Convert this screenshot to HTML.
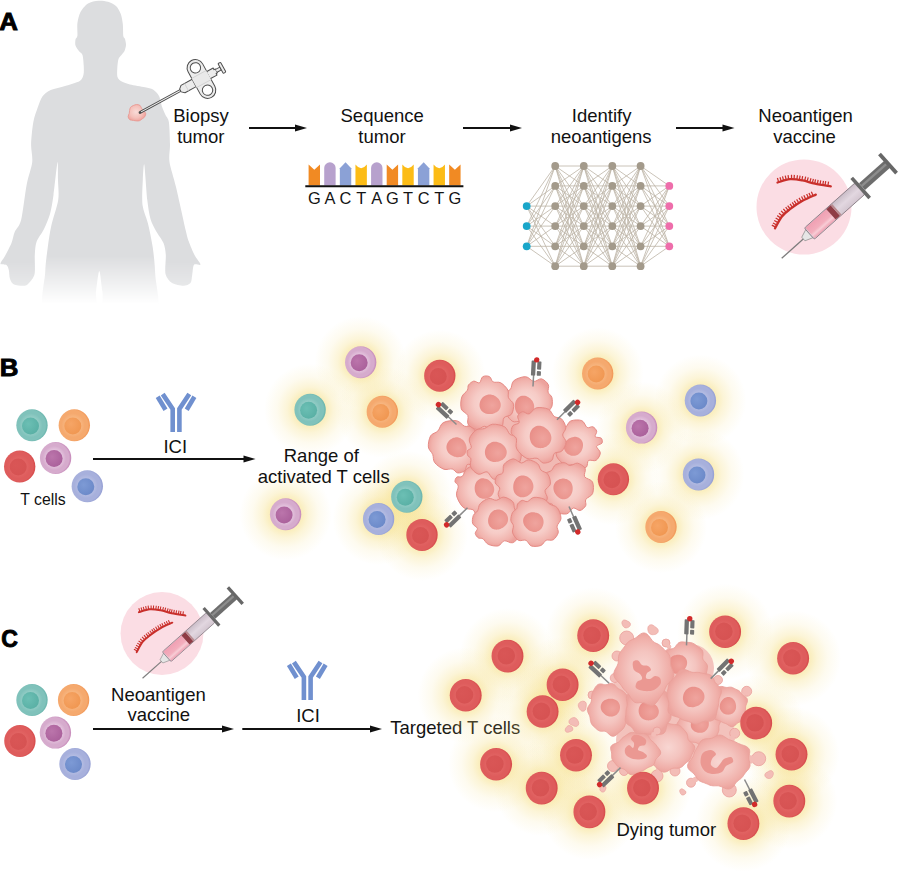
<!DOCTYPE html>
<html><head><meta charset="utf-8"><style>
html,body{margin:0;padding:0;background:#fff;width:900px;height:873px;overflow:hidden}
svg{display:block}
</style></head><body>
<svg width="900" height="873" viewBox="0 0 900 873" font-family="Liberation Sans, sans-serif">
<defs><radialGradient id="glow"><stop offset="0" stop-color="#f5dc7a" stop-opacity="0.65"/><stop offset="0.35" stop-color="#f5dc7a" stop-opacity="0.5"/><stop offset="0.5" stop-color="#f5dc7a" stop-opacity="0.3"/><stop offset="0.72" stop-color="#f5dc7a" stop-opacity="0.12"/><stop offset="1" stop-color="#f5dc7a" stop-opacity="0"/></radialGradient>
<radialGradient id="c_teal" cx="0.46" cy="0.5" r="0.52"><stop offset="0.45" stop-color="#96cec7"/><stop offset="0.72" stop-color="#80c2bb"/><stop offset="0.9" stop-color="#80c2bb"/><stop offset="1" stop-color="#6db7af"/></radialGradient>
<radialGradient id="n_teal" cx="0.38" cy="0.38" r="0.7"><stop offset="0" stop-color="#6cbfb4"/><stop offset="1" stop-color="#58afa4"/></radialGradient>
<radialGradient id="c_orange" cx="0.46" cy="0.5" r="0.52"><stop offset="0.45" stop-color="#f7b782"/><stop offset="0.72" stop-color="#f5a96e"/><stop offset="0.9" stop-color="#f5a96e"/><stop offset="1" stop-color="#f29a5a"/></radialGradient>
<radialGradient id="n_orange" cx="0.38" cy="0.38" r="0.7"><stop offset="0" stop-color="#f6a566"/><stop offset="1" stop-color="#f09650"/></radialGradient>
<radialGradient id="c_red" cx="0.46" cy="0.5" r="0.52"><stop offset="0.45" stop-color="#e26564"/><stop offset="0.72" stop-color="#de5c5c"/><stop offset="0.9" stop-color="#de5c5c"/><stop offset="1" stop-color="#d84d4d"/></radialGradient>
<radialGradient id="n_red" cx="0.38" cy="0.38" r="0.7"><stop offset="0" stop-color="#d95656"/><stop offset="1" stop-color="#d65252"/></radialGradient>
<radialGradient id="c_purple" cx="0.46" cy="0.5" r="0.52"><stop offset="0.45" stop-color="#e5c6df"/><stop offset="0.72" stop-color="#d6abcd"/><stop offset="0.9" stop-color="#d6abcd"/><stop offset="1" stop-color="#c98fbd"/></radialGradient>
<radialGradient id="n_purple" cx="0.38" cy="0.38" r="0.7"><stop offset="0" stop-color="#bb75ab"/><stop offset="1" stop-color="#a95f9a"/></radialGradient>
<radialGradient id="c_blue" cx="0.46" cy="0.5" r="0.52"><stop offset="0.45" stop-color="#b6bee3"/><stop offset="0.72" stop-color="#a7b0dc"/><stop offset="0.9" stop-color="#a7b0dc"/><stop offset="1" stop-color="#98a2d5"/></radialGradient>
<radialGradient id="n_blue" cx="0.38" cy="0.38" r="0.7"><stop offset="0" stop-color="#7d9ad5"/><stop offset="1" stop-color="#6a88c8"/></radialGradient>
<linearGradient id="fadeg" gradientUnits="userSpaceOnUse" x1="0" y1="256" x2="0" y2="304"><stop offset="0" stop-color="#fff"/><stop offset="1" stop-color="#fff" stop-opacity="0"/></linearGradient>
<linearGradient id="fadeh" gradientUnits="userSpaceOnUse" x1="0" y1="262" x2="0" y2="335"><stop offset="0" stop-color="#fff"/><stop offset="1" stop-color="#fff" stop-opacity="0"/></linearGradient>
<mask id="bodymask" maskUnits="userSpaceOnUse" x="0" y="0" width="220" height="330"><rect x="0" y="0" width="220" height="256" fill="#fff"/><rect x="0" y="256" width="40" height="6" fill="#fff"/><rect x="160" y="256" width="60" height="6" fill="#fff"/><rect x="0" y="262" width="40" height="60" fill="url(#fadeh)"/><rect x="160" y="262" width="60" height="60" fill="url(#fadeh)"/><rect x="40" y="256" width="120" height="66" fill="url(#fadeg)"/></mask>
<radialGradient id="tumA" cx="0.45" cy="0.45" r="0.6"><stop offset="0" stop-color="#f9dcd8"/><stop offset="0.6" stop-color="#f4c0ba"/><stop offset="1" stop-color="#ec9e98"/></radialGradient>
<linearGradient id="liq" x1="0" y1="0" x2="0" y2="1"><stop offset="0" stop-color="#f0a0b3"/><stop offset="0.55" stop-color="#f3aebd"/><stop offset="0.75" stop-color="#f8cdd6"/><stop offset="1" stop-color="#ee9fb1"/></linearGradient>
<linearGradient id="barrel" x1="0" y1="0" x2="0" y2="1"><stop offset="0" stop-color="#c9bcc7"/><stop offset="0.5" stop-color="#e2d7e0"/><stop offset="1" stop-color="#d3c6d0"/></linearGradient>
<radialGradient id="tc" cx="0.5" cy="0.5" r="0.5"><stop offset="0" stop-color="#f9dcd8"/><stop offset="0.5" stop-color="#f6cbc6"/><stop offset="0.85" stop-color="#f1b3ad"/><stop offset="1" stop-color="#eda29c"/></radialGradient>
<radialGradient id="tn" cx="0.6" cy="0.55" r="0.6"><stop offset="0" stop-color="#efa49e"/><stop offset="0.7" stop-color="#eb968f"/><stop offset="1" stop-color="#e98f89"/></radialGradient>
<radialGradient id="dc" cx="0.5" cy="0.5" r="0.5"><stop offset="0" stop-color="#f8d6d2"/><stop offset="0.5" stop-color="#f4c4bf"/><stop offset="0.85" stop-color="#f0afa9"/><stop offset="1" stop-color="#eca49e"/></radialGradient></defs>
<rect width="900" height="873" fill="#fff"/>
<path d="M98.4,0.8C101.23,0.56 105.51,1.06 108,1.8C110.49,2.54 114.19,4.27 116,6C117.81,7.73 119.84,11.45 120.8,14C121.76,16.55 122.45,20.88 122.8,24C123.15,27.12 122.99,33.88 123.3,36C123.61,38.12 124.62,37.73 125,39C125.38,40.27 126.07,43.3 126,45C125.93,46.7 125.14,49.58 124.5,51C123.86,52.42 122.35,53.87 121.5,55C120.65,56.13 119.09,57.16 118.5,59C117.91,60.84 117.44,65.45 117.3,68C117.16,70.55 116.86,75.07 117.5,77C118.14,78.93 120.03,80.54 121.8,81.6C123.57,82.66 126.71,83.69 130,84.5C133.29,85.31 141.74,86.59 145,87.3C148.26,88.01 151.02,88.27 153,89.5C154.98,90.73 157.7,93.48 159,96C160.3,98.52 161.28,104.61 162.2,107.3C163.12,109.99 164.55,112.89 165.5,115C166.45,117.11 168.26,118.03 168.9,122.2C169.54,126.37 169.91,138.76 170,144.4C170.09,150.04 168.65,155.97 169.5,162C170.35,168.03 173.69,177.27 176,187C178.31,196.73 183.99,222.98 185.8,230.7C187.61,238.42 187.57,238.06 188.8,241.5C190.03,244.94 192.84,251.74 194.5,255C196.16,258.26 200.57,263.11 200.5,264.5C200.43,265.89 195.18,263.31 194,264.8C192.82,266.29 192.7,272.42 192.2,275C191.7,277.58 191.75,281.48 190.5,283C189.25,284.52 186.02,285.7 183.4,285.7C180.78,285.7 174.54,284.66 172,283C169.46,281.34 166.38,277.97 165.5,274C164.62,270.03 166.08,259.39 165.8,255C165.52,250.61 164.89,246.4 163.5,243C162.11,239.6 157.84,234.4 156,231C154.16,227.6 151.73,223.39 150.5,219C149.27,214.61 148.18,207.69 147.3,200C146.42,192.31 144.94,167.53 144.3,164.7C143.66,161.87 143.06,174.29 142.8,180C142.55,185.71 141.78,198.87 142.5,205C143.22,211.13 146.44,217.24 147.9,223.3C149.36,229.36 151.75,240.48 152.8,247.8C153.85,255.12 154.92,265.62 155.3,275C155.68,284.38 162.34,308.48 155.5,314C148.66,319.52 114.51,317.12 107,314C99.49,310.88 103.59,298.09 102.5,292C101.41,285.91 100.22,271 99.3,271C98.38,271 96.89,285.91 96,292C95.11,298.09 100.22,310.88 93,314C85.78,317.12 51.77,319.92 45,314C38.23,308.08 44.82,281.58 45.2,272.2C45.58,262.82 46.84,254.37 47.7,247.8C48.56,241.23 49.81,232.57 51.3,225.8C52.79,219.03 57.25,206.49 58.2,200C59.15,193.51 58.1,185.35 58,180C57.9,174.65 58.14,160.07 57.5,162.2C56.86,164.32 54.56,187.66 53.5,195C52.44,202.34 51.35,209.18 50,214C48.65,218.82 45.91,225.03 44,229C42.09,232.97 37.8,238.32 36.5,242C35.2,245.68 35.07,250.47 34.8,255C34.53,259.53 35.42,270.03 34.6,274C33.78,277.97 30.45,281.34 29,283C27.55,284.66 26.52,285.49 24.4,285.7C22.27,285.91 16.04,285.45 14,284.5C11.96,283.55 10.74,281.05 10,279C9.26,276.95 9.3,271.98 8.8,270C8.3,268.02 7.68,265.89 6.5,265C5.32,264.11 0.71,264.97 0.5,263.7C0.29,262.43 3.44,258.93 5,256C6.56,253.07 10.13,246.4 11.5,243C12.87,239.6 13.34,235.26 14.7,232C16.06,228.74 19.4,226.74 21.1,220C22.8,213.26 25.13,192.59 26.7,184.4C28.27,176.21 31.58,167.87 32.2,162.2C32.82,156.53 30.94,150.07 31.1,144.4C31.26,138.73 32.35,127.46 33.3,122.2C34.25,116.94 36.51,110.95 37.8,107.3C39.09,103.64 40.64,98.82 42.4,96.4C44.16,93.98 47.11,91.63 50.2,90.2C53.29,88.77 60.01,87.62 64.2,86.3C68.39,84.98 77.07,82.56 79.8,80.9C82.53,79.24 82.95,76.81 83.5,74.6C84.05,72.39 83.84,68.08 83.7,65.3C83.56,62.52 83.12,56.95 82.5,55C81.88,53.05 80.29,52.85 79.3,51.5C78.31,50.15 76.04,47.2 75.5,45.5C74.96,43.8 75.23,40.87 75.5,39.5C75.77,38.13 77.13,38.09 77.4,35.8C77.67,33.5 76.96,26.67 77.4,23.3C77.84,19.93 79,14.8 80.5,12C82,9.2 85.46,5.09 88,3.5C90.54,1.91 95.57,1.04 98.4,0.8Z" fill="#dcdddf" mask="url(#bodymask)"/>
<path d="M145.65,113.3C145.89,114.34 145.35,115.79 144.76,116.72C144.17,117.66 142.97,118.24 142.11,118.91C141.24,119.57 140.5,120.37 139.57,120.7C138.63,121.04 137.5,120.98 136.5,120.93C135.5,120.89 134.64,120.61 133.55,120.43C132.45,120.25 130.85,120.46 129.95,119.85C129.04,119.24 128.24,117.86 128.12,116.77C128.01,115.68 129,114.35 129.25,113.3C129.49,112.25 129.4,111.45 129.61,110.45C129.82,109.45 129.9,108.13 130.51,107.31C131.12,106.5 132.29,106.01 133.29,105.55C134.29,105.09 135.41,104.58 136.5,104.53C137.59,104.49 138.98,104.66 139.82,105.28C140.66,105.9 140.97,107.39 141.54,108.26C142.12,109.13 142.59,109.65 143.27,110.49C143.96,111.33 145.4,112.26 145.65,113.3Z" fill="url(#tumA)" stroke="#e8948e" stroke-width="0.8"/>
<g transform="translate(140,112.5) rotate(-28.6)" stroke-linejoin="round">
<line x1="0" y1="0" x2="47" y2="0" stroke="#4d4d4d" stroke-width="2.7" stroke-linecap="round"/>
<line x1="1.2" y1="0" x2="47" y2="0" stroke="#f4f4f4" stroke-width="0.9"/>
<path d="M61.7,-12.7 A8.3,8.3 0 0 1 78.3,-12.7 L78.3,12.7 A8.3,8.3 0 0 1 61.7,12.7 Z" fill="#ececec" stroke="#4d4d4d" stroke-width="1"/>
<circle cx="70" cy="-12.7" r="5.2" fill="#fff" stroke="#4d4d4d" stroke-width="1"/>
<circle cx="70" cy="12.7" r="5.2" fill="#fff" stroke="#4d4d4d" stroke-width="1"/>
<path d="M46,-1.6 L49,-4.2 L61.7,-4.2 L61.7,4.2 L49,4.2 L46,1.6 Z" fill="#ececec" stroke="#4d4d4d" stroke-width="1"/>
<line x1="53" y1="-4" x2="53" y2="4" stroke="#cfcfcf" stroke-width="0.8"/>
<rect x="61.7" y="-5.2" width="16.6" height="10.4" fill="#e9e9e9"/>
<line x1="61.7" y1="-5.2" x2="78.3" y2="-5.2" stroke="#d0d0d0" stroke-width="0.8"/>
<line x1="61.7" y1="5.2" x2="78.3" y2="5.2" stroke="#d0d0d0" stroke-width="0.8"/>
<path d="M78.3,-4 L85.5,-4 L85.5,-2.2 L87,-2.2 L87,2.2 L85.5,2.2 L85.5,4 L78.3,4" fill="#ececec" stroke="#4d4d4d" stroke-width="1"/>
<path d="M87,-1.6 L91.8,-1.6 L91.8,1.6 L87,1.6" fill="#ececec" stroke="#4d4d4d" stroke-width="0.9"/>
<rect x="91.8" y="-5.6" width="3" height="11.2" rx="0.8" fill="#ececec" stroke="#4d4d4d" stroke-width="1"/>
</g>
<g transform="translate(8.6,29.6) scale(1.1,1)">
<text x="0" y="0" font-size="23.5" text-anchor="middle" font-weight="bold" fill="#000" stroke="#000" stroke-width="0.9">A</text>
</g>
<text x="201" y="122.2" font-size="18.5" text-anchor="middle" font-weight="normal" fill="#111" stroke="#111" stroke-width="0">Biopsy</text>
<text x="200.8" y="142.6" font-size="18.5" text-anchor="middle" font-weight="normal" fill="#111" stroke="#111" stroke-width="0">tumor</text>
<line x1="249" y1="128" x2="298" y2="128" stroke="#111" stroke-width="2"/>
<path d="M307,128 L295,124.6 L295,131.4 Z" fill="#111"/>
<text x="382.2" y="122.2" font-size="18.5" text-anchor="middle" font-weight="normal" fill="#111" stroke="#111" stroke-width="0">Sequence</text>
<text x="382" y="142.6" font-size="18.5" text-anchor="middle" font-weight="normal" fill="#111" stroke="#111" stroke-width="0">tumor</text>
<line x1="463" y1="128" x2="513" y2="128" stroke="#111" stroke-width="2"/>
<path d="M522,128 L510,124.6 L510,131.4 Z" fill="#111"/>
<text x="601.6" y="122.2" font-size="18.5" text-anchor="middle" font-weight="normal" fill="#111" stroke="#111" stroke-width="0">Identify</text>
<text x="601.2" y="142.6" font-size="18.5" text-anchor="middle" font-weight="normal" fill="#111" stroke="#111" stroke-width="0">neoantigens</text>
<line x1="676" y1="128" x2="725.5" y2="128" stroke="#111" stroke-width="2"/>
<path d="M734.5,128 L722.5,124.6 L722.5,131.4 Z" fill="#111"/>
<text x="805.6" y="122.2" font-size="18.5" text-anchor="middle" font-weight="normal" fill="#111" stroke="#111" stroke-width="0">Neoantigen</text>
<text x="804.5" y="142.6" font-size="18.5" text-anchor="middle" font-weight="normal" fill="#111" stroke="#111" stroke-width="0">vaccine</text>
<path d="M308.6,185.5 L308.6,164.6 L314.3,169.8 L320,164.6 L320,185.5 Z" fill="#f18a23"/>
<text x="314.3" y="203.6" font-size="16.4" text-anchor="middle" font-weight="normal" fill="#141414" stroke="#141414" stroke-width="0">G</text>
<path d="M324.22,185.5 L324.22,168 A5.7,5.7 0 0 1 335.62,168 L335.62,185.5 Z" fill="#b7a1cd"/>
<text x="329.92" y="203.6" font-size="16.4" text-anchor="middle" font-weight="normal" fill="#141414" stroke="#141414" stroke-width="0">A</text>
<path d="M339.84,185.5 L339.84,168.2 L345.54,162.3 L351.24,168.2 L351.24,185.5 Z" fill="#8ba1d6"/>
<text x="345.54" y="203.6" font-size="16.4" text-anchor="middle" font-weight="normal" fill="#141414" stroke="#141414" stroke-width="0">C</text>
<path d="M355.46,185.5 L355.46,164.6 Q361.16,172 366.86,164.6 L366.86,185.5 Z" fill="#fcbc16"/>
<text x="361.16" y="203.6" font-size="16.4" text-anchor="middle" font-weight="normal" fill="#141414" stroke="#141414" stroke-width="0">T</text>
<path d="M371.08,185.5 L371.08,168 A5.7,5.7 0 0 1 382.48,168 L382.48,185.5 Z" fill="#b7a1cd"/>
<text x="376.78" y="203.6" font-size="16.4" text-anchor="middle" font-weight="normal" fill="#141414" stroke="#141414" stroke-width="0">A</text>
<path d="M386.7,185.5 L386.7,164.6 L392.4,169.8 L398.1,164.6 L398.1,185.5 Z" fill="#f18a23"/>
<text x="392.4" y="203.6" font-size="16.4" text-anchor="middle" font-weight="normal" fill="#141414" stroke="#141414" stroke-width="0">G</text>
<path d="M402.32,185.5 L402.32,164.6 Q408.02,172 413.72,164.6 L413.72,185.5 Z" fill="#fcbc16"/>
<text x="408.02" y="203.6" font-size="16.4" text-anchor="middle" font-weight="normal" fill="#141414" stroke="#141414" stroke-width="0">T</text>
<path d="M417.94,185.5 L417.94,168.2 L423.64,162.3 L429.34,168.2 L429.34,185.5 Z" fill="#8ba1d6"/>
<text x="423.64" y="203.6" font-size="16.4" text-anchor="middle" font-weight="normal" fill="#141414" stroke="#141414" stroke-width="0">C</text>
<path d="M433.56,185.5 L433.56,164.6 Q439.26,172 444.96,164.6 L444.96,185.5 Z" fill="#fcbc16"/>
<text x="439.26" y="203.6" font-size="16.4" text-anchor="middle" font-weight="normal" fill="#141414" stroke="#141414" stroke-width="0">T</text>
<path d="M449.18,185.5 L449.18,164.6 L454.88,169.8 L460.58,164.6 L460.58,185.5 Z" fill="#f18a23"/>
<text x="454.88" y="203.6" font-size="16.4" text-anchor="middle" font-weight="normal" fill="#141414" stroke="#141414" stroke-width="0">G</text>
<line x1="305.3" y1="186.2" x2="463.4" y2="186.2" stroke="#111" stroke-width="1.9"/>
<g stroke="#bdb4a6" stroke-width="0.8">
<line x1="526.7" y1="206.1" x2="555.2" y2="166"/>
<line x1="526.7" y1="206.1" x2="555.2" y2="185.9"/>
<line x1="526.7" y1="206.1" x2="555.2" y2="206.1"/>
<line x1="526.7" y1="206.1" x2="555.2" y2="226.1"/>
<line x1="526.7" y1="206.1" x2="555.2" y2="246.3"/>
<line x1="526.7" y1="206.1" x2="555.2" y2="266.2"/>
<line x1="526.7" y1="226.1" x2="555.2" y2="166"/>
<line x1="526.7" y1="226.1" x2="555.2" y2="185.9"/>
<line x1="526.7" y1="226.1" x2="555.2" y2="206.1"/>
<line x1="526.7" y1="226.1" x2="555.2" y2="226.1"/>
<line x1="526.7" y1="226.1" x2="555.2" y2="246.3"/>
<line x1="526.7" y1="226.1" x2="555.2" y2="266.2"/>
<line x1="526.7" y1="246.3" x2="555.2" y2="166"/>
<line x1="526.7" y1="246.3" x2="555.2" y2="185.9"/>
<line x1="526.7" y1="246.3" x2="555.2" y2="206.1"/>
<line x1="526.7" y1="246.3" x2="555.2" y2="226.1"/>
<line x1="526.7" y1="246.3" x2="555.2" y2="246.3"/>
<line x1="526.7" y1="246.3" x2="555.2" y2="266.2"/>
<line x1="555.2" y1="166" x2="583.8" y2="166"/>
<line x1="555.2" y1="166" x2="583.8" y2="185.9"/>
<line x1="555.2" y1="166" x2="583.8" y2="206.1"/>
<line x1="555.2" y1="166" x2="583.8" y2="226.1"/>
<line x1="555.2" y1="166" x2="583.8" y2="246.3"/>
<line x1="555.2" y1="166" x2="583.8" y2="266.2"/>
<line x1="555.2" y1="185.9" x2="583.8" y2="166"/>
<line x1="555.2" y1="185.9" x2="583.8" y2="185.9"/>
<line x1="555.2" y1="185.9" x2="583.8" y2="206.1"/>
<line x1="555.2" y1="185.9" x2="583.8" y2="226.1"/>
<line x1="555.2" y1="185.9" x2="583.8" y2="246.3"/>
<line x1="555.2" y1="185.9" x2="583.8" y2="266.2"/>
<line x1="555.2" y1="206.1" x2="583.8" y2="166"/>
<line x1="555.2" y1="206.1" x2="583.8" y2="185.9"/>
<line x1="555.2" y1="206.1" x2="583.8" y2="206.1"/>
<line x1="555.2" y1="206.1" x2="583.8" y2="226.1"/>
<line x1="555.2" y1="206.1" x2="583.8" y2="246.3"/>
<line x1="555.2" y1="206.1" x2="583.8" y2="266.2"/>
<line x1="555.2" y1="226.1" x2="583.8" y2="166"/>
<line x1="555.2" y1="226.1" x2="583.8" y2="185.9"/>
<line x1="555.2" y1="226.1" x2="583.8" y2="206.1"/>
<line x1="555.2" y1="226.1" x2="583.8" y2="226.1"/>
<line x1="555.2" y1="226.1" x2="583.8" y2="246.3"/>
<line x1="555.2" y1="226.1" x2="583.8" y2="266.2"/>
<line x1="555.2" y1="246.3" x2="583.8" y2="166"/>
<line x1="555.2" y1="246.3" x2="583.8" y2="185.9"/>
<line x1="555.2" y1="246.3" x2="583.8" y2="206.1"/>
<line x1="555.2" y1="246.3" x2="583.8" y2="226.1"/>
<line x1="555.2" y1="246.3" x2="583.8" y2="246.3"/>
<line x1="555.2" y1="246.3" x2="583.8" y2="266.2"/>
<line x1="555.2" y1="266.2" x2="583.8" y2="166"/>
<line x1="555.2" y1="266.2" x2="583.8" y2="185.9"/>
<line x1="555.2" y1="266.2" x2="583.8" y2="206.1"/>
<line x1="555.2" y1="266.2" x2="583.8" y2="226.1"/>
<line x1="555.2" y1="266.2" x2="583.8" y2="246.3"/>
<line x1="555.2" y1="266.2" x2="583.8" y2="266.2"/>
<line x1="583.8" y1="166" x2="612.3" y2="166"/>
<line x1="583.8" y1="166" x2="612.3" y2="185.9"/>
<line x1="583.8" y1="166" x2="612.3" y2="206.1"/>
<line x1="583.8" y1="166" x2="612.3" y2="226.1"/>
<line x1="583.8" y1="166" x2="612.3" y2="246.3"/>
<line x1="583.8" y1="166" x2="612.3" y2="266.2"/>
<line x1="583.8" y1="185.9" x2="612.3" y2="166"/>
<line x1="583.8" y1="185.9" x2="612.3" y2="185.9"/>
<line x1="583.8" y1="185.9" x2="612.3" y2="206.1"/>
<line x1="583.8" y1="185.9" x2="612.3" y2="226.1"/>
<line x1="583.8" y1="185.9" x2="612.3" y2="246.3"/>
<line x1="583.8" y1="185.9" x2="612.3" y2="266.2"/>
<line x1="583.8" y1="206.1" x2="612.3" y2="166"/>
<line x1="583.8" y1="206.1" x2="612.3" y2="185.9"/>
<line x1="583.8" y1="206.1" x2="612.3" y2="206.1"/>
<line x1="583.8" y1="206.1" x2="612.3" y2="226.1"/>
<line x1="583.8" y1="206.1" x2="612.3" y2="246.3"/>
<line x1="583.8" y1="206.1" x2="612.3" y2="266.2"/>
<line x1="583.8" y1="226.1" x2="612.3" y2="166"/>
<line x1="583.8" y1="226.1" x2="612.3" y2="185.9"/>
<line x1="583.8" y1="226.1" x2="612.3" y2="206.1"/>
<line x1="583.8" y1="226.1" x2="612.3" y2="226.1"/>
<line x1="583.8" y1="226.1" x2="612.3" y2="246.3"/>
<line x1="583.8" y1="226.1" x2="612.3" y2="266.2"/>
<line x1="583.8" y1="246.3" x2="612.3" y2="166"/>
<line x1="583.8" y1="246.3" x2="612.3" y2="185.9"/>
<line x1="583.8" y1="246.3" x2="612.3" y2="206.1"/>
<line x1="583.8" y1="246.3" x2="612.3" y2="226.1"/>
<line x1="583.8" y1="246.3" x2="612.3" y2="246.3"/>
<line x1="583.8" y1="246.3" x2="612.3" y2="266.2"/>
<line x1="583.8" y1="266.2" x2="612.3" y2="166"/>
<line x1="583.8" y1="266.2" x2="612.3" y2="185.9"/>
<line x1="583.8" y1="266.2" x2="612.3" y2="206.1"/>
<line x1="583.8" y1="266.2" x2="612.3" y2="226.1"/>
<line x1="583.8" y1="266.2" x2="612.3" y2="246.3"/>
<line x1="583.8" y1="266.2" x2="612.3" y2="266.2"/>
<line x1="612.3" y1="166" x2="640.6" y2="166"/>
<line x1="612.3" y1="166" x2="640.6" y2="185.9"/>
<line x1="612.3" y1="166" x2="640.6" y2="206.1"/>
<line x1="612.3" y1="166" x2="640.6" y2="226.1"/>
<line x1="612.3" y1="166" x2="640.6" y2="246.3"/>
<line x1="612.3" y1="166" x2="640.6" y2="266.2"/>
<line x1="612.3" y1="185.9" x2="640.6" y2="166"/>
<line x1="612.3" y1="185.9" x2="640.6" y2="185.9"/>
<line x1="612.3" y1="185.9" x2="640.6" y2="206.1"/>
<line x1="612.3" y1="185.9" x2="640.6" y2="226.1"/>
<line x1="612.3" y1="185.9" x2="640.6" y2="246.3"/>
<line x1="612.3" y1="185.9" x2="640.6" y2="266.2"/>
<line x1="612.3" y1="206.1" x2="640.6" y2="166"/>
<line x1="612.3" y1="206.1" x2="640.6" y2="185.9"/>
<line x1="612.3" y1="206.1" x2="640.6" y2="206.1"/>
<line x1="612.3" y1="206.1" x2="640.6" y2="226.1"/>
<line x1="612.3" y1="206.1" x2="640.6" y2="246.3"/>
<line x1="612.3" y1="206.1" x2="640.6" y2="266.2"/>
<line x1="612.3" y1="226.1" x2="640.6" y2="166"/>
<line x1="612.3" y1="226.1" x2="640.6" y2="185.9"/>
<line x1="612.3" y1="226.1" x2="640.6" y2="206.1"/>
<line x1="612.3" y1="226.1" x2="640.6" y2="226.1"/>
<line x1="612.3" y1="226.1" x2="640.6" y2="246.3"/>
<line x1="612.3" y1="226.1" x2="640.6" y2="266.2"/>
<line x1="612.3" y1="246.3" x2="640.6" y2="166"/>
<line x1="612.3" y1="246.3" x2="640.6" y2="185.9"/>
<line x1="612.3" y1="246.3" x2="640.6" y2="206.1"/>
<line x1="612.3" y1="246.3" x2="640.6" y2="226.1"/>
<line x1="612.3" y1="246.3" x2="640.6" y2="246.3"/>
<line x1="612.3" y1="246.3" x2="640.6" y2="266.2"/>
<line x1="612.3" y1="266.2" x2="640.6" y2="166"/>
<line x1="612.3" y1="266.2" x2="640.6" y2="185.9"/>
<line x1="612.3" y1="266.2" x2="640.6" y2="206.1"/>
<line x1="612.3" y1="266.2" x2="640.6" y2="226.1"/>
<line x1="612.3" y1="266.2" x2="640.6" y2="246.3"/>
<line x1="612.3" y1="266.2" x2="640.6" y2="266.2"/>
<line x1="640.6" y1="166" x2="669.3" y2="185.9"/>
<line x1="640.6" y1="166" x2="669.3" y2="206.1"/>
<line x1="640.6" y1="166" x2="669.3" y2="226.1"/>
<line x1="640.6" y1="166" x2="669.3" y2="246.3"/>
<line x1="640.6" y1="185.9" x2="669.3" y2="185.9"/>
<line x1="640.6" y1="185.9" x2="669.3" y2="206.1"/>
<line x1="640.6" y1="185.9" x2="669.3" y2="226.1"/>
<line x1="640.6" y1="185.9" x2="669.3" y2="246.3"/>
<line x1="640.6" y1="206.1" x2="669.3" y2="185.9"/>
<line x1="640.6" y1="206.1" x2="669.3" y2="206.1"/>
<line x1="640.6" y1="206.1" x2="669.3" y2="226.1"/>
<line x1="640.6" y1="206.1" x2="669.3" y2="246.3"/>
<line x1="640.6" y1="226.1" x2="669.3" y2="185.9"/>
<line x1="640.6" y1="226.1" x2="669.3" y2="206.1"/>
<line x1="640.6" y1="226.1" x2="669.3" y2="226.1"/>
<line x1="640.6" y1="226.1" x2="669.3" y2="246.3"/>
<line x1="640.6" y1="246.3" x2="669.3" y2="185.9"/>
<line x1="640.6" y1="246.3" x2="669.3" y2="206.1"/>
<line x1="640.6" y1="246.3" x2="669.3" y2="226.1"/>
<line x1="640.6" y1="246.3" x2="669.3" y2="246.3"/>
<line x1="640.6" y1="266.2" x2="669.3" y2="185.9"/>
<line x1="640.6" y1="266.2" x2="669.3" y2="206.1"/>
<line x1="640.6" y1="266.2" x2="669.3" y2="226.1"/>
<line x1="640.6" y1="266.2" x2="669.3" y2="246.3"/>
</g>
<circle cx="526.7" cy="206.1" r="3.9" fill="#1aa6c9"/>
<circle cx="526.7" cy="226.1" r="3.9" fill="#1aa6c9"/>
<circle cx="526.7" cy="246.3" r="3.9" fill="#1aa6c9"/>
<circle cx="555.2" cy="166" r="3.9" fill="#a39a8b"/>
<circle cx="555.2" cy="185.9" r="3.9" fill="#a39a8b"/>
<circle cx="555.2" cy="206.1" r="3.9" fill="#a39a8b"/>
<circle cx="555.2" cy="226.1" r="3.9" fill="#a39a8b"/>
<circle cx="555.2" cy="246.3" r="3.9" fill="#a39a8b"/>
<circle cx="555.2" cy="266.2" r="3.9" fill="#a39a8b"/>
<circle cx="583.8" cy="166" r="3.9" fill="#a39a8b"/>
<circle cx="583.8" cy="185.9" r="3.9" fill="#a39a8b"/>
<circle cx="583.8" cy="206.1" r="3.9" fill="#a39a8b"/>
<circle cx="583.8" cy="226.1" r="3.9" fill="#a39a8b"/>
<circle cx="583.8" cy="246.3" r="3.9" fill="#a39a8b"/>
<circle cx="583.8" cy="266.2" r="3.9" fill="#a39a8b"/>
<circle cx="612.3" cy="166" r="3.9" fill="#a39a8b"/>
<circle cx="612.3" cy="185.9" r="3.9" fill="#a39a8b"/>
<circle cx="612.3" cy="206.1" r="3.9" fill="#a39a8b"/>
<circle cx="612.3" cy="226.1" r="3.9" fill="#a39a8b"/>
<circle cx="612.3" cy="246.3" r="3.9" fill="#a39a8b"/>
<circle cx="612.3" cy="266.2" r="3.9" fill="#a39a8b"/>
<circle cx="640.6" cy="166" r="3.9" fill="#a39a8b"/>
<circle cx="640.6" cy="185.9" r="3.9" fill="#a39a8b"/>
<circle cx="640.6" cy="206.1" r="3.9" fill="#a39a8b"/>
<circle cx="640.6" cy="226.1" r="3.9" fill="#a39a8b"/>
<circle cx="640.6" cy="246.3" r="3.9" fill="#a39a8b"/>
<circle cx="640.6" cy="266.2" r="3.9" fill="#a39a8b"/>
<circle cx="669.3" cy="185.9" r="3.9" fill="#ee6eab"/>
<circle cx="669.3" cy="206.1" r="3.9" fill="#ee6eab"/>
<circle cx="669.3" cy="226.1" r="3.9" fill="#ee6eab"/>
<circle cx="669.3" cy="246.3" r="3.9" fill="#ee6eab"/>
<g transform="translate(804,207) scale(1.0000)">
<circle cx="0" cy="0" r="47.5" fill="#fbdde4"/>
<path d="M-26.5,-24.5C-24.42,-25.05 -18.17,-27.45 -14,-27.8C-9.83,-28.15 -5.67,-27.35 -1.5,-26.6C2.67,-25.85 6.28,-24.3 11,-23.3C15.72,-22.3 24.17,-21.05 26.8,-20.6" fill="none" stroke="#c9302c" stroke-width="2.3" stroke-linecap="round"/><path d="M-25.3,-24.86 l-1.31,-4.1 M-22.73,-25.69 l-1.31,-4.1 M-20.32,-26.44 l-1.2,-4.13 M-17.78,-27.13 l-1,-4.18 M-15.31,-27.64 l-0.64,-4.25 M-12.44,-27.88 l-0.06,-4.3 M-9.94,-27.82 l0.3,-4.29 M-7.12,-27.53 l0.58,-4.26 M-4.62,-27.15 l0.72,-4.24 M-2.12,-26.71 l0.76,-4.23 M0.65,-26.14 l1.04,-4.17 M3.04,-25.49 l1.21,-4.13 M5.76,-24.68 l1.23,-4.12 M8.29,-23.96 l1.1,-4.16 M10.65,-23.38 l0.91,-4.2 M13.34,-22.84 l0.78,-4.23 M16,-22.36 l0.73,-4.24 M18.77,-21.89 l0.7,-4.24 M21.02,-21.53 l0.68,-4.25 M23.88,-21.07 l0.67,-4.25" stroke="#c9302c" stroke-width="1.25" fill="none"/>
<path d="M-29,21.3C-27.88,19.37 -24.8,12.88 -22.3,9.7C-19.8,6.52 -17.47,4.85 -14,2.2C-10.53,-0.45 -5.8,-3.77 -1.5,-6.2C2.8,-8.63 9.58,-11.37 11.8,-12.4" fill="none" stroke="#c9302c" stroke-width="2.3" stroke-linecap="round"/><path d="M-28.37,20.15 l-3.8,-2 M-27.21,17.93 l-3.81,-2 M-25.98,15.63 l-3.77,-2.06 M-24.64,13.24 l-3.7,-2.19 M-23.26,11.03 l-3.56,-2.42 M-21.74,9.01 l-3.29,-2.77 M-19.87,6.99 l-2.98,-3.1 M-17.91,5.24 l-2.73,-3.32 M-15.72,3.51 l-2.61,-3.42 M-13.74,2 l-2.6,-3.43 M-11.49,0.33 l-2.52,-3.48 M-9.34,-1.2 l-2.45,-3.53 M-7.41,-2.52 l-2.39,-3.58 M-5.11,-4.02 l-2.3,-3.63 M-2.8,-5.45 l-2.19,-3.7 M-0.49,-6.75 l-2.01,-3.8 M1.7,-7.87 l-1.88,-3.87 M4.4,-9.14 l-1.78,-3.91 M6.68,-10.15 l-1.73,-3.94 M9.08,-11.2 l-1.71,-3.95" stroke="#c9302c" stroke-width="1.25" fill="none"/>
<g transform="translate(-22.3,51.3) rotate(-41.7)">
<line x1="0" y1="0" x2="30" y2="0" stroke="#7d7d7d" stroke-width="1.3"/>
<path d="M29,-2.4 L37.5,-5.6 L37.5,5.6 L29,2.4 Z" fill="#e6e6e6" stroke="#8d8d8d" stroke-width="0.7"/>
<rect x="37" y="-7.5" width="68" height="15" rx="1.5" fill="url(#barrel)" stroke="#8a7f87" stroke-width="0.9"/>
<rect x="38" y="-7" width="28" height="14" fill="url(#liq)"/>
<rect x="66" y="-7" width="5.8" height="14" fill="#8f3c45"/>
<rect x="71.8" y="-7" width="2" height="14" fill="#b98a8f"/>
<rect x="104" y="-13.5" width="3.6" height="27" fill="#696969"/>
<rect x="107.6" y="-4.5" width="33.5" height="9" fill="#6d6d6d"/>
<rect x="107.6" y="-2" width="33.5" height="2.4" fill="#8d8d8d"/>
<rect x="140.5" y="-12.8" width="3.8" height="25.6" fill="#676767"/>
</g>
</g>
<g transform="translate(9.2,376.2) scale(1.1,1)">
<text x="0" y="0" font-size="23.5" text-anchor="middle" font-weight="bold" fill="#000" stroke="#000" stroke-width="0.9">B</text>
</g>
<circle cx="360.7" cy="362.2" r="46" fill="url(#glow)"/>
<circle cx="310.1" cy="409.7" r="46" fill="url(#glow)"/>
<circle cx="382.3" cy="411.8" r="46" fill="url(#glow)"/>
<circle cx="439.8" cy="375.8" r="46" fill="url(#glow)"/>
<circle cx="285.6" cy="514.3" r="46" fill="url(#glow)"/>
<circle cx="406.8" cy="496.7" r="46" fill="url(#glow)"/>
<circle cx="378.6" cy="519" r="46" fill="url(#glow)"/>
<circle cx="422" cy="534.9" r="46" fill="url(#glow)"/>
<circle cx="597.7" cy="373.5" r="46" fill="url(#glow)"/>
<circle cx="700.4" cy="400.5" r="46" fill="url(#glow)"/>
<circle cx="641.6" cy="427.6" r="46" fill="url(#glow)"/>
<circle cx="613.4" cy="479.2" r="46" fill="url(#glow)"/>
<circle cx="698.5" cy="474.4" r="46" fill="url(#glow)"/>
<circle cx="661" cy="527" r="46" fill="url(#glow)"/>
<path d="M475,425 L520,405 L555,430 L565,470 L550,500 L520,508 L485,500 L465,460 Z" fill="#f1b9b3" stroke="#f1b9b3" stroke-width="14" stroke-linejoin="round"/>
<path d="M506.19,408.64C505.17,406.56 501.46,405.25 500.83,402.63C500.2,400.01 500.83,395.11 502.4,392.93C503.97,390.74 508.36,391.57 510.25,389.54C512.15,387.51 511.23,382.89 513.78,380.74C516.32,378.6 522.2,376.57 525.53,376.68C528.85,376.8 531.07,381.07 533.73,381.43C536.39,381.8 539.04,378.32 541.47,378.86C543.9,379.39 547.21,382.45 548.31,384.67C549.42,386.89 547.51,390.07 548.11,392.2C548.7,394.33 551.26,395.16 551.9,397.46C552.55,399.77 552.51,403.67 551.99,406.03C551.48,408.39 549.42,409.3 548.83,411.61C548.25,413.91 549.88,417.41 548.48,419.85C547.08,422.29 543.15,425.54 540.44,426.25C537.72,426.96 534.22,423.76 532.19,424.11C530.17,424.45 529.98,427.73 528.29,428.34C526.6,428.95 523.55,428.81 522.07,427.74C520.6,426.67 520.99,422.97 519.43,421.92C517.87,420.87 514.79,422.57 512.71,421.44C510.63,420.3 508.03,417.23 506.94,415.09C505.85,412.96 507.21,410.71 506.19,408.64Z" fill="url(#tc)" stroke="#e68b85" stroke-width="1"/>
<path d="M534.18,406.2C534.21,406.71 534.19,407.24 534.13,407.76C534.07,408.27 533.96,408.79 533.82,409.29C533.67,409.79 533.47,410.29 533.24,410.76C533.01,411.22 532.73,411.68 532.43,412.11C532.13,412.53 531.78,412.94 531.41,413.31C531.05,413.69 530.65,414.04 530.23,414.36C529.81,414.67 529.36,414.96 528.89,415.22C528.43,415.47 527.94,415.69 527.44,415.88C526.95,416.06 526.43,416.21 525.9,416.31C525.38,416.42 524.84,416.48 524.3,416.5C523.76,416.51 523.22,416.49 522.68,416.41C522.15,416.33 521.62,416.2 521.11,416.03C520.6,415.85 520.1,415.63 519.63,415.36C519.17,415.09 518.72,414.77 518.32,414.43C517.92,414.08 517.55,413.69 517.22,413.28C516.89,412.88 516.59,412.43 516.34,411.98C516.09,411.53 515.87,411.06 515.69,410.59C515.51,410.11 515.37,409.62 515.25,409.14C515.14,408.65 515.05,408.16 514.99,407.67C514.93,407.18 514.9,406.69 514.89,406.2C514.88,405.71 514.89,405.21 514.93,404.72C514.97,404.22 515.03,403.72 515.13,403.22C515.23,402.72 515.35,402.22 515.52,401.73C515.69,401.24 515.89,400.74 516.14,400.27C516.39,399.8 516.68,399.33 517.01,398.91C517.34,398.48 517.72,398.07 518.13,397.71C518.55,397.35 519.01,397.03 519.49,396.76C519.97,396.49 520.49,396.27 521.02,396.1C521.55,395.94 522.1,395.83 522.65,395.78C523.2,395.73 523.76,395.74 524.3,395.79C524.84,395.84 525.38,395.96 525.9,396.1C526.42,396.25 526.92,396.45 527.4,396.67C527.87,396.89 528.33,397.16 528.77,397.44C529.2,397.72 529.61,398.03 530,398.36C530.39,398.69 530.75,399.04 531.09,399.41C531.44,399.77 531.76,400.16 532.06,400.56C532.35,400.97 532.63,401.39 532.87,401.83C533.12,402.27 533.34,402.73 533.52,403.2C533.7,403.68 533.86,404.17 533.97,404.67C534.08,405.17 534.15,405.69 534.18,406.2Z" fill="url(#tn)"/>
<path d="M556.44,447.81C555.85,445.06 553.02,443.12 553.19,440.19C553.36,437.26 555.43,432.33 557.46,430.22C559.49,428.11 563.15,429.07 565.37,427.53C567.58,425.98 568.03,422.1 570.76,420.95C573.49,419.79 579.02,419.51 581.75,420.6C584.48,421.69 585.32,426.46 587.15,427.48C588.99,428.5 591.18,426.12 592.77,426.74C594.36,427.36 596.28,429.55 596.69,431.21C597.1,432.86 594.48,435.51 595.24,436.67C595.99,437.83 600.1,437.09 601.22,438.16C602.35,439.23 602.78,441.72 602,443.08C601.23,444.45 596.86,444.68 596.57,446.33C596.29,447.98 600.38,450.66 600.3,452.99C600.23,455.32 598.08,459.05 596.11,460.3C594.15,461.55 590.11,459.36 588.5,460.48C586.89,461.6 587.98,465.64 586.45,467.03C584.92,468.43 581.33,469.25 579.32,468.83C577.3,468.4 576.68,465.12 574.35,464.5C572.02,463.87 568.27,466.38 565.34,465.08C562.4,463.79 558.24,459.61 556.75,456.74C555.27,453.86 557.04,450.57 556.44,447.81Z" fill="url(#tc)" stroke="#e68b85" stroke-width="1"/>
<path d="M582.95,446.3C582.89,446.79 582.8,447.27 582.69,447.74C582.57,448.21 582.43,448.67 582.26,449.11C582.09,449.56 581.9,450 581.69,450.42C581.47,450.84 581.23,451.26 580.97,451.65C580.7,452.05 580.41,452.43 580.09,452.79C579.77,453.15 579.43,453.5 579.05,453.81C578.68,454.12 578.28,454.41 577.86,454.66C577.44,454.91 576.99,455.13 576.53,455.31C576.06,455.48 575.58,455.62 575.09,455.72C574.6,455.81 574.1,455.86 573.6,455.87C573.1,455.88 572.59,455.84 572.1,455.77C571.61,455.69 571.11,455.58 570.64,455.42C570.16,455.27 569.69,455.08 569.24,454.86C568.79,454.63 568.36,454.37 567.94,454.08C567.53,453.8 567.14,453.48 566.77,453.13C566.41,452.78 566.06,452.4 565.75,452C565.44,451.6 565.16,451.17 564.91,450.73C564.67,450.28 564.46,449.81 564.3,449.32C564.14,448.84 564.01,448.33 563.94,447.83C563.86,447.33 563.84,446.81 563.86,446.3C563.88,445.79 563.95,445.28 564.07,444.79C564.18,444.3 564.34,443.81 564.54,443.36C564.74,442.9 564.99,442.46 565.26,442.05C565.52,441.64 565.83,441.25 566.15,440.89C566.48,440.53 566.83,440.2 567.19,439.89C567.55,439.58 567.93,439.3 568.32,439.04C568.72,438.78 569.12,438.54 569.53,438.32C569.95,438.1 570.38,437.9 570.81,437.73C571.25,437.55 571.7,437.39 572.17,437.26C572.63,437.14 573.11,437.03 573.6,436.96C574.09,436.89 574.59,436.85 575.1,436.86C575.6,436.86 576.12,436.91 576.62,437C577.13,437.1 577.64,437.24 578.12,437.43C578.6,437.62 579.08,437.87 579.52,438.15C579.95,438.44 580.37,438.79 580.74,439.16C581.11,439.53 581.44,439.96 581.72,440.4C582.01,440.84 582.24,441.32 582.43,441.8C582.62,442.28 582.76,442.79 582.86,443.29C582.96,443.79 583,444.31 583.02,444.81C583.03,445.31 583,445.81 582.95,446.3Z" fill="url(#tn)"/>
<path d="M452.22,468.98C449.91,468.37 446.73,470.29 443.81,469.23C440.89,468.16 436.53,465.06 434.67,462.58C432.82,460.11 433.75,456.97 432.7,454.36C431.64,451.76 428.71,450.07 428.37,446.97C428.03,443.88 429.07,438.46 430.65,435.81C432.24,433.15 435.77,433.24 437.87,431.04C439.98,428.84 440.21,424.33 443.3,422.61C446.4,420.88 452.9,420.07 456.45,420.67C460,421.28 462.25,425.32 464.6,426.24C466.95,427.17 468.78,425.38 470.54,426.24C472.31,427.1 474.78,429.45 475.2,431.4C475.62,433.35 472.55,436.27 473.07,437.95C473.6,439.63 477.42,439.71 478.36,441.48C479.31,443.25 479.44,446.72 478.72,448.59C478.01,450.47 474.28,450.97 474.07,452.71C473.85,454.46 477.52,457.08 477.43,459.05C477.34,461.03 475.23,463.65 473.53,464.58C471.83,465.5 468.68,463.57 467.22,464.59C465.77,465.62 466.41,469.34 464.81,470.73C463.21,472.11 459.71,473.19 457.62,472.9C455.52,472.61 454.52,469.59 452.22,468.98Z" fill="url(#tc)" stroke="#e68b85" stroke-width="1"/>
<path d="M466.6,447.4C466.66,447.92 466.7,448.45 466.68,448.98C466.67,449.51 466.62,450.06 466.51,450.59C466.41,451.12 466.26,451.66 466.05,452.16C465.84,452.67 465.59,453.17 465.28,453.63C464.97,454.09 464.61,454.53 464.22,454.92C463.82,455.3 463.38,455.66 462.91,455.95C462.45,456.24 461.94,456.49 461.43,456.69C460.92,456.88 460.39,457.02 459.86,457.12C459.33,457.21 458.79,457.25 458.26,457.26C457.74,457.27 457.21,457.23 456.7,457.16C456.19,457.1 455.69,456.99 455.2,456.86C454.71,456.74 454.24,456.58 453.77,456.41C453.31,456.23 452.86,456.03 452.42,455.81C451.97,455.59 451.54,455.34 451.13,455.07C450.71,454.8 450.3,454.51 449.91,454.19C449.53,453.86 449.15,453.51 448.81,453.13C448.47,452.75 448.15,452.34 447.87,451.9C447.59,451.46 447.33,451 447.13,450.51C446.92,450.03 446.76,449.51 446.64,448.99C446.53,448.47 446.46,447.93 446.45,447.4C446.43,446.87 446.47,446.32 446.55,445.79C446.63,445.26 446.76,444.73 446.94,444.23C447.11,443.72 447.33,443.22 447.58,442.76C447.84,442.29 448.13,441.83 448.46,441.41C448.78,440.99 449.14,440.59 449.52,440.22C449.9,439.85 450.31,439.51 450.75,439.2C451.18,438.9 451.63,438.62 452.1,438.38C452.58,438.14 453.07,437.94 453.57,437.77C454.07,437.61 454.6,437.49 455.12,437.41C455.64,437.34 456.17,437.3 456.7,437.31C457.23,437.33 457.76,437.39 458.27,437.49C458.78,437.6 459.29,437.75 459.77,437.94C460.26,438.13 460.73,438.37 461.17,438.63C461.61,438.9 462.03,439.21 462.41,439.53C462.8,439.86 463.17,440.22 463.5,440.6C463.84,440.97 464.14,441.37 464.43,441.79C464.71,442.2 464.97,442.63 465.2,443.07C465.43,443.51 465.64,443.97 465.83,444.43C466.01,444.9 466.17,445.39 466.3,445.88C466.43,446.37 466.53,446.88 466.6,447.4Z" fill="url(#tn)"/>
<path d="M503.96,417.76C502.36,419.77 503.87,424.06 501.92,426.16C499.97,428.27 495.12,430.34 492.25,430.37C489.38,430.39 487.28,426.46 484.71,426.31C482.13,426.17 479.59,429.86 476.82,429.5C474.06,429.14 469.61,426.52 468.11,424.17C466.62,421.82 468.97,417.93 467.85,415.4C466.72,412.88 462.36,412.07 461.34,409.02C460.33,405.96 460.74,400.22 461.75,397.09C462.75,393.96 466.25,392.24 467.37,390.23C468.49,388.22 467.43,386.54 468.49,385.03C469.56,383.51 471.92,381.51 473.75,381.14C475.58,380.78 477.97,383.58 479.47,382.84C480.97,382.1 481.07,377.75 482.74,376.71C484.4,375.67 487.74,375.74 489.48,376.61C491.21,377.48 491.26,380.88 493.14,381.92C495.02,382.95 498.31,381.46 500.76,382.82C503.22,384.18 506.59,387.59 507.87,390.08C509.15,392.58 507.52,395.42 508.46,397.77C509.4,400.12 513.01,401.46 513.52,404.19C514.03,406.92 513.11,411.86 511.51,414.13C509.92,416.39 505.56,415.76 503.96,417.76Z" fill="url(#tc)" stroke="#e68b85" stroke-width="1"/>
<path d="M500.75,404.5C500.78,405.06 500.76,405.64 500.68,406.19C500.6,406.75 500.45,407.31 500.26,407.83C500.07,408.36 499.81,408.88 499.51,409.35C499.22,409.82 498.87,410.27 498.49,410.67C498.11,411.07 497.69,411.43 497.26,411.76C496.83,412.08 496.36,412.36 495.89,412.61C495.42,412.86 494.94,413.06 494.45,413.24C493.97,413.42 493.48,413.56 492.98,413.68C492.49,413.8 492,413.89 491.5,413.96C491,414.03 490.5,414.07 490,414.09C489.5,414.11 488.99,414.11 488.48,414.07C487.98,414.04 487.46,413.97 486.96,413.87C486.45,413.77 485.93,413.63 485.44,413.45C484.94,413.27 484.44,413.06 483.98,412.79C483.51,412.53 483.05,412.22 482.63,411.87C482.22,411.52 481.82,411.12 481.47,410.69C481.13,410.27 480.82,409.8 480.56,409.31C480.3,408.82 480.09,408.3 479.92,407.77C479.76,407.25 479.65,406.7 479.58,406.15C479.52,405.6 479.51,405.05 479.53,404.5C479.56,403.95 479.64,403.41 479.75,402.88C479.86,402.35 480.02,401.82 480.21,401.32C480.39,400.81 480.62,400.32 480.88,399.85C481.13,399.38 481.43,398.93 481.75,398.5C482.07,398.08 482.42,397.67 482.8,397.3C483.18,396.93 483.59,396.58 484.02,396.27C484.45,395.97 484.92,395.69 485.39,395.46C485.87,395.22 486.37,395.03 486.87,394.88C487.38,394.73 487.9,394.62 488.43,394.56C488.95,394.5 489.48,394.48 490,394.51C490.52,394.53 491.04,394.6 491.55,394.7C492.06,394.81 492.56,394.95 493.05,395.12C493.53,395.3 494.01,395.5 494.46,395.74C494.92,395.97 495.37,396.24 495.79,396.53C496.22,396.82 496.63,397.13 497.03,397.47C497.42,397.82 497.8,398.19 498.15,398.58C498.5,398.98 498.83,399.4 499.13,399.85C499.43,400.3 499.7,400.78 499.93,401.27C500.15,401.77 500.35,402.3 500.48,402.84C500.62,403.38 500.72,403.94 500.75,404.5Z" fill="url(#tn)"/>
<path d="M503.42,484.52C504.26,486.38 507.59,485.99 508.41,487.3C509.23,488.6 509.4,491.13 508.35,492.36C507.3,493.6 503.09,492.88 502.09,494.72C501.1,496.56 503.68,500.66 502.38,503.42C501.08,506.18 497.06,509.9 494.3,511.28C491.53,512.65 487.88,511.06 485.81,511.65C483.75,512.24 483.56,514.38 481.91,514.83C480.26,515.27 477.43,515.18 475.93,514.33C474.44,513.48 475.05,510.89 472.94,509.73C470.82,508.57 465.98,509.7 463.26,507.38C460.54,505.06 457.45,499.36 456.62,495.82C455.79,492.27 458.56,488.44 458.29,486.1C458.02,483.77 455.23,483.29 455,481.79C454.76,480.29 455.65,478.01 456.87,477.1C458.1,476.19 460.62,477.77 462.33,476.33C464.04,474.89 464.39,470.48 467.14,468.49C469.89,466.51 475.44,464.61 478.84,464.42C482.24,464.23 484.71,466.73 487.54,467.35C490.38,467.96 493.21,466.64 495.84,468.11C498.48,469.58 502.09,473.42 503.36,476.16C504.62,478.89 502.58,482.66 503.42,484.52Z" fill="url(#tc)" stroke="#e68b85" stroke-width="1"/>
<path d="M494.18,488.7C494.23,489.22 494.23,489.76 494.18,490.28C494.13,490.81 494.03,491.34 493.89,491.85C493.74,492.36 493.55,492.87 493.31,493.34C493.08,493.82 492.79,494.28 492.48,494.71C492.16,495.14 491.8,495.55 491.42,495.92C491.04,496.29 490.62,496.63 490.19,496.94C489.75,497.25 489.29,497.52 488.81,497.76C488.34,497.99 487.84,498.19 487.34,498.36C486.83,498.52 486.31,498.65 485.79,498.73C485.27,498.82 484.73,498.86 484.2,498.86C483.67,498.87 483.13,498.83 482.61,498.74C482.09,498.66 481.56,498.52 481.06,498.35C480.57,498.18 480.07,497.96 479.62,497.7C479.16,497.44 478.72,497.13 478.31,496.8C477.91,496.47 477.54,496.09 477.2,495.7C476.86,495.31 476.56,494.88 476.3,494.44C476.03,494 475.8,493.54 475.61,493.08C475.41,492.61 475.25,492.13 475.12,491.65C474.99,491.17 474.89,490.68 474.81,490.19C474.74,489.7 474.69,489.2 474.67,488.7C474.65,488.2 474.65,487.7 474.69,487.19C474.73,486.69 474.79,486.18 474.89,485.67C474.99,485.17 475.12,484.66 475.29,484.16C475.46,483.66 475.67,483.16 475.93,482.69C476.19,482.22 476.49,481.75 476.83,481.33C477.17,480.91 477.56,480.5 477.99,480.15C478.41,479.8 478.88,479.48 479.37,479.22C479.86,478.97 480.39,478.76 480.92,478.61C481.45,478.46 482.01,478.36 482.56,478.33C483.1,478.29 483.66,478.31 484.2,478.38C484.74,478.44 485.27,478.57 485.78,478.72C486.29,478.88 486.78,479.08 487.25,479.31C487.72,479.54 488.17,479.8 488.59,480.08C489.02,480.36 489.42,480.67 489.8,480.99C490.19,481.31 490.55,481.65 490.89,482.01C491.24,482.36 491.56,482.74 491.87,483.13C492.17,483.52 492.46,483.93 492.72,484.36C492.97,484.79 493.21,485.24 493.41,485.71C493.61,486.17 493.79,486.66 493.92,487.16C494.04,487.66 494.14,488.18 494.18,488.7Z" fill="url(#tn)"/>
<path d="M552.29,504.26C550.41,502.65 546.84,504.03 545.01,502.32C543.18,500.6 541.45,496.47 541.3,493.95C541.15,491.44 543.96,489.41 544.09,487.23C544.23,485.05 541.82,483.21 542.11,480.89C542.4,478.58 544.25,475.1 545.83,473.36C547.4,471.62 549.94,471.87 551.54,470.45C553.15,469.03 553.39,466.15 555.47,464.85C557.55,463.55 561.58,462.53 564.04,462.65C566.49,462.76 567.94,465.47 570.2,465.56C572.46,465.65 575.1,462.73 577.58,463.2C580.07,463.68 583.94,466.16 585.11,468.41C586.28,470.66 583.36,474.45 584.59,476.7C585.82,478.96 591.15,479.13 592.49,481.93C593.83,484.72 593.74,490.54 592.63,493.46C591.51,496.37 586.97,497.37 585.81,499.42C584.65,501.46 586.66,503.89 585.69,505.73C584.73,507.58 582.09,510.11 580.02,510.49C577.95,510.87 575.45,507.47 573.25,508.03C571.06,508.59 569.68,513.2 566.85,513.86C564.02,514.51 558.68,513.56 556.25,511.96C553.83,510.36 554.16,505.87 552.29,504.26Z" fill="url(#tc)" stroke="#e68b85" stroke-width="1"/>
<path d="M572.7,488.7C572.69,489.2 572.65,489.69 572.58,490.19C572.51,490.68 572.42,491.17 572.3,491.66C572.18,492.14 572.04,492.63 571.86,493.11C571.68,493.59 571.47,494.07 571.22,494.53C570.97,494.99 570.69,495.44 570.37,495.87C570.04,496.29 569.68,496.71 569.28,497.07C568.89,497.44 568.44,497.79 567.98,498.07C567.51,498.36 567,498.61 566.48,498.8C565.96,498.99 565.41,499.13 564.86,499.2C564.32,499.28 563.75,499.29 563.2,499.25C562.65,499.22 562.1,499.11 561.57,498.97C561.05,498.83 560.53,498.62 560.05,498.39C559.57,498.16 559.11,497.88 558.68,497.58C558.25,497.28 557.84,496.94 557.47,496.59C557.09,496.24 556.74,495.87 556.42,495.48C556.09,495.1 555.8,494.69 555.52,494.28C555.24,493.87 554.99,493.44 554.76,493C554.52,492.56 554.31,492.11 554.13,491.65C553.95,491.18 553.8,490.7 553.68,490.21C553.56,489.72 553.47,489.21 553.42,488.7C553.37,488.19 553.36,487.67 553.4,487.15C553.43,486.63 553.51,486.1 553.64,485.59C553.77,485.09 553.94,484.58 554.16,484.1C554.38,483.61 554.65,483.14 554.95,482.71C555.25,482.27 555.6,481.86 555.98,481.48C556.35,481.1 556.77,480.75 557.2,480.45C557.64,480.14 558.1,479.86 558.58,479.63C559.05,479.39 559.55,479.19 560.06,479.03C560.56,478.87 561.09,478.75 561.61,478.67C562.13,478.58 562.67,478.54 563.2,478.53C563.73,478.53 564.27,478.57 564.79,478.65C565.32,478.72 565.84,478.85 566.35,479.01C566.85,479.17 567.35,479.38 567.82,479.63C568.29,479.88 568.74,480.17 569.16,480.5C569.58,480.82 569.97,481.19 570.32,481.58C570.66,481.98 570.98,482.41 571.25,482.85C571.52,483.29 571.76,483.77 571.95,484.24C572.14,484.72 572.29,485.21 572.41,485.71C572.52,486.2 572.6,486.7 572.65,487.2C572.7,487.7 572.71,488.2 572.7,488.7Z" fill="url(#tn)"/>
<path d="M471.35,447.45C471.68,445.46 468.52,441.71 469.32,438.8C470.13,435.9 473.66,431.73 476.2,430.02C478.73,428.31 481.79,429.5 484.53,428.53C487.26,427.57 489.25,424.54 492.59,424.24C495.93,423.95 501.7,425.1 504.58,426.78C507.45,428.46 508.05,432.8 509.85,434.32C511.65,435.85 513.98,434.65 515.39,435.92C516.81,437.19 518.1,440.07 518.35,441.95C518.61,443.84 516.44,445 516.93,447.22C517.43,449.44 521.29,452.13 521.33,455.26C521.36,458.38 519.38,463.83 517.14,465.99C514.9,468.15 510,466.4 507.88,468.21C505.75,470.02 506.76,475.05 504.37,476.86C501.99,478.68 496.45,479.93 493.57,479.09C490.7,478.26 489.66,472.67 487.12,471.85C484.59,471.04 481.1,474.99 478.37,474.2C475.63,473.41 471.98,469.67 470.73,467.1C469.48,464.53 471.33,460.66 470.86,458.78C470.39,456.9 468.48,457.15 467.9,455.81C467.31,454.47 466.77,452.14 467.35,450.75C467.93,449.35 471.03,449.44 471.35,447.45Z" fill="url(#tc)" stroke="#e68b85" stroke-width="1"/>
<path d="M506.74,452C506.76,452.58 506.72,453.17 506.62,453.75C506.52,454.32 506.36,454.89 506.14,455.43C505.93,455.96 505.65,456.48 505.34,456.96C505.02,457.44 504.65,457.89 504.26,458.3C503.88,458.7 503.44,459.07 503,459.4C502.56,459.73 502.09,460.02 501.61,460.28C501.14,460.53 500.65,460.75 500.16,460.95C499.67,461.14 499.17,461.3 498.67,461.44C498.17,461.58 497.66,461.69 497.15,461.77C496.64,461.86 496.12,461.92 495.6,461.95C495.08,461.98 494.55,461.99 494.02,461.95C493.5,461.92 492.96,461.85 492.43,461.74C491.91,461.63 491.38,461.49 490.87,461.29C490.36,461.09 489.85,460.85 489.37,460.57C488.9,460.28 488.44,459.95 488.02,459.58C487.6,459.21 487.21,458.79 486.87,458.34C486.52,457.9 486.22,457.41 485.96,456.91C485.7,456.41 485.49,455.88 485.33,455.34C485.16,454.8 485.05,454.24 484.98,453.68C484.9,453.13 484.88,452.56 484.9,452C484.91,451.44 484.98,450.88 485.08,450.33C485.18,449.79 485.32,449.24 485.5,448.72C485.68,448.19 485.9,447.68 486.15,447.18C486.4,446.69 486.7,446.22 487.03,445.77C487.35,445.33 487.72,444.9 488.11,444.51C488.51,444.13 488.94,443.77 489.39,443.46C489.84,443.14 490.33,442.87 490.83,442.64C491.33,442.41 491.85,442.22 492.38,442.08C492.9,441.94 493.45,441.85 493.99,441.8C494.52,441.76 495.07,441.76 495.6,441.79C496.13,441.83 496.66,441.91 497.18,442.01C497.7,442.12 498.21,442.27 498.7,442.45C499.2,442.62 499.69,442.82 500.16,443.06C500.63,443.29 501.09,443.54 501.54,443.83C501.98,444.11 502.42,444.43 502.83,444.77C503.25,445.11 503.65,445.48 504.03,445.88C504.4,446.28 504.76,446.71 505.07,447.17C505.39,447.64 505.68,448.13 505.92,448.65C506.15,449.17 506.35,449.72 506.49,450.28C506.63,450.83 506.71,451.42 506.74,452Z" fill="url(#tn)"/>
<path d="M532.58,506.07C530.04,506.92 528.79,510.94 525.75,511.64C522.71,512.34 517.21,511.55 514.33,510.27C511.45,508.98 510.48,505.35 508.46,503.93C506.44,502.52 503.92,503.36 502.2,501.78C500.49,500.2 498.58,496.75 498.17,494.45C497.76,492.16 500.21,489.93 499.73,488.01C499.25,486.09 495.75,484.98 495.28,482.94C494.81,480.89 495.67,477.41 496.93,475.74C498.18,474.06 501.6,474.78 502.8,472.89C503.99,470.99 502.35,466.71 504.08,464.37C505.81,462.04 510.28,459.1 513.16,458.87C516.05,458.63 518.85,462.81 521.4,462.98C523.96,463.14 525.82,459.73 528.52,459.85C531.22,459.96 535.49,461.92 537.6,463.65C539.7,465.38 539.41,468.47 541.14,470.24C542.87,472.02 546.44,472 547.98,474.31C549.51,476.62 550.83,481.41 550.34,484.12C549.85,486.84 545.54,488.16 545.03,490.61C544.53,493.05 547.97,496.12 547.29,498.77C546.62,501.42 543.43,505.3 540.98,506.52C538.53,507.73 535.12,505.22 532.58,506.07Z" fill="url(#tc)" stroke="#e68b85" stroke-width="1"/>
<path d="M533.42,486.4C533.43,486.94 533.39,487.48 533.31,488.02C533.22,488.55 533.09,489.08 532.92,489.59C532.75,490.1 532.54,490.61 532.29,491.08C532.04,491.56 531.75,492.02 531.44,492.46C531.12,492.89 530.77,493.3 530.39,493.69C530.01,494.07 529.61,494.44 529.18,494.77C528.75,495.1 528.3,495.41 527.83,495.68C527.36,495.95 526.86,496.2 526.35,496.41C525.84,496.62 525.31,496.8 524.77,496.93C524.23,497.06 523.66,497.16 523.1,497.2C522.54,497.25 521.96,497.25 521.39,497.2C520.82,497.14 520.25,497.04 519.7,496.88C519.15,496.71 518.6,496.5 518.09,496.23C517.58,495.96 517.09,495.64 516.65,495.28C516.21,494.92 515.8,494.5 515.44,494.06C515.08,493.63 514.76,493.14 514.49,492.65C514.22,492.16 514,491.64 513.83,491.13C513.65,490.61 513.52,490.07 513.42,489.55C513.32,489.02 513.27,488.49 513.24,487.96C513.21,487.44 513.21,486.92 513.24,486.4C513.26,485.88 513.32,485.37 513.39,484.86C513.47,484.35 513.57,483.85 513.69,483.34C513.82,482.84 513.97,482.34 514.15,481.84C514.34,481.35 514.55,480.85 514.81,480.38C515.06,479.9 515.35,479.43 515.68,478.98C516.02,478.54 516.39,478.11 516.8,477.73C517.21,477.35 517.67,476.99 518.15,476.69C518.63,476.39 519.16,476.12 519.7,475.92C520.23,475.72 520.8,475.57 521.37,475.48C521.94,475.39 522.53,475.36 523.1,475.39C523.67,475.41 524.25,475.5 524.81,475.63C525.36,475.76 525.91,475.94 526.43,476.16C526.94,476.38 527.45,476.65 527.92,476.95C528.39,477.24 528.84,477.57 529.26,477.93C529.67,478.28 530.07,478.67 530.43,479.07C530.79,479.47 531.13,479.9 531.43,480.34C531.74,480.79 532.02,481.25 532.26,481.73C532.5,482.21 532.71,482.71 532.88,483.22C533.05,483.73 533.18,484.26 533.27,484.79C533.37,485.32 533.42,485.86 533.42,486.4Z" fill="url(#tn)"/>
<path d="M529.1,413.91C531.39,413.28 533.04,408.67 536.26,407.89C539.48,407.1 545.43,407.76 548.42,409.2C551.42,410.63 552.03,414.87 554.23,416.49C556.42,418.1 559.65,417.04 561.59,418.91C563.52,420.78 565.65,425.02 565.83,427.69C566.02,430.37 562.65,432.55 562.68,434.97C562.72,437.39 566.19,439.54 566.05,442.22C565.92,444.89 563.82,449.16 561.87,451.01C559.93,452.87 556.09,451.74 554.4,453.33C552.71,454.91 553.59,458.9 551.74,460.52C549.88,462.14 545.68,463.43 543.24,463.06C540.8,462.68 539.84,459.03 537.09,458.26C534.35,457.49 530.15,460.01 526.75,458.45C523.35,456.88 518.42,452.19 516.7,448.87C514.97,445.55 517.27,441.11 516.38,438.53C515.49,435.95 511.92,435.53 511.33,433.4C510.74,431.27 511.55,427.52 512.85,425.74C514.15,423.96 518.32,424.32 519.13,422.71C519.94,421.11 517.13,417.96 517.7,416.12C518.27,414.28 520.63,412.05 522.53,411.68C524.43,411.31 526.82,414.54 529.1,413.91Z" fill="url(#tc)" stroke="#e68b85" stroke-width="1"/>
<path d="M551.34,437.1C551.4,437.67 551.41,438.27 551.36,438.85C551.31,439.43 551.21,440.03 551.05,440.59C550.89,441.16 550.68,441.72 550.41,442.25C550.15,442.78 549.83,443.3 549.48,443.77C549.13,444.24 548.72,444.69 548.29,445.09C547.86,445.5 547.39,445.87 546.91,446.2C546.42,446.52 545.9,446.81 545.38,447.06C544.85,447.31 544.3,447.52 543.74,447.69C543.18,447.85 542.61,447.98 542.04,448.06C541.46,448.15 540.88,448.19 540.3,448.18C539.72,448.18 539.14,448.13 538.57,448.04C538,447.94 537.43,447.8 536.88,447.61C536.34,447.43 535.8,447.19 535.3,446.91C534.8,446.64 534.31,446.31 533.86,445.96C533.42,445.6 533,445.2 532.62,444.78C532.25,444.35 531.91,443.89 531.61,443.42C531.31,442.94 531.04,442.44 530.82,441.93C530.59,441.42 530.41,440.89 530.26,440.36C530.1,439.83 529.99,439.29 529.9,438.75C529.81,438.2 529.76,437.65 529.74,437.1C529.71,436.55 529.72,435.99 529.76,435.43C529.8,434.87 529.87,434.31 529.99,433.75C530.1,433.19 530.25,432.63 530.45,432.08C530.65,431.53 530.89,430.99 531.17,430.47C531.46,429.95 531.8,429.44 532.18,428.98C532.56,428.52 533,428.08 533.47,427.69C533.93,427.31 534.45,426.97 534.99,426.69C535.53,426.41 536.12,426.18 536.7,426.02C537.28,425.86 537.9,425.76 538.5,425.72C539.1,425.69 539.71,425.71 540.3,425.79C540.89,425.87 541.47,426.01 542.03,426.18C542.59,426.35 543.13,426.58 543.64,426.83C544.15,427.08 544.64,427.37 545.1,427.67C545.57,427.98 546.01,428.32 546.43,428.67C546.85,429.02 547.25,429.39 547.62,429.78C548,430.16 548.36,430.57 548.7,431C549.04,431.42 549.36,431.87 549.65,432.34C549.94,432.81 550.21,433.3 550.44,433.81C550.67,434.32 550.87,434.85 551.02,435.4C551.17,435.95 551.29,436.53 551.34,437.1Z" fill="url(#tn)"/>
<path d="M514.83,509.48C515.98,511.48 518.68,511.62 519.71,513.7C520.73,515.78 521.39,519.67 521,521.95C520.61,524.23 517.64,525.11 517.36,527.37C517.08,529.63 520.12,532.97 519.34,535.53C518.57,538.08 515.22,541.83 512.69,542.71C510.17,543.59 506.63,540.26 504.2,540.8C501.78,541.33 500.8,545.33 498.14,545.91C495.48,546.5 490.74,545.49 488.23,544.31C485.72,543.13 484.7,539.87 483.07,538.82C481.44,537.76 479.74,538.86 478.43,537.96C477.13,537.06 475.42,535.04 475.24,533.43C475.06,531.82 477.78,529.96 477.35,528.31C476.91,526.66 473.32,525.67 472.65,523.52C471.98,521.37 472.51,517.52 473.34,515.41C474.16,513.29 476.46,512.78 477.6,510.83C478.74,508.88 478.32,505.77 480.18,503.71C482.04,501.64 486.07,499.01 488.76,498.44C491.44,497.87 493.8,500.52 496.3,500.29C498.8,500.07 501.01,496.85 503.76,497.09C506.51,497.33 510.97,499.65 512.82,501.72C514.66,503.78 513.68,507.49 514.83,509.48Z" fill="url(#tc)" stroke="#e68b85" stroke-width="1"/>
<path d="M508.08,519.6C508.06,520.13 507.98,520.67 507.86,521.18C507.73,521.69 507.56,522.19 507.35,522.67C507.15,523.15 506.89,523.61 506.61,524.04C506.34,524.47 506.02,524.88 505.69,525.26C505.36,525.64 505,525.99 504.62,526.32C504.25,526.65 503.86,526.96 503.45,527.24C503.05,527.53 502.63,527.79 502.2,528.03C501.76,528.28 501.32,528.5 500.86,528.7C500.39,528.89 499.91,529.07 499.42,529.21C498.93,529.35 498.42,529.47 497.9,529.55C497.38,529.62 496.84,529.66 496.31,529.65C495.77,529.64 495.22,529.59 494.69,529.48C494.16,529.37 493.62,529.21 493.11,529C492.6,528.79 492.11,528.51 491.65,528.2C491.2,527.88 490.77,527.51 490.39,527.11C490.01,526.71 489.67,526.25 489.39,525.78C489.1,525.32 488.86,524.81 488.67,524.3C488.48,523.79 488.35,523.26 488.25,522.74C488.15,522.21 488.11,521.68 488.09,521.15C488.08,520.63 488.11,520.11 488.16,519.6C488.21,519.09 488.3,518.59 488.42,518.1C488.53,517.61 488.67,517.13 488.83,516.65C489,516.18 489.19,515.72 489.41,515.27C489.62,514.82 489.87,514.38 490.14,513.96C490.41,513.54 490.71,513.13 491.04,512.74C491.38,512.36 491.74,511.99 492.13,511.66C492.52,511.33 492.95,511.02 493.39,510.75C493.84,510.48 494.31,510.25 494.8,510.06C495.29,509.88 495.8,509.73 496.32,509.63C496.84,509.53 497.37,509.48 497.9,509.47C498.43,509.47 498.96,509.51 499.49,509.59C500.01,509.67 500.53,509.8 501.03,509.96C501.54,510.12 502.03,510.33 502.5,510.57C502.98,510.8 503.43,511.08 503.87,511.39C504.3,511.69 504.71,512.04 505.1,512.4C505.48,512.77 505.84,513.17 506.16,513.6C506.48,514.02 506.78,514.48 507.03,514.95C507.28,515.42 507.49,515.92 507.66,516.43C507.82,516.94 507.95,517.47 508.02,518C508.09,518.53 508.11,519.07 508.08,519.6Z" fill="url(#tn)"/>
<path d="M546.11,540.27C544.05,541.23 543.36,544.55 540.89,545.49C538.41,546.43 533.76,546.79 531.28,545.92C528.8,545.06 528.19,541.24 526.03,540.3C523.88,539.36 520.58,541.52 518.35,540.28C516.12,539.05 513.46,535.34 512.64,532.91C511.82,530.47 513.73,527.79 513.43,525.68C513.13,523.58 510.98,522.45 510.82,520.28C510.65,518.12 511.47,514.63 512.45,512.68C513.43,510.74 515.85,510.05 516.71,508.6C517.58,507.14 516.72,505.31 517.64,503.94C518.56,502.57 520.6,500.75 522.23,500.37C523.85,499.98 525.43,502.13 527.37,501.64C529.3,501.14 531.09,497.82 533.85,497.39C536.61,496.97 541.28,497.96 543.91,499.07C546.53,500.18 547.39,502.58 549.63,504.03C551.86,505.49 555.42,505.41 557.31,507.8C559.21,510.19 561.03,515.32 560.99,518.36C560.95,521.41 557.54,523.64 557.08,526.04C556.61,528.45 558.86,530.51 558.22,532.8C557.58,535.09 555.26,538.53 553.24,539.78C551.22,541.02 548.17,539.32 546.11,540.27Z" fill="url(#tc)" stroke="#e68b85" stroke-width="1"/>
<path d="M543.59,521.9C543.59,522.43 543.55,522.96 543.48,523.48C543.4,524 543.29,524.52 543.13,525.03C542.98,525.54 542.79,526.04 542.57,526.52C542.34,527 542.07,527.47 541.78,527.91C541.48,528.35 541.14,528.78 540.77,529.17C540.4,529.56 539.99,529.92 539.56,530.24C539.13,530.56 538.66,530.85 538.18,531.08C537.7,531.32 537.18,531.51 536.67,531.65C536.15,531.79 535.62,531.88 535.09,531.92C534.56,531.96 534.02,531.95 533.5,531.9C532.98,531.85 532.46,531.74 531.96,531.61C531.47,531.47 530.98,531.29 530.52,531.08C530.05,530.88 529.61,530.64 529.18,530.38C528.75,530.12 528.35,529.83 527.96,529.53C527.56,529.23 527.19,528.91 526.83,528.57C526.48,528.23 526.13,527.87 525.81,527.49C525.49,527.11 525.18,526.71 524.89,526.29C524.61,525.86 524.34,525.42 524.11,524.95C523.88,524.48 523.68,523.99 523.52,523.48C523.36,522.97 523.24,522.44 523.17,521.9C523.11,521.36 523.08,520.8 523.12,520.26C523.16,519.71 523.26,519.15 523.41,518.62C523.56,518.09 523.78,517.56 524.04,517.08C524.29,516.59 524.61,516.12 524.97,515.7C525.32,515.28 525.72,514.89 526.14,514.54C526.57,514.2 527.03,513.9 527.5,513.64C527.97,513.38 528.46,513.17 528.96,512.99C529.45,512.81 529.96,512.67 530.47,512.57C530.97,512.46 531.48,512.39 531.99,512.35C532.49,512.31 533,512.3 533.5,512.32C534,512.33 534.5,512.38 535,512.45C535.49,512.53 535.98,512.63 536.47,512.76C536.95,512.9 537.43,513.07 537.9,513.27C538.36,513.47 538.82,513.71 539.25,513.98C539.69,514.25 540.11,514.56 540.49,514.91C540.88,515.25 541.25,515.63 541.57,516.04C541.89,516.44 542.19,516.89 542.44,517.35C542.69,517.8 542.9,518.29 543.07,518.79C543.24,519.29 543.37,519.8 543.46,520.32C543.54,520.84 543.58,521.37 543.59,521.9Z" fill="url(#tn)"/>
<ellipse cx="360.7" cy="362.2" rx="15.68" ry="16" fill="url(#c_purple)"/>
<circle cx="359.2" cy="362.8" r="8.5" fill="url(#n_purple)"/>
<ellipse cx="310.1" cy="409.7" rx="15.68" ry="16" fill="url(#c_teal)"/>
<circle cx="308.6" cy="410.3" r="8.5" fill="url(#n_teal)"/>
<ellipse cx="382.3" cy="411.8" rx="15.68" ry="16" fill="url(#c_orange)"/>
<circle cx="380.8" cy="412.4" r="8.5" fill="url(#n_orange)"/>
<ellipse cx="439.8" cy="375.8" rx="15.68" ry="16" fill="url(#c_red)"/>
<circle cx="438.3" cy="376.4" r="8.5" fill="url(#n_red)"/>
<ellipse cx="285.6" cy="514.3" rx="15.68" ry="16" fill="url(#c_purple)"/>
<circle cx="284.1" cy="514.9" r="8.5" fill="url(#n_purple)"/>
<ellipse cx="406.8" cy="496.7" rx="15.68" ry="16" fill="url(#c_teal)"/>
<circle cx="405.3" cy="497.3" r="8.5" fill="url(#n_teal)"/>
<ellipse cx="378.6" cy="519" rx="15.68" ry="16" fill="url(#c_blue)"/>
<circle cx="377.1" cy="519.6" r="8.5" fill="url(#n_blue)"/>
<ellipse cx="422" cy="534.9" rx="15.68" ry="16" fill="url(#c_red)"/>
<circle cx="420.5" cy="535.5" r="8.5" fill="url(#n_red)"/>
<ellipse cx="597.7" cy="373.5" rx="15.68" ry="16" fill="url(#c_orange)"/>
<circle cx="596.2" cy="374.1" r="8.5" fill="url(#n_orange)"/>
<ellipse cx="700.4" cy="400.5" rx="15.68" ry="16" fill="url(#c_blue)"/>
<circle cx="698.9" cy="401.1" r="8.5" fill="url(#n_blue)"/>
<ellipse cx="641.6" cy="427.6" rx="15.68" ry="16" fill="url(#c_purple)"/>
<circle cx="640.1" cy="428.2" r="8.5" fill="url(#n_purple)"/>
<ellipse cx="613.4" cy="479.2" rx="15.68" ry="16" fill="url(#c_red)"/>
<circle cx="611.9" cy="479.8" r="8.5" fill="url(#n_red)"/>
<ellipse cx="698.5" cy="474.4" rx="15.68" ry="16" fill="url(#c_blue)"/>
<circle cx="697" cy="475" r="8.5" fill="url(#n_blue)"/>
<ellipse cx="661" cy="527" rx="15.68" ry="16" fill="url(#c_orange)"/>
<circle cx="659.5" cy="527.6" r="8.5" fill="url(#n_orange)"/>
<g transform="translate(533,386.5) rotate(3)">
<rect x="-0.75" y="-12" width="1.5" height="12" fill="#8a8a8a"/>
<rect x="-2.7" y="-26" width="4.3" height="15" rx="0.7" fill="#737373"/>
<rect x="3.1" y="-25.5" width="4.1" height="8.3" rx="0.7" fill="#737373"/>
<rect x="3.1" y="-15.7" width="4.1" height="4.7" rx="0.7" fill="#737373"/>
<circle cx="2.3" cy="-26.8" r="2.7" fill="#d12a2a"/>
</g>
<g transform="translate(557,419.7) rotate(45)">
<rect x="-0.75" y="-12" width="1.5" height="12" fill="#8a8a8a"/>
<rect x="-2.7" y="-26" width="4.3" height="15" rx="0.7" fill="#737373"/>
<rect x="3.1" y="-25.5" width="4.1" height="8.3" rx="0.7" fill="#737373"/>
<rect x="3.1" y="-15.7" width="4.1" height="4.7" rx="0.7" fill="#737373"/>
<circle cx="2.3" cy="-26.8" r="2.7" fill="#d12a2a"/>
</g>
<g transform="translate(456.5,424.5) rotate(-47)">
<rect x="-0.75" y="-12" width="1.5" height="12" fill="#8a8a8a"/>
<rect x="-2.7" y="-26" width="4.3" height="15" rx="0.7" fill="#737373"/>
<rect x="3.1" y="-25.5" width="4.1" height="8.3" rx="0.7" fill="#737373"/>
<rect x="3.1" y="-15.7" width="4.1" height="4.7" rx="0.7" fill="#737373"/>
<circle cx="2.3" cy="-26.8" r="2.7" fill="#d12a2a"/>
</g>
<g transform="translate(467.5,507.8) rotate(226)">
<rect x="-0.75" y="-12" width="1.5" height="12" fill="#8a8a8a"/>
<rect x="-2.7" y="-26" width="4.3" height="15" rx="0.7" fill="#737373"/>
<rect x="3.1" y="-25.5" width="4.1" height="8.3" rx="0.7" fill="#737373"/>
<rect x="3.1" y="-15.7" width="4.1" height="4.7" rx="0.7" fill="#737373"/>
<circle cx="2.3" cy="-26.8" r="2.7" fill="#d12a2a"/>
</g>
<g transform="translate(569,506.5) rotate(156)">
<rect x="-0.75" y="-12" width="1.5" height="12" fill="#8a8a8a"/>
<rect x="-2.7" y="-26" width="4.3" height="15" rx="0.7" fill="#737373"/>
<rect x="3.1" y="-25.5" width="4.1" height="8.3" rx="0.7" fill="#737373"/>
<rect x="3.1" y="-15.7" width="4.1" height="4.7" rx="0.7" fill="#737373"/>
<circle cx="2.3" cy="-26.8" r="2.7" fill="#d12a2a"/>
</g>
<ellipse cx="32" cy="425.3" rx="15.68" ry="16" fill="url(#c_teal)"/>
<circle cx="30.5" cy="425.9" r="8.5" fill="url(#n_teal)"/>
<ellipse cx="74.3" cy="425.3" rx="15.68" ry="16" fill="url(#c_orange)"/>
<circle cx="72.8" cy="425.9" r="8.5" fill="url(#n_orange)"/>
<ellipse cx="19.7" cy="466.5" rx="15.68" ry="16" fill="url(#c_red)"/>
<circle cx="18.2" cy="467.1" r="8.5" fill="url(#n_red)"/>
<ellipse cx="55.6" cy="458" rx="15.68" ry="16" fill="url(#c_purple)"/>
<circle cx="54.1" cy="458.6" r="8.5" fill="url(#n_purple)"/>
<ellipse cx="87.3" cy="486.2" rx="15.68" ry="16" fill="url(#c_blue)"/>
<circle cx="85.8" cy="486.8" r="8.5" fill="url(#n_blue)"/>
<text x="43" y="505.2" font-size="15.8" text-anchor="middle" font-weight="normal" fill="#111" stroke="#111" stroke-width="0">T cells</text>
<g transform="translate(176.1,432)" stroke="#7090cf" stroke-width="4.6" fill="none">
<path d="M-3.4,0 L-3.4,-23 L-13.4,-37.9"/>
<path d="M3.3,0 L3.3,-23 L13.2,-37.9"/>
<path d="M-18.4,-35.2 L-10.6,-22.3"/>
<path d="M10.6,-22.3 L18.3,-35.2"/>
</g>
<text x="175.3" y="453.3" font-size="18.5" text-anchor="middle" font-weight="normal" fill="#111" stroke="#111" stroke-width="0">ICI</text>
<line x1="93" y1="459" x2="246.5" y2="459" stroke="#111" stroke-width="2"/>
<path d="M255.5,459 L243.5,455.6 L243.5,462.4 Z" fill="#111"/>
<text x="321.3" y="461.8" font-size="18.5" text-anchor="middle" font-weight="normal" fill="#111" stroke="#111" stroke-width="0">Range of</text>
<text x="323.7" y="482.8" font-size="18.5" text-anchor="middle" font-weight="normal" fill="#111" stroke="#111" stroke-width="0">activated T cells</text>
<g transform="translate(9.6,647.3) scale(0.98,1)">
<text x="0" y="0" font-size="23.5" text-anchor="middle" font-weight="bold" fill="#000" stroke="#000" stroke-width="0.9">C</text>
</g>
<g transform="translate(162,633.5) scale(0.8723)">
<circle cx="0" cy="0" r="47.5" fill="#fbdde4"/>
<path d="M-26.5,-24.5C-24.42,-25.05 -18.17,-27.45 -14,-27.8C-9.83,-28.15 -5.67,-27.35 -1.5,-26.6C2.67,-25.85 6.28,-24.3 11,-23.3C15.72,-22.3 24.17,-21.05 26.8,-20.6" fill="none" stroke="#c9302c" stroke-width="2.3" stroke-linecap="round"/><path d="M-25.3,-24.86 l-1.31,-4.1 M-22.73,-25.69 l-1.31,-4.1 M-20.32,-26.44 l-1.2,-4.13 M-17.78,-27.13 l-1,-4.18 M-15.31,-27.64 l-0.64,-4.25 M-12.44,-27.88 l-0.06,-4.3 M-9.94,-27.82 l0.3,-4.29 M-7.12,-27.53 l0.58,-4.26 M-4.62,-27.15 l0.72,-4.24 M-2.12,-26.71 l0.76,-4.23 M0.65,-26.14 l1.04,-4.17 M3.04,-25.49 l1.21,-4.13 M5.76,-24.68 l1.23,-4.12 M8.29,-23.96 l1.1,-4.16 M10.65,-23.38 l0.91,-4.2 M13.34,-22.84 l0.78,-4.23 M16,-22.36 l0.73,-4.24 M18.77,-21.89 l0.7,-4.24 M21.02,-21.53 l0.68,-4.25 M23.88,-21.07 l0.67,-4.25" stroke="#c9302c" stroke-width="1.25" fill="none"/>
<path d="M-29,21.3C-27.88,19.37 -24.8,12.88 -22.3,9.7C-19.8,6.52 -17.47,4.85 -14,2.2C-10.53,-0.45 -5.8,-3.77 -1.5,-6.2C2.8,-8.63 9.58,-11.37 11.8,-12.4" fill="none" stroke="#c9302c" stroke-width="2.3" stroke-linecap="round"/><path d="M-28.37,20.15 l-3.8,-2 M-27.21,17.93 l-3.81,-2 M-25.98,15.63 l-3.77,-2.06 M-24.64,13.24 l-3.7,-2.19 M-23.26,11.03 l-3.56,-2.42 M-21.74,9.01 l-3.29,-2.77 M-19.87,6.99 l-2.98,-3.1 M-17.91,5.24 l-2.73,-3.32 M-15.72,3.51 l-2.61,-3.42 M-13.74,2 l-2.6,-3.43 M-11.49,0.33 l-2.52,-3.48 M-9.34,-1.2 l-2.45,-3.53 M-7.41,-2.52 l-2.39,-3.58 M-5.11,-4.02 l-2.3,-3.63 M-2.8,-5.45 l-2.19,-3.7 M-0.49,-6.75 l-2.01,-3.8 M1.7,-7.87 l-1.88,-3.87 M4.4,-9.14 l-1.78,-3.91 M6.68,-10.15 l-1.73,-3.94 M9.08,-11.2 l-1.71,-3.95" stroke="#c9302c" stroke-width="1.25" fill="none"/>
<g transform="translate(-22.3,51.3) rotate(-41.7)">
<line x1="0" y1="0" x2="30" y2="0" stroke="#7d7d7d" stroke-width="1.3"/>
<path d="M29,-2.4 L37.5,-5.6 L37.5,5.6 L29,2.4 Z" fill="#e6e6e6" stroke="#8d8d8d" stroke-width="0.7"/>
<rect x="37" y="-7.5" width="68" height="15" rx="1.5" fill="url(#barrel)" stroke="#8a7f87" stroke-width="0.9"/>
<rect x="38" y="-7" width="28" height="14" fill="url(#liq)"/>
<rect x="66" y="-7" width="5.8" height="14" fill="#8f3c45"/>
<rect x="71.8" y="-7" width="2" height="14" fill="#b98a8f"/>
<rect x="104" y="-13.5" width="3.6" height="27" fill="#696969"/>
<rect x="107.6" y="-4.5" width="33.5" height="9" fill="#6d6d6d"/>
<rect x="107.6" y="-2" width="33.5" height="2.4" fill="#8d8d8d"/>
<rect x="140.5" y="-12.8" width="3.8" height="25.6" fill="#676767"/>
</g>
</g>
<ellipse cx="32" cy="700" rx="15.68" ry="16" fill="url(#c_teal)"/>
<circle cx="30.5" cy="700.6" r="8.5" fill="url(#n_teal)"/>
<ellipse cx="73.6" cy="700" rx="15.68" ry="16" fill="url(#c_orange)"/>
<circle cx="72.1" cy="700.6" r="8.5" fill="url(#n_orange)"/>
<ellipse cx="19.9" cy="741" rx="15.68" ry="16" fill="url(#c_red)"/>
<circle cx="18.4" cy="741.6" r="8.5" fill="url(#n_red)"/>
<ellipse cx="55.4" cy="732.6" rx="15.68" ry="16" fill="url(#c_purple)"/>
<circle cx="53.9" cy="733.2" r="8.5" fill="url(#n_purple)"/>
<ellipse cx="75" cy="764" rx="15.68" ry="16" fill="url(#c_blue)"/>
<circle cx="73.5" cy="764.6" r="8.5" fill="url(#n_blue)"/>
<text x="158.4" y="700.8" font-size="18.5" text-anchor="middle" font-weight="normal" fill="#111" stroke="#111" stroke-width="0">Neoantigen</text>
<text x="158.8" y="721.1" font-size="18.5" text-anchor="middle" font-weight="normal" fill="#111" stroke="#111" stroke-width="0">vaccine</text>
<line x1="93" y1="729" x2="225" y2="729" stroke="#111" stroke-width="2"/>
<path d="M234,729 L222,725.6 L222,732.4 Z" fill="#111"/>
<g transform="translate(307.3,700)" stroke="#7090cf" stroke-width="4.6" fill="none">
<path d="M-3.4,0 L-3.4,-23 L-13.4,-37.9"/>
<path d="M3.3,0 L3.3,-23 L13.2,-37.9"/>
<path d="M-18.4,-35.2 L-10.6,-22.3"/>
<path d="M10.6,-22.3 L18.3,-35.2"/>
</g>
<text x="308" y="721.7" font-size="18.5" text-anchor="middle" font-weight="normal" fill="#111" stroke="#111" stroke-width="0">ICI</text>
<line x1="242.3" y1="729" x2="373" y2="729" stroke="#111" stroke-width="2"/>
<path d="M382,729 L370,725.6 L370,732.4 Z" fill="#111"/>
<text x="390.3" y="734" font-size="18.5" text-anchor="start" font-weight="normal" fill="#111" stroke="#111" stroke-width="0">Targeted T cells</text>
<circle cx="593.2" cy="635.6" r="48" fill="url(#glow)"/>
<circle cx="507.5" cy="656.1" r="48" fill="url(#glow)"/>
<circle cx="465.7" cy="695.2" r="48" fill="url(#glow)"/>
<circle cx="562.6" cy="684.7" r="48" fill="url(#glow)"/>
<circle cx="542.6" cy="711.5" r="48" fill="url(#glow)"/>
<circle cx="576" cy="755.3" r="48" fill="url(#glow)"/>
<circle cx="496.1" cy="764.3" r="48" fill="url(#glow)"/>
<circle cx="541.7" cy="788.1" r="48" fill="url(#glow)"/>
<circle cx="589.4" cy="811.9" r="48" fill="url(#glow)"/>
<circle cx="643" cy="788.1" r="48" fill="url(#glow)"/>
<circle cx="725.1" cy="631.7" r="48" fill="url(#glow)"/>
<circle cx="793.1" cy="658.3" r="48" fill="url(#glow)"/>
<circle cx="756.2" cy="723.1" r="48" fill="url(#glow)"/>
<circle cx="791.5" cy="754.3" r="48" fill="url(#glow)"/>
<circle cx="789.3" cy="801.1" r="48" fill="url(#glow)"/>
<circle cx="743.4" cy="823.6" r="48" fill="url(#glow)"/>
<path d="M658.21,630C658.35,630.55 658.35,631.23 658.18,631.78C658.02,632.33 657.63,632.88 657.22,633.29C656.82,633.69 656.26,633.98 655.76,634.21C655.25,634.43 654.71,634.54 654.2,634.62C653.69,634.71 653.19,634.75 652.7,634.73C652.21,634.71 651.7,634.66 651.23,634.51C650.77,634.36 650.29,634.14 649.9,633.85C649.51,633.56 649.16,633.17 648.89,632.77C648.61,632.37 648.42,631.91 648.25,631.45C648.08,630.98 647.96,630.51 647.88,630C647.79,629.49 647.72,628.95 647.77,628.4C647.81,627.85 647.91,627.22 648.16,626.7C648.42,626.19 648.83,625.64 649.3,625.32C649.77,624.99 650.42,624.77 650.99,624.73C651.56,624.69 652.19,624.87 652.7,625.07C653.21,625.26 653.64,625.63 654.03,625.9C654.43,626.18 654.72,626.47 655.07,626.73C655.43,626.99 655.79,627.18 656.18,627.47C656.56,627.76 657.04,628.06 657.38,628.48C657.72,628.9 658.08,629.45 658.21,630Z" fill="#f3bdb7" stroke="#eaa09a" stroke-width="0.6"/>
<path d="M630.45,624C630.5,624.44 630.41,624.96 630.24,625.38C630.08,625.8 629.76,626.19 629.46,626.51C629.15,626.83 628.76,627.08 628.39,627.29C628.02,627.5 627.63,627.67 627.23,627.77C626.83,627.88 626.4,627.95 626,627.94C625.6,627.92 625.17,627.83 624.8,627.68C624.44,627.53 624.1,627.27 623.81,627.01C623.52,626.75 623.3,626.43 623.09,626.11C622.88,625.8 622.71,625.48 622.53,625.13C622.36,624.77 622.18,624.41 622.06,624C621.94,623.59 621.82,623.11 621.84,622.65C621.87,622.19 621.97,621.65 622.21,621.25C622.45,620.85 622.86,620.46 623.27,620.25C623.69,620.03 624.24,619.96 624.69,619.98C625.15,619.99 625.61,620.18 626,620.33C626.39,620.48 626.69,620.7 627.02,620.86C627.34,621.03 627.62,621.15 627.95,621.31C628.28,621.48 628.65,621.6 628.99,621.83C629.32,622.06 629.71,622.35 629.96,622.71C630.2,623.08 630.4,623.56 630.45,624Z" fill="#f3bdb7" stroke="#eaa09a" stroke-width="0.6"/>
<path d="M586.21,706C586.16,706.4 586.14,706.75 586.1,707.17C586.05,707.59 586.07,708.04 585.95,708.51C585.83,708.97 585.68,709.54 585.38,709.96C585.07,710.38 584.61,710.81 584.13,711.03C583.65,711.24 583.02,711.31 582.5,711.24C581.98,711.16 581.43,710.87 581.01,710.58C580.59,710.29 580.26,709.86 579.96,709.49C579.67,709.12 579.46,708.74 579.25,708.36C579.03,707.99 578.83,707.64 578.67,707.24C578.51,706.85 578.34,706.43 578.28,706C578.22,705.57 578.21,705.08 578.31,704.64C578.41,704.2 578.61,703.75 578.87,703.36C579.12,702.98 579.47,702.63 579.84,702.34C580.2,702.04 580.62,701.78 581.07,701.59C581.51,701.39 582,701.22 582.5,701.16C583,701.1 583.56,701.1 584.04,701.25C584.53,701.39 585.04,701.67 585.4,702.01C585.75,702.36 586.03,702.87 586.19,703.32C586.35,703.78 586.35,704.3 586.35,704.75C586.35,705.2 586.25,705.6 586.21,706Z" fill="#f3bdb7" stroke="#eaa09a" stroke-width="0.6"/>
<path d="M578.52,722C578.65,722.47 578.78,723.02 578.74,723.54C578.7,724.06 578.55,724.66 578.27,725.1C577.98,725.54 577.5,725.95 577.03,726.17C576.56,726.39 575.94,726.44 575.44,726.42C574.93,726.4 574.43,726.19 574,726.03C573.57,725.88 573.23,725.66 572.86,725.49C572.5,725.33 572.16,725.22 571.78,725.05C571.4,724.89 570.95,724.76 570.57,724.49C570.18,724.23 569.73,723.89 569.46,723.47C569.19,723.06 568.98,722.5 568.94,722C568.9,721.5 569.03,720.92 569.23,720.45C569.43,719.98 569.79,719.55 570.14,719.2C570.49,718.84 570.92,718.57 571.34,718.34C571.75,718.1 572.19,717.92 572.64,717.8C573.08,717.68 573.55,717.6 574,717.61C574.45,717.63 574.93,717.72 575.34,717.89C575.74,718.06 576.13,718.33 576.46,718.62C576.78,718.9 577.04,719.26 577.3,719.61C577.55,719.96 577.76,720.31 577.96,720.71C578.17,721.11 578.39,721.53 578.52,722Z" fill="#f3bdb7" stroke="#eaa09a" stroke-width="0.6"/>
<path d="M572.88,729C572.88,729.39 572.76,729.83 572.58,730.16C572.39,730.5 572.07,730.8 571.77,731.01C571.47,731.23 571.11,731.35 570.79,731.47C570.48,731.58 570.18,731.63 569.89,731.73C569.59,731.82 569.33,731.93 569,732.03C568.67,732.13 568.31,732.27 567.93,732.3C567.54,732.32 567.07,732.32 566.69,732.18C566.31,732.04 565.9,731.76 565.65,731.43C565.4,731.11 565.24,730.64 565.19,730.24C565.15,729.83 565.26,729.37 565.38,729C565.49,728.63 565.72,728.3 565.9,727.99C566.09,727.69 566.29,727.44 566.5,727.18C566.7,726.92 566.9,726.67 567.14,726.44C567.39,726.22 567.66,725.98 567.97,725.83C568.28,725.68 568.65,725.57 569,725.54C569.35,725.51 569.74,725.56 570.09,725.66C570.43,725.76 570.78,725.93 571.09,726.13C571.4,726.33 571.7,726.57 571.95,726.85C572.21,727.14 572.46,727.47 572.62,727.82C572.77,728.18 572.89,728.61 572.88,729Z" fill="#f3bdb7" stroke="#eaa09a" stroke-width="0.6"/>
<path d="M773.21,774.7C773.11,775.11 772.97,775.48 772.81,775.84C772.66,776.2 772.5,776.55 772.28,776.87C772.07,777.19 771.82,777.51 771.52,777.76C771.22,778 770.86,778.22 770.49,778.35C770.12,778.49 769.7,778.54 769.3,778.55C768.9,778.56 768.49,778.5 768.09,778.41C767.7,778.32 767.29,778.19 766.91,778C766.52,777.8 766.11,777.57 765.78,777.25C765.46,776.94 765.14,776.53 764.98,776.1C764.82,775.68 764.75,775.15 764.82,774.7C764.89,774.25 765.14,773.78 765.4,773.43C765.66,773.08 766.06,772.81 766.39,772.59C766.72,772.36 767.07,772.23 767.38,772.06C767.69,771.88 767.95,771.72 768.27,771.53C768.59,771.35 768.91,771.09 769.3,770.94C769.69,770.78 770.18,770.6 770.63,770.6C771.09,770.61 771.63,770.71 772.03,770.94C772.43,771.17 772.8,771.59 773.03,771.99C773.25,772.4 773.34,772.92 773.37,773.38C773.4,773.83 773.3,774.29 773.21,774.7Z" fill="#f3bdb7" stroke="#eaa09a" stroke-width="0.6"/>
<path d="M685.92,792C685.97,792.32 685.93,792.7 685.83,793.02C685.72,793.33 685.52,793.64 685.3,793.89C685.09,794.14 684.81,794.35 684.53,794.52C684.26,794.7 683.96,794.84 683.65,794.92C683.34,795.01 683.01,795.07 682.7,795.05C682.39,795.04 682.06,794.96 681.78,794.83C681.5,794.71 681.25,794.5 681.04,794.28C680.84,794.07 680.69,793.81 680.55,793.56C680.41,793.32 680.31,793.07 680.2,792.81C680.09,792.55 679.97,792.3 679.88,792C679.8,791.7 679.69,791.36 679.69,791.02C679.69,790.68 679.73,790.27 679.88,789.95C680.04,789.64 680.31,789.31 680.61,789.13C680.91,788.94 681.33,788.85 681.68,788.85C682.02,788.84 682.4,788.97 682.7,789.09C683,789.21 683.25,789.41 683.49,789.56C683.74,789.71 683.93,789.85 684.16,789.99C684.39,790.14 684.63,790.25 684.86,790.43C685.09,790.61 685.36,790.82 685.54,791.08C685.71,791.34 685.87,791.68 685.92,792Z" fill="#f3bdb7" stroke="#eaa09a" stroke-width="0.6"/>
<path d="M605.8,789C605.7,789.3 605.57,789.54 605.46,789.8C605.34,790.05 605.25,790.29 605.11,790.54C604.98,790.78 604.85,791.05 604.65,791.27C604.45,791.49 604.21,791.73 603.93,791.87C603.66,792.01 603.32,792.1 603,792.12C602.68,792.14 602.34,792.08 602.03,791.98C601.73,791.88 601.43,791.72 601.16,791.54C600.89,791.35 600.63,791.13 600.43,790.87C600.22,790.61 600.03,790.31 599.93,790C599.83,789.69 599.78,789.32 599.82,789C599.86,788.68 600.01,788.35 600.17,788.08C600.34,787.82 600.59,787.6 600.82,787.42C601.04,787.23 601.29,787.11 601.52,786.97C601.75,786.82 601.95,786.69 602.2,786.54C602.45,786.4 602.7,786.21 603,786.09C603.3,785.98 603.68,785.84 604.02,785.85C604.37,785.85 604.79,785.94 605.09,786.12C605.39,786.3 605.67,786.63 605.83,786.94C605.98,787.26 606.02,787.68 606.02,788.02C606.01,788.36 605.89,788.7 605.8,789Z" fill="#f3bdb7" stroke="#eaa09a" stroke-width="0.6"/>
<circle cx="650" cy="700" r="40" fill="#f3c2bc"/>
<circle cx="700" cy="730" r="34" fill="#f3c2bc"/>
<circle cx="640" cy="740" r="24" fill="#f3c2bc"/>
<circle cx="690" cy="668" r="24" fill="#f3c2bc"/>
<circle cx="668" cy="745" r="22" fill="#f3c2bc"/>
<circle cx="666" cy="643" r="4" fill="#f3bdb7" stroke="#eaa09a" stroke-width="0.8"/>
<circle cx="668.96" cy="646.78" r="2.4" fill="#f3bdb7"/>
<path d="M707.41,666C707.48,666.41 707.5,666.82 707.5,667.23C707.5,667.64 707.45,668.05 707.39,668.46C707.33,668.86 707.25,669.27 707.17,669.67C707.08,670.07 706.99,670.47 706.89,670.87C706.8,671.26 706.71,671.66 706.61,672.06C706.51,672.46 706.42,672.85 706.31,673.25C706.2,673.64 706.08,674.04 705.94,674.42C705.79,674.8 705.63,675.19 705.44,675.55C705.25,675.91 705.03,676.26 704.79,676.59C704.54,676.92 704.26,677.24 703.97,677.53C703.68,677.82 703.35,678.1 703.03,678.36C702.72,678.63 702.38,678.87 702.06,679.12C701.74,679.37 701.41,679.6 701.11,679.86C700.82,680.12 700.53,680.37 700.27,680.65C700.01,680.93 699.78,681.23 699.55,681.55C699.32,681.87 699.12,682.21 698.91,682.56C698.7,682.91 698.5,683.28 698.28,683.64C698.06,684 697.84,684.37 697.59,684.71C697.34,685.04 697.06,685.37 696.76,685.65C696.45,685.92 696.12,686.17 695.76,686.36C695.39,686.55 695,686.69 694.59,686.79C694.19,686.89 693.76,686.93 693.33,686.95C692.9,686.97 692.46,686.94 692.03,686.92C691.6,686.9 691.18,686.84 690.77,686.82C690.36,686.8 689.96,686.78 689.57,686.8C689.19,686.83 688.82,686.87 688.46,686.97C688.09,687.06 687.74,687.2 687.38,687.37C687.03,687.54 686.68,687.76 686.31,687.99C685.95,688.22 685.58,688.48 685.19,688.73C684.81,688.98 684.41,689.24 684,689.47C683.59,689.69 683.17,689.91 682.74,690.08C682.31,690.25 681.87,690.39 681.43,690.48C680.99,690.57 680.54,690.61 680.1,690.62C679.66,690.63 679.22,690.6 678.78,690.54C678.35,690.48 677.92,690.39 677.49,690.28C677.07,690.18 676.65,690.05 676.23,689.92C675.81,689.78 675.4,689.64 674.98,689.48C674.57,689.33 674.16,689.17 673.76,688.99C673.36,688.81 672.97,688.62 672.59,688.4C672.21,688.18 671.83,687.95 671.49,687.67C671.14,687.4 670.81,687.09 670.52,686.76C670.23,686.42 669.96,686.04 669.73,685.65C669.49,685.25 669.29,684.82 669.12,684.38C668.94,683.95 668.8,683.48 668.66,683.03C668.53,682.59 668.42,682.13 668.3,681.7C668.17,681.28 668.06,680.86 667.92,680.48C667.78,680.1 667.63,679.74 667.43,679.41C667.24,679.09 667.03,678.79 666.78,678.51C666.53,678.23 666.24,677.98 665.94,677.73C665.64,677.47 665.3,677.24 664.97,676.98C664.65,676.73 664.3,676.48 663.99,676.19C663.69,675.91 663.38,675.62 663.13,675.29C662.88,674.97 662.65,674.62 662.49,674.26C662.32,673.89 662.21,673.5 662.14,673.1C662.07,672.71 662.06,672.29 662.07,671.88C662.08,671.46 662.14,671.04 662.2,670.63C662.26,670.22 662.36,669.82 662.42,669.42C662.49,669.02 662.56,668.63 662.59,668.25C662.63,667.87 662.65,667.49 662.63,667.12C662.62,666.74 662.57,666.38 662.5,666C662.43,665.62 662.33,665.25 662.23,664.86C662.13,664.47 662,664.08 661.9,663.68C661.8,663.28 661.69,662.87 661.61,662.45C661.54,662.04 661.49,661.62 661.47,661.21C661.45,660.8 661.46,660.38 661.5,659.97C661.54,659.56 661.62,659.16 661.72,658.76C661.81,658.36 661.94,657.97 662.07,657.58C662.2,657.19 662.35,656.81 662.5,656.43C662.65,656.05 662.81,655.67 662.97,655.28C663.13,654.9 663.29,654.52 663.45,654.14C663.62,653.76 663.79,653.37 663.98,653C664.18,652.63 664.38,652.26 664.61,651.91C664.85,651.57 665.1,651.23 665.39,650.93C665.69,650.64 666.02,650.36 666.37,650.13C666.73,649.9 667.13,649.7 667.54,649.54C667.95,649.38 668.4,649.27 668.85,649.17C669.29,649.07 669.76,649.02 670.2,648.96C670.65,648.9 671.1,648.87 671.51,648.81C671.93,648.75 672.33,648.7 672.7,648.59C673.06,648.49 673.4,648.37 673.72,648.19C674.03,648.02 674.32,647.8 674.59,647.54C674.87,647.28 675.12,646.97 675.38,646.64C675.64,646.31 675.88,645.93 676.15,645.56C676.42,645.19 676.69,644.8 676.99,644.44C677.29,644.08 677.61,643.72 677.95,643.42C678.29,643.11 678.65,642.83 679.03,642.62C679.41,642.4 679.81,642.23 680.22,642.11C680.62,641.99 681.05,641.93 681.47,641.89C681.89,641.86 682.31,641.88 682.74,641.9C683.16,641.92 683.58,641.98 684,642.03C684.42,642.08 684.83,642.14 685.25,642.18C685.66,642.23 686.08,642.27 686.49,642.3C686.91,642.33 687.32,642.34 687.74,642.36C688.16,642.38 688.59,642.39 689.01,642.41C689.44,642.44 689.87,642.46 690.29,642.52C690.71,642.58 691.14,642.65 691.55,642.76C691.96,642.87 692.37,643 692.76,643.17C693.16,643.33 693.54,643.54 693.91,643.75C694.27,643.97 694.63,644.21 694.98,644.46C695.32,644.7 695.66,644.97 695.99,645.23C696.33,645.48 696.66,645.74 697,645.99C697.33,646.24 697.67,646.48 698.01,646.71C698.36,646.95 698.71,647.17 699.06,647.41C699.41,647.64 699.77,647.86 700.1,648.11C700.44,648.36 700.79,648.62 701.09,648.91C701.4,649.2 701.69,649.51 701.93,649.85C702.18,650.2 702.39,650.57 702.55,650.98C702.71,651.38 702.83,651.82 702.9,652.27C702.97,652.72 702.99,653.2 702.98,653.67C702.98,654.14 702.93,654.63 702.89,655.1C702.84,655.56 702.77,656.02 702.73,656.46C702.69,656.89 702.64,657.31 702.66,657.69C702.67,658.08 702.7,658.44 702.79,658.79C702.88,659.13 703.02,659.45 703.2,659.76C703.39,660.07 703.63,660.37 703.88,660.67C704.14,660.98 704.45,661.27 704.74,661.59C705.04,661.91 705.36,662.23 705.65,662.57C705.94,662.91 706.23,663.27 706.46,663.64C706.7,664.01 706.91,664.4 707.07,664.79C707.23,665.18 707.34,665.59 707.41,666Z" fill="url(#dc)" stroke="#eaa09a" stroke-width="0.9"/>
<path d="M687.05,664C686.98,664.5 686.86,664.99 686.71,665.46C686.57,665.93 686.38,666.38 686.18,666.82C685.98,667.26 685.75,667.67 685.5,668.08C685.25,668.48 684.99,668.86 684.71,669.24C684.42,669.61 684.12,669.96 683.81,670.31C683.49,670.65 683.16,670.98 682.8,671.29C682.44,671.6 682.06,671.9 681.66,672.17C681.26,672.44 680.84,672.69 680.39,672.9C679.95,673.12 679.48,673.3 679,673.44C678.51,673.58 678.01,673.68 677.5,673.73C676.99,673.78 676.47,673.78 675.96,673.73C675.45,673.68 674.93,673.58 674.44,673.43C673.94,673.28 673.45,673.08 673,672.83C672.54,672.59 672.11,672.3 671.7,671.98C671.3,671.66 670.93,671.29 670.59,670.91C670.25,670.53 669.95,670.11 669.68,669.68C669.41,669.26 669.17,668.8 668.97,668.35C668.77,667.89 668.6,667.41 668.47,666.93C668.34,666.46 668.23,665.97 668.17,665.48C668.11,664.99 668.07,664.49 668.08,664C668.09,663.51 668.13,663.01 668.21,662.53C668.29,662.04 668.4,661.56 668.56,661.09C668.71,660.63 668.91,660.17 669.13,659.74C669.36,659.3 669.63,658.88 669.93,658.5C670.22,658.11 670.55,657.74 670.91,657.41C671.26,657.08 671.65,656.77 672.05,656.5C672.45,656.23 672.87,655.98 673.31,655.77C673.74,655.56 674.2,655.39 674.65,655.24C675.11,655.09 675.58,654.97 676.06,654.88C676.53,654.79 677.01,654.73 677.5,654.7C677.99,654.68 678.48,654.67 678.97,654.71C679.46,654.74 679.96,654.81 680.45,654.91C680.94,655.02 681.44,655.16 681.91,655.34C682.39,655.53 682.86,655.75 683.3,656.01C683.74,656.28 684.17,656.59 684.56,656.94C684.95,657.28 685.31,657.68 685.63,658.1C685.94,658.51 686.21,658.98 686.43,659.45C686.65,659.92 686.82,660.43 686.94,660.93C687.06,661.44 687.12,661.96 687.14,662.47C687.16,662.98 687.12,663.5 687.05,664Z" fill="url(#tn)"/>
<path d="M719.07,725C718.97,725.34 718.91,725.66 718.88,725.99C718.84,726.32 718.84,726.65 718.84,726.99C718.84,727.32 718.87,727.66 718.89,728C718.9,728.34 718.93,728.69 718.92,729.03C718.92,729.38 718.91,729.73 718.87,730.07C718.83,730.41 718.76,730.76 718.68,731.09C718.6,731.43 718.49,731.75 718.37,732.08C718.25,732.41 718.11,732.72 717.97,733.04C717.83,733.36 717.68,733.68 717.54,734C717.4,734.32 717.25,734.64 717.12,734.96C716.98,735.29 716.85,735.62 716.71,735.95C716.57,736.28 716.44,736.63 716.28,736.96C716.13,737.29 715.98,737.63 715.79,737.95C715.61,738.27 715.41,738.59 715.18,738.88C714.95,739.16 714.69,739.44 714.41,739.68C714.13,739.92 713.81,740.13 713.48,740.32C713.15,740.5 712.79,740.66 712.43,740.8C712.07,740.94 711.69,741.04 711.33,741.16C710.96,741.27 710.59,741.36 710.23,741.48C709.88,741.59 709.54,741.7 709.21,741.84C708.88,741.98 708.57,742.14 708.27,742.32C707.96,742.5 707.68,742.71 707.39,742.94C707.09,743.16 706.82,743.42 706.52,743.66C706.23,743.91 705.93,744.17 705.62,744.4C705.31,744.64 704.98,744.87 704.64,745.05C704.3,745.22 703.94,745.38 703.57,745.47C703.2,745.56 702.81,745.6 702.42,745.59C702.04,745.58 701.64,745.5 701.25,745.4C700.86,745.29 700.47,745.12 700.1,744.94C699.72,744.76 699.35,744.53 699,744.32C698.65,744.1 698.31,743.87 697.97,743.66C697.64,743.46 697.32,743.26 697,743.09C696.68,742.93 696.38,742.78 696.06,742.67C695.75,742.56 695.43,742.48 695.11,742.42C694.79,742.36 694.46,742.33 694.13,742.3C693.8,742.27 693.46,742.26 693.12,742.24C692.77,742.22 692.43,742.21 692.08,742.17C691.73,742.14 691.38,742.1 691.03,742.04C690.69,741.98 690.34,741.91 690,741.82C689.66,741.74 689.32,741.64 688.97,741.54C688.63,741.45 688.28,741.34 687.93,741.24C687.58,741.13 687.22,741.03 686.85,740.93C686.48,740.83 686.1,740.74 685.71,740.64C685.32,740.53 684.91,740.44 684.51,740.33C684.11,740.21 683.69,740.1 683.3,739.96C682.9,739.81 682.5,739.65 682.14,739.46C681.78,739.26 681.43,739.04 681.13,738.79C680.82,738.53 680.55,738.24 680.33,737.92C680.11,737.6 679.93,737.24 679.8,736.88C679.66,736.51 679.58,736.11 679.51,735.72C679.45,735.32 679.43,734.91 679.4,734.51C679.38,734.11 679.38,733.71 679.36,733.33C679.34,732.94 679.32,732.57 679.27,732.21C679.22,731.85 679.15,731.51 679.04,731.18C678.94,730.84 678.8,730.52 678.64,730.19C678.49,729.87 678.3,729.55 678.11,729.23C677.93,728.9 677.71,728.58 677.54,728.24C677.36,727.9 677.17,727.55 677.04,727.2C676.91,726.84 676.8,726.48 676.75,726.11C676.7,725.74 676.69,725.37 676.73,725C676.77,724.63 676.87,724.26 676.99,723.9C677.12,723.54 677.3,723.19 677.49,722.85C677.68,722.51 677.91,722.17 678.12,721.85C678.34,721.53 678.58,721.22 678.79,720.91C679,720.6 679.2,720.3 679.39,719.99C679.57,719.69 679.73,719.39 679.88,719.08C680.03,718.78 680.16,718.47 680.28,718.16C680.4,717.84 680.51,717.53 680.63,717.21C680.74,716.89 680.85,716.57 680.98,716.26C681.11,715.94 681.25,715.63 681.4,715.32C681.55,715.02 681.72,714.72 681.9,714.43C682.08,714.13 682.28,713.85 682.47,713.57C682.67,713.28 682.88,713.01 683.08,712.72C683.28,712.44 683.48,712.15 683.67,711.86C683.86,711.56 684.05,711.25 684.23,710.93C684.41,710.61 684.58,710.28 684.76,709.93C684.93,709.59 685.1,709.23 685.29,708.88C685.48,708.53 685.68,708.16 685.9,707.83C686.13,707.5 686.37,707.16 686.65,706.88C686.92,706.6 687.23,706.34 687.57,706.14C687.9,705.94 688.27,705.78 688.66,705.68C689.05,705.58 689.47,705.53 689.9,705.53C690.32,705.53 690.77,705.59 691.21,705.67C691.65,705.75 692.09,705.88 692.52,706C692.94,706.12 693.37,706.28 693.77,706.4C694.17,706.52 694.55,706.64 694.92,706.72C695.29,706.81 695.64,706.87 695.99,706.89C696.33,706.91 696.66,706.89 697,706.85C697.33,706.81 697.66,706.73 697.99,706.65C698.32,706.56 698.66,706.45 699,706.35C699.34,706.26 699.69,706.15 700.04,706.08C700.39,706.01 700.75,705.95 701.1,705.93C701.46,705.9 701.82,705.91 702.17,705.95C702.52,705.98 702.87,706.05 703.21,706.14C703.55,706.23 703.88,706.36 704.21,706.48C704.54,706.6 704.86,706.75 705.18,706.88C705.5,707.02 705.82,707.16 706.14,707.28C706.46,707.41 706.78,707.53 707.11,707.64C707.45,707.75 707.78,707.85 708.12,707.95C708.46,708.05 708.81,708.14 709.16,708.25C709.5,708.35 709.85,708.46 710.19,708.58C710.54,708.71 710.88,708.85 711.2,709.01C711.52,709.17 711.84,709.35 712.14,709.55C712.44,709.75 712.72,709.97 712.99,710.2C713.27,710.43 713.52,710.68 713.78,710.92C714.04,711.17 714.29,711.42 714.55,711.66C714.82,711.91 715.08,712.15 715.37,712.38C715.65,712.61 715.95,712.83 716.28,713.05C716.6,713.26 716.94,713.47 717.3,713.68C717.65,713.9 718.03,714.11 718.4,714.34C718.76,714.56 719.14,714.8 719.49,715.06C719.83,715.32 720.17,715.6 720.44,715.91C720.72,716.21 720.97,716.55 721.15,716.9C721.33,717.26 721.46,717.64 721.52,718.03C721.58,718.42 721.57,718.84 721.51,719.26C721.45,719.67 721.33,720.1 721.18,720.51C721.03,720.92 720.83,721.34 720.63,721.74C720.44,722.13 720.21,722.52 720.02,722.9C719.82,723.27 719.62,723.63 719.46,723.98C719.31,724.33 719.17,724.66 719.07,725Z" fill="url(#dc)" stroke="#eaa09a" stroke-width="0.9"/>
<path d="M708.84,724C708.82,724.46 708.78,724.92 708.7,725.38C708.62,725.83 708.51,726.28 708.37,726.72C708.23,727.16 708.06,727.59 707.86,728C707.66,728.42 707.42,728.82 707.15,729.2C706.89,729.57 706.59,729.93 706.26,730.26C705.94,730.59 705.58,730.9 705.21,731.17C704.83,731.44 704.43,731.68 704.02,731.89C703.61,732.09 703.17,732.27 702.73,732.41C702.29,732.55 701.84,732.65 701.38,732.73C700.93,732.8 700.46,732.85 700,732.86C699.54,732.87 699.07,732.85 698.61,732.8C698.14,732.75 697.68,732.66 697.22,732.55C696.77,732.43 696.31,732.29 695.87,732.11C695.43,731.92 694.99,731.71 694.58,731.46C694.17,731.21 693.77,730.92 693.4,730.6C693.03,730.28 692.68,729.92 692.38,729.54C692.07,729.15 691.8,728.73 691.58,728.29C691.35,727.86 691.17,727.39 691.03,726.91C690.9,726.44 690.82,725.95 690.78,725.46C690.75,724.97 690.77,724.48 690.82,724C690.88,723.52 690.99,723.05 691.12,722.59C691.26,722.14 691.44,721.7 691.64,721.28C691.84,720.87 692.08,720.47 692.33,720.09C692.58,719.71 692.85,719.36 693.14,719.02C693.42,718.67 693.73,718.35 694.04,718.04C694.36,717.73 694.69,717.44 695.03,717.16C695.38,716.88 695.74,716.62 696.11,716.38C696.49,716.13 696.89,715.9 697.3,715.7C697.72,715.51 698.15,715.32 698.6,715.19C699.05,715.05 699.52,714.94 700,714.87C700.48,714.81 700.97,714.79 701.45,714.82C701.94,714.84 702.44,714.92 702.91,715.04C703.39,715.16 703.86,715.34 704.3,715.56C704.74,715.78 705.17,716.05 705.56,716.35C705.95,716.65 706.31,717 706.64,717.36C706.96,717.73 707.25,718.14 707.5,718.55C707.75,718.97 707.96,719.41 708.14,719.85C708.32,720.3 708.46,720.76 708.57,721.22C708.68,721.67 708.75,722.14 708.8,722.61C708.84,723.07 708.86,723.54 708.84,724Z" fill="url(#tn)"/>
<circle cx="657" cy="776" r="6" fill="#f3bdb7" stroke="#eaa09a" stroke-width="0.8"/>
<circle cx="659.55" cy="769.27" r="3.6" fill="#f3bdb7"/>
<circle cx="675" cy="771" r="5" fill="#f3bdb7" stroke="#eaa09a" stroke-width="0.8"/>
<circle cx="673.32" cy="765.24" r="3" fill="#f3bdb7"/>
<circle cx="652" cy="785" r="4" fill="#f3bdb7" stroke="#eaa09a" stroke-width="0.8"/>
<circle cx="653.86" cy="780.58" r="2.4" fill="#f3bdb7"/>
<path d="M694.71,747C694.8,747.43 694.81,747.86 694.76,748.29C694.72,748.72 694.6,749.14 694.46,749.56C694.32,749.97 694.12,750.38 693.92,750.78C693.72,751.17 693.48,751.56 693.27,751.94C693.06,752.33 692.84,752.7 692.65,753.08C692.45,753.45 692.27,753.83 692.1,754.21C691.94,754.58 691.8,754.97 691.65,755.35C691.51,755.74 691.38,756.13 691.23,756.52C691.09,756.9 690.94,757.3 690.77,757.67C690.6,758.05 690.41,758.43 690.19,758.79C689.98,759.15 689.73,759.5 689.47,759.83C689.2,760.16 688.9,760.47 688.6,760.77C688.29,761.07 687.96,761.35 687.63,761.63C687.31,761.91 686.97,762.17 686.64,762.44C686.31,762.71 685.99,762.98 685.67,763.26C685.35,763.53 685.05,763.82 684.75,764.11C684.44,764.4 684.15,764.71 683.85,765.01C683.55,765.31 683.25,765.62 682.93,765.91C682.62,766.2 682.29,766.49 681.94,766.75C681.59,767 681.22,767.24 680.83,767.44C680.43,767.63 680.01,767.79 679.58,767.91C679.15,768.03 678.69,768.11 678.24,768.16C677.78,768.2 677.31,768.2 676.85,768.2C676.39,768.2 675.92,768.16 675.47,768.15C675.02,768.14 674.58,768.12 674.16,768.14C673.73,768.16 673.32,768.2 672.92,768.28C672.51,768.37 672.13,768.5 671.73,768.67C671.33,768.83 670.95,769.06 670.55,769.29C670.14,769.53 669.74,769.82 669.32,770.09C668.89,770.36 668.45,770.67 668,770.92C667.55,771.18 667.07,771.44 666.6,771.63C666.12,771.82 665.62,771.98 665.14,772.06C664.65,772.15 664.15,772.18 663.67,772.14C663.19,772.11 662.71,772 662.26,771.85C661.8,771.7 661.36,771.48 660.94,771.24C660.52,771.01 660.12,770.72 659.73,770.43C659.34,770.14 658.97,769.82 658.61,769.51C658.24,769.21 657.9,768.9 657.55,768.6C657.2,768.3 656.86,768.01 656.52,767.72C656.19,767.43 655.85,767.16 655.52,766.88C655.2,766.6 654.87,766.33 654.56,766.04C654.25,765.75 653.95,765.46 653.66,765.15C653.38,764.85 653.11,764.53 652.86,764.2C652.61,763.87 652.39,763.52 652.17,763.17C651.96,762.82 651.77,762.46 651.57,762.11C651.38,761.76 651.2,761.41 651.01,761.08C650.81,760.74 650.62,760.42 650.4,760.11C650.17,759.81 649.94,759.52 649.67,759.25C649.41,758.97 649.12,758.72 648.8,758.47C648.49,758.22 648.14,757.98 647.8,757.73C647.46,757.48 647.08,757.23 646.74,756.97C646.4,756.7 646.05,756.42 645.75,756.12C645.45,755.81 645.16,755.49 644.94,755.14C644.72,754.8 644.54,754.43 644.42,754.05C644.29,753.67 644.23,753.27 644.2,752.87C644.17,752.47 644.21,752.05 644.24,751.65C644.28,751.24 644.37,750.83 644.43,750.43C644.49,750.04 644.57,749.65 644.6,749.26C644.63,748.88 644.66,748.5 644.63,748.13C644.6,747.75 644.53,747.38 644.42,747C644.31,746.62 644.15,746.24 643.98,745.84C643.81,745.45 643.59,745.04 643.39,744.62C643.18,744.2 642.95,743.77 642.77,743.32C642.59,742.88 642.41,742.43 642.3,741.97C642.18,741.52 642.1,741.06 642.09,740.61C642.07,740.16 642.11,739.72 642.21,739.29C642.3,738.86 642.46,738.45 642.66,738.05C642.85,737.65 643.11,737.28 643.37,736.91C643.64,736.55 643.95,736.21 644.25,735.87C644.56,735.53 644.89,735.21 645.21,734.9C645.53,734.58 645.86,734.27 646.18,733.96C646.5,733.66 646.82,733.36 647.15,733.06C647.47,732.77 647.79,732.47 648.13,732.19C648.46,731.92 648.8,731.64 649.16,731.39C649.52,731.15 649.89,730.91 650.28,730.7C650.67,730.49 651.08,730.3 651.49,730.13C651.9,729.96 652.34,729.82 652.76,729.68C653.18,729.55 653.61,729.43 654.02,729.3C654.44,729.17 654.84,729.06 655.23,728.91C655.61,728.76 655.98,728.6 656.33,728.4C656.68,728.2 657,727.98 657.32,727.72C657.64,727.45 657.93,727.15 658.24,726.83C658.54,726.51 658.83,726.14 659.15,725.78C659.46,725.42 659.77,725.03 660.12,724.68C660.46,724.33 660.82,723.97 661.21,723.67C661.59,723.37 662,723.1 662.43,722.89C662.86,722.69 663.31,722.54 663.77,722.45C664.23,722.36 664.71,722.35 665.19,722.37C665.66,722.4 666.14,722.49 666.61,722.6C667.08,722.72 667.55,722.88 668,723.04C668.45,723.19 668.9,723.38 669.34,723.53C669.78,723.68 670.2,723.84 670.63,723.96C671.06,724.08 671.48,724.18 671.92,724.25C672.35,724.32 672.78,724.36 673.22,724.39C673.66,724.43 674.11,724.43 674.57,724.45C675.02,724.47 675.48,724.48 675.94,724.52C676.39,724.57 676.85,724.62 677.3,724.71C677.74,724.81 678.18,724.93 678.6,725.09C679.02,725.26 679.42,725.46 679.8,725.69C680.18,725.92 680.54,726.19 680.88,726.47C681.23,726.75 681.54,727.07 681.85,727.38C682.16,727.69 682.45,728.02 682.74,728.33C683.03,728.65 683.31,728.97 683.59,729.29C683.87,729.6 684.15,729.91 684.43,730.22C684.7,730.53 684.98,730.83 685.24,731.14C685.51,731.45 685.77,731.76 686.01,732.08C686.24,732.41 686.47,732.75 686.66,733.1C686.85,733.45 687.02,733.82 687.15,734.2C687.29,734.57 687.39,734.97 687.47,735.37C687.55,735.76 687.6,736.17 687.64,736.57C687.69,736.96 687.71,737.36 687.76,737.74C687.81,738.11 687.85,738.48 687.94,738.83C688.03,739.18 688.14,739.51 688.31,739.83C688.48,740.14 688.69,740.44 688.96,740.74C689.22,741.03 689.54,741.31 689.89,741.6C690.24,741.9 690.64,742.18 691.04,742.49C691.44,742.8 691.87,743.12 692.26,743.46C692.66,743.81 693.06,744.17 693.39,744.55C693.72,744.92 694.02,745.33 694.24,745.73C694.46,746.14 694.62,746.57 694.71,747Z" fill="url(#dc)" stroke="#eaa09a" stroke-width="0.9"/>
<circle cx="746.7" cy="691.3" r="5" fill="#f3bdb7" stroke="#eaa09a" stroke-width="0.8"/>
<circle cx="742.08" cy="695.13" r="3" fill="#f3bdb7"/>
<circle cx="744" cy="716" r="4" fill="#f3bdb7" stroke="#eaa09a" stroke-width="0.8"/>
<circle cx="740.01" cy="713.34" r="2.4" fill="#f3bdb7"/>
<path d="M745.77,706C745.7,706.31 745.65,706.61 745.61,706.92C745.58,707.23 745.57,707.53 745.56,707.84C745.55,708.15 745.56,708.46 745.56,708.77C745.55,709.08 745.55,709.4 745.53,709.71C745.51,710.02 745.48,710.34 745.44,710.65C745.39,710.96 745.33,711.27 745.26,711.58C745.2,711.89 745.11,712.19 745.03,712.5C744.95,712.8 744.86,713.1 744.78,713.41C744.69,713.72 744.61,714.04 744.54,714.36C744.47,714.68 744.4,715.01 744.34,715.35C744.27,715.69 744.22,716.04 744.15,716.39C744.09,716.74 744.03,717.1 743.94,717.46C743.86,717.81 743.77,718.18 743.64,718.52C743.52,718.86 743.38,719.19 743.2,719.5C743.02,719.8 742.82,720.09 742.59,720.34C742.35,720.59 742.09,720.82 741.81,721.01C741.53,721.21 741.22,721.37 740.91,721.52C740.6,721.67 740.27,721.79 739.96,721.92C739.64,722.04 739.32,722.15 739.02,722.28C738.71,722.41 738.41,722.54 738.13,722.69C737.85,722.85 737.58,723.03 737.32,723.23C737.05,723.43 736.8,723.66 736.55,723.9C736.29,724.14 736.05,724.41 735.79,724.66C735.53,724.92 735.26,725.2 734.98,725.44C734.7,725.68 734.41,725.92 734.1,726.1C733.79,726.28 733.47,726.44 733.14,726.54C732.8,726.64 732.45,726.69 732.1,726.69C731.76,726.69 731.4,726.63 731.04,726.54C730.69,726.44 730.34,726.29 730,726.13C729.66,725.96 729.32,725.76 729,725.56C728.68,725.36 728.36,725.14 728.06,724.93C727.76,724.73 727.46,724.53 727.17,724.35C726.88,724.18 726.6,724.01 726.32,723.87C726.04,723.72 725.76,723.6 725.48,723.49C725.2,723.37 724.92,723.27 724.64,723.17C724.36,723.07 724.08,722.97 723.81,722.87C723.53,722.76 723.26,722.66 722.99,722.54C722.72,722.42 722.45,722.28 722.19,722.15C721.93,722.01 721.67,721.86 721.41,721.72C721.15,721.58 720.9,721.42 720.64,721.28C720.38,721.15 720.12,721.01 719.84,720.89C719.57,720.76 719.28,720.65 718.99,720.55C718.69,720.45 718.38,720.36 718.05,720.27C717.73,720.18 717.39,720.1 717.06,720C716.72,719.91 716.37,719.81 716.03,719.69C715.7,719.56 715.36,719.42 715.06,719.25C714.76,719.07 714.47,718.87 714.22,718.63C713.97,718.4 713.75,718.12 713.58,717.83C713.4,717.53 713.27,717.19 713.17,716.85C713.07,716.51 713.02,716.13 712.98,715.76C712.94,715.4 712.94,715.01 712.93,714.64C712.93,714.27 712.94,713.9 712.94,713.55C712.93,713.2 712.93,712.86 712.89,712.53C712.85,712.2 712.8,711.89 712.71,711.59C712.63,711.28 712.51,710.99 712.39,710.7C712.26,710.41 712.1,710.12 711.94,709.83C711.79,709.53 711.61,709.24 711.47,708.93C711.32,708.63 711.16,708.31 711.05,707.99C710.94,707.67 710.84,707.34 710.79,707.01C710.74,706.68 710.72,706.33 710.74,706C710.76,705.67 710.82,705.33 710.9,705C710.98,704.67 711.1,704.34 711.22,704.03C711.34,703.71 711.49,703.4 711.63,703.1C711.76,702.79 711.91,702.49 712.04,702.2C712.18,701.9 712.3,701.61 712.42,701.31C712.53,701.01 712.63,700.72 712.73,700.42C712.83,700.12 712.91,699.82 713,699.52C713.09,699.21 713.17,698.91 713.27,698.61C713.37,698.31 713.47,698 713.58,697.71C713.7,697.41 713.83,697.12 713.97,696.84C714.12,696.56 714.28,696.29 714.44,696.02C714.6,695.75 714.77,695.48 714.94,695.22C715.11,694.95 715.28,694.69 715.44,694.41C715.6,694.13 715.75,693.85 715.89,693.54C716.03,693.24 716.16,692.92 716.29,692.58C716.41,692.24 716.52,691.88 716.64,691.51C716.76,691.14 716.86,690.74 717,690.35C717.13,689.97 717.26,689.56 717.43,689.19C717.6,688.82 717.78,688.44 718,688.12C718.22,687.8 718.47,687.49 718.75,687.25C719.03,687.01 719.34,686.81 719.67,686.68C720,686.54 720.37,686.45 720.74,686.42C721.11,686.38 721.5,686.4 721.89,686.44C722.27,686.49 722.67,686.58 723.05,686.67C723.43,686.77 723.81,686.89 724.17,686.99C724.54,687.09 724.89,687.19 725.23,687.27C725.57,687.34 725.89,687.4 726.21,687.43C726.53,687.46 726.84,687.46 727.15,687.45C727.46,687.44 727.77,687.4 728.07,687.36C728.38,687.32 728.69,687.26 729,687.22C729.31,687.18 729.62,687.14 729.94,687.13C730.25,687.12 730.57,687.13 730.88,687.16C731.19,687.19 731.5,687.26 731.8,687.34C732.1,687.42 732.4,687.54 732.69,687.66C732.99,687.78 733.27,687.93 733.55,688.07C733.83,688.21 734.11,688.37 734.38,688.51C734.66,688.65 734.93,688.8 735.21,688.93C735.48,689.06 735.76,689.19 736.04,689.31C736.32,689.43 736.61,689.54 736.89,689.66C737.17,689.78 737.46,689.89 737.74,690.02C738.02,690.16 738.3,690.3 738.56,690.46C738.82,690.62 739.08,690.8 739.32,691.01C739.56,691.21 739.78,691.43 739.99,691.67C740.2,691.91 740.39,692.17 740.58,692.43C740.76,692.69 740.93,692.96 741.11,693.22C741.28,693.48 741.45,693.75 741.63,693.99C741.82,694.24 742.01,694.48 742.22,694.7C742.44,694.92 742.67,695.12 742.93,695.32C743.19,695.52 743.47,695.69 743.76,695.88C744.06,696.07 744.38,696.24 744.69,696.44C745.01,696.63 745.34,696.83 745.64,697.05C745.93,697.28 746.23,697.52 746.48,697.78C746.73,698.05 746.96,698.34 747.12,698.66C747.29,698.97 747.41,699.31 747.48,699.66C747.54,700.01 747.55,700.39 747.53,700.76C747.5,701.13 747.41,701.52 747.31,701.89C747.21,702.27 747.06,702.64 746.92,703C746.78,703.37 746.61,703.72 746.47,704.06C746.33,704.4 746.18,704.73 746.06,705.06C745.95,705.38 745.85,705.69 745.77,706Z" fill="url(#dc)" stroke="#eaa09a" stroke-width="0.9"/>
<path d="M736.06,706C736.08,706.42 736.08,706.85 736.05,707.28C736.02,707.7 735.97,708.13 735.88,708.56C735.79,708.98 735.67,709.41 735.51,709.83C735.35,710.24 735.15,710.65 734.92,711.03C734.69,711.41 734.42,711.78 734.12,712.12C733.82,712.46 733.48,712.78 733.13,713.06C732.77,713.33 732.37,713.58 731.97,713.79C731.56,714 731.13,714.17 730.7,714.3C730.26,714.44 729.81,714.53 729.36,714.59C728.91,714.65 728.45,714.67 728,714.66C727.55,714.65 727.09,714.6 726.65,714.52C726.21,714.44 725.77,714.33 725.34,714.19C724.91,714.04 724.49,713.87 724.1,713.66C723.7,713.46 723.31,713.22 722.95,712.95C722.59,712.69 722.24,712.39 721.93,712.07C721.61,711.75 721.32,711.4 721.07,711.04C720.82,710.67 720.59,710.27 720.41,709.87C720.22,709.47 720.07,709.04 719.96,708.61C719.85,708.19 719.78,707.74 719.74,707.31C719.7,706.87 719.7,706.43 719.73,706C719.76,705.57 719.83,705.14 719.92,704.72C720.01,704.3 720.13,703.89 720.27,703.49C720.42,703.09 720.58,702.7 720.77,702.32C720.96,701.94 721.17,701.56 721.4,701.2C721.63,700.84 721.88,700.49 722.16,700.16C722.43,699.82 722.73,699.5 723.05,699.19C723.38,698.89 723.73,698.6 724.1,698.35C724.47,698.09 724.87,697.85 725.29,697.66C725.71,697.47 726.15,697.3 726.61,697.19C727.06,697.08 727.53,697.01 728,696.99C728.47,696.97 728.95,697 729.41,697.07C729.88,697.15 730.34,697.28 730.78,697.46C731.21,697.63 731.63,697.85 732.02,698.1C732.41,698.36 732.78,698.66 733.11,698.97C733.44,699.29 733.74,699.64 734,700C734.27,700.36 734.51,700.74 734.71,701.12C734.92,701.51 735.1,701.9 735.26,702.3C735.41,702.7 735.54,703.11 735.65,703.51C735.76,703.92 735.85,704.33 735.92,704.75C735.99,705.16 736.04,705.58 736.06,706Z" fill="url(#tn)"/>
<circle cx="592" cy="695" r="4" fill="#f3bdb7" stroke="#eaa09a" stroke-width="0.8"/>
<circle cx="595.71" cy="698.05" r="2.4" fill="#f3bdb7"/>
<path d="M627.85,709C627.79,709.39 627.78,709.78 627.8,710.17C627.82,710.57 627.9,710.96 627.98,711.37C628.06,711.79 628.18,712.21 628.29,712.64C628.39,713.07 628.52,713.51 628.6,713.96C628.69,714.41 628.77,714.87 628.8,715.32C628.83,715.77 628.83,716.22 628.79,716.66C628.75,717.09 628.67,717.52 628.55,717.93C628.44,718.35 628.28,718.74 628.11,719.13C627.94,719.51 627.73,719.88 627.54,720.24C627.34,720.61 627.12,720.96 626.92,721.32C626.72,721.67 626.51,722.03 626.33,722.39C626.14,722.76 625.96,723.13 625.78,723.52C625.61,723.9 625.45,724.3 625.28,724.69C625.11,725.09 624.95,725.5 624.77,725.91C624.59,726.31 624.41,726.71 624.2,727.1C624,727.49 623.78,727.87 623.54,728.22C623.29,728.57 623.03,728.91 622.75,729.22C622.48,729.53 622.18,729.82 621.88,730.1C621.57,730.37 621.25,730.62 620.94,730.88C620.62,731.13 620.29,731.37 619.97,731.63C619.66,731.89 619.34,732.14 619.02,732.41C618.7,732.68 618.39,732.97 618.07,733.26C617.76,733.55 617.44,733.87 617.11,734.16C616.78,734.46 616.45,734.77 616.1,735.03C615.76,735.3 615.4,735.56 615.02,735.75C614.65,735.95 614.25,736.11 613.86,736.19C613.46,736.28 613.04,736.3 612.63,736.25C612.21,736.2 611.79,736.07 611.37,735.89C610.96,735.71 610.55,735.44 610.15,735.16C609.76,734.88 609.37,734.53 609,734.19C608.63,733.86 608.28,733.49 607.94,733.17C607.59,732.84 607.27,732.52 606.95,732.25C606.62,731.99 606.31,731.76 606,731.58C605.68,731.41 605.36,731.29 605.03,731.21C604.71,731.13 604.37,731.11 604.03,731.1C603.68,731.09 603.32,731.13 602.95,731.15C602.59,731.17 602.21,731.21 601.84,731.22C601.46,731.22 601.08,731.22 600.71,731.18C600.33,731.13 599.96,731.06 599.61,730.95C599.25,730.84 598.9,730.68 598.57,730.51C598.24,730.33 597.92,730.11 597.61,729.88C597.3,729.66 597,729.4 596.71,729.14C596.41,728.89 596.12,728.62 595.83,728.36C595.54,728.1 595.25,727.83 594.96,727.57C594.66,727.3 594.36,727.04 594.07,726.77C593.78,726.5 593.47,726.24 593.19,725.95C592.9,725.66 592.62,725.36 592.36,725.04C592.1,724.72 591.85,724.38 591.64,724.02C591.42,723.65 591.23,723.26 591.07,722.86C590.91,722.46 590.78,722.03 590.68,721.59C590.57,721.16 590.49,720.71 590.42,720.27C590.35,719.83 590.3,719.38 590.24,718.94C590.18,718.51 590.12,718.08 590.04,717.66C589.96,717.25 589.87,716.84 589.75,716.45C589.63,716.05 589.49,715.66 589.33,715.28C589.17,714.89 588.97,714.51 588.79,714.11C588.6,713.72 588.39,713.33 588.21,712.92C588.03,712.51 587.85,712.09 587.72,711.66C587.58,711.23 587.47,710.79 587.42,710.35C587.37,709.9 587.37,709.45 587.42,709C587.48,708.55 587.59,708.1 587.74,707.67C587.9,707.24 588.11,706.82 588.34,706.42C588.57,706.01 588.85,705.62 589.11,705.25C589.37,704.87 589.66,704.52 589.9,704.17C590.15,703.81 590.4,703.48 590.6,703.13C590.8,702.78 590.97,702.44 591.11,702.08C591.24,701.72 591.33,701.35 591.4,700.96C591.46,700.56 591.49,700.16 591.51,699.73C591.53,699.3 591.52,698.86 591.53,698.4C591.54,697.95 591.53,697.48 591.56,697.01C591.58,696.55 591.61,696.07 591.68,695.61C591.74,695.15 591.83,694.69 591.94,694.24C592.05,693.8 592.19,693.36 592.34,692.94C592.5,692.52 592.68,692.11 592.87,691.71C593.05,691.3 593.26,690.91 593.47,690.51C593.68,690.11 593.9,689.72 594.12,689.33C594.34,688.93 594.57,688.53 594.81,688.14C595.05,687.75 595.29,687.35 595.56,686.97C595.82,686.6 596.1,686.23 596.4,685.89C596.69,685.56 597.01,685.24 597.35,684.98C597.69,684.72 598.06,684.5 598.44,684.33C598.82,684.16 599.23,684.05 599.64,683.99C600.06,683.92 600.49,683.92 600.92,683.94C601.35,683.96 601.79,684.05 602.21,684.12C602.63,684.2 603.06,684.32 603.46,684.41C603.87,684.49 604.27,684.59 604.65,684.65C605.04,684.7 605.4,684.73 605.77,684.72C606.14,684.71 606.49,684.66 606.84,684.58C607.2,684.5 607.55,684.37 607.91,684.25C608.27,684.12 608.63,683.95 609,683.82C609.37,683.69 609.75,683.54 610.12,683.45C610.5,683.36 610.89,683.29 611.27,683.29C611.65,683.28 612.03,683.33 612.4,683.43C612.77,683.54 613.13,683.71 613.48,683.92C613.82,684.13 614.15,684.41 614.47,684.7C614.78,684.99 615.08,685.34 615.37,685.66C615.66,685.99 615.93,686.35 616.2,686.66C616.48,686.98 616.74,687.3 617.01,687.58C617.28,687.86 617.56,688.11 617.84,688.34C618.13,688.56 618.43,688.75 618.74,688.92C619.05,689.1 619.37,689.24 619.7,689.39C620.03,689.54 620.37,689.67 620.71,689.82C621.05,689.97 621.39,690.12 621.73,690.29C622.06,690.47 622.39,690.66 622.71,690.88C623.02,691.09 623.33,691.33 623.63,691.59C623.92,691.84 624.2,692.12 624.48,692.41C624.76,692.69 625.03,692.99 625.3,693.29C625.57,693.59 625.83,693.9 626.11,694.2C626.38,694.51 626.66,694.82 626.94,695.13C627.22,695.44 627.51,695.76 627.79,696.08C628.07,696.41 628.36,696.74 628.62,697.1C628.88,697.45 629.14,697.82 629.34,698.22C629.55,698.61 629.74,699.03 629.87,699.46C630,699.9 630.1,700.36 630.13,700.83C630.16,701.3 630.14,701.79 630.07,702.28C630.01,702.77 629.88,703.27 629.74,703.75C629.59,704.24 629.39,704.72 629.21,705.19C629.03,705.65 628.81,706.11 628.63,706.54C628.45,706.98 628.27,707.4 628.14,707.81C628.01,708.22 627.9,708.61 627.85,709Z" fill="url(#dc)" stroke="#eaa09a" stroke-width="0.9"/>
<path d="M620.01,707.5C619.99,708 619.94,708.49 619.85,708.98C619.76,709.47 619.63,709.95 619.47,710.41C619.31,710.88 619.11,711.34 618.89,711.77C618.66,712.21 618.4,712.63 618.11,713.03C617.82,713.42 617.5,713.8 617.15,714.15C616.8,714.49 616.42,714.81 616.02,715.1C615.62,715.38 615.19,715.63 614.75,715.84C614.31,716.05 613.84,716.22 613.37,716.34C612.91,716.47 612.42,716.56 611.94,716.6C611.46,716.65 610.98,716.65 610.5,716.61C610.02,716.58 609.55,716.5 609.09,716.4C608.63,716.29 608.18,716.15 607.74,715.99C607.31,715.82 606.88,715.63 606.47,715.41C606.06,715.19 605.66,714.95 605.28,714.69C604.89,714.43 604.52,714.14 604.16,713.84C603.81,713.53 603.46,713.2 603.14,712.85C602.82,712.49 602.51,712.11 602.24,711.71C601.96,711.31 601.71,710.88 601.49,710.43C601.28,709.98 601.1,709.5 600.96,709.01C600.83,708.52 600.74,708.01 600.7,707.5C600.66,706.99 600.67,706.46 600.74,705.95C600.81,705.45 600.93,704.93 601.11,704.45C601.28,703.96 601.51,703.49 601.78,703.06C602.04,702.62 602.36,702.21 602.71,701.84C603.05,701.47 603.44,701.13 603.83,700.83C604.23,700.53 604.66,700.27 605.09,700.05C605.51,699.82 605.96,699.63 606.41,699.47C606.85,699.31 607.31,699.18 607.76,699.07C608.21,698.96 608.67,698.88 609.13,698.82C609.58,698.77 610.04,698.73 610.5,698.72C610.96,698.71 611.42,698.72 611.88,698.76C612.35,698.8 612.81,698.87 613.27,698.97C613.73,699.07 614.19,699.2 614.64,699.38C615.09,699.55 615.53,699.75 615.95,700C616.37,700.24 616.78,700.53 617.15,700.85C617.52,701.17 617.88,701.53 618.19,701.91C618.5,702.3 618.78,702.72 619.01,703.16C619.25,703.6 619.45,704.07 619.6,704.54C619.75,705.02 619.86,705.51 619.93,706.01C620,706.5 620.02,707 620.01,707.5Z" fill="url(#tn)"/>
<path d="M670.62,711C670.62,711.39 670.62,711.78 670.63,712.18C670.65,712.57 670.69,712.97 670.73,713.37C670.76,713.77 670.82,714.18 670.87,714.59C670.91,715 670.97,715.43 671,715.85C671.02,716.27 671.04,716.69 671.01,717.11C670.98,717.53 670.93,717.95 670.83,718.35C670.74,718.76 670.6,719.15 670.42,719.53C670.25,719.91 670.03,720.27 669.8,720.62C669.57,720.97 669.3,721.29 669.05,721.62C668.79,721.95 668.51,722.26 668.27,722.58C668.02,722.91 667.77,723.23 667.57,723.58C667.36,723.93 667.18,724.28 667.02,724.67C666.86,725.07 666.75,725.48 666.63,725.93C666.52,726.37 666.44,726.85 666.35,727.34C666.25,727.83 666.18,728.35 666.06,728.86C665.94,729.37 665.82,729.9 665.65,730.38C665.48,730.87 665.27,731.35 665.02,731.77C664.76,732.19 664.46,732.58 664.12,732.91C663.77,733.23 663.37,733.5 662.95,733.71C662.53,733.92 662.06,734.07 661.58,734.17C661.1,734.28 660.59,734.32 660.09,734.35C659.6,734.37 659.08,734.35 658.59,734.33C658.09,734.31 657.6,734.26 657.12,734.24C656.64,734.21 656.18,734.18 655.73,734.17C655.28,734.16 654.84,734.16 654.41,734.17C653.98,734.18 653.56,734.21 653.14,734.23C652.72,734.26 652.31,734.29 651.89,734.31C651.48,734.33 651.07,734.35 650.65,734.35C650.24,734.35 649.83,734.33 649.42,734.3C649.01,734.26 648.6,734.21 648.2,734.15C647.8,734.09 647.4,734.01 647,733.94C646.6,733.88 646.21,733.8 645.81,733.74C645.41,733.69 645.02,733.65 644.62,733.63C644.21,733.61 643.81,733.61 643.39,733.62C642.97,733.64 642.55,733.69 642.11,733.73C641.67,733.77 641.22,733.83 640.77,733.87C640.32,733.9 639.85,733.95 639.39,733.94C638.94,733.93 638.48,733.91 638.04,733.82C637.6,733.74 637.17,733.61 636.77,733.43C636.37,733.25 635.99,733.01 635.65,732.74C635.31,732.46 635,732.12 634.71,731.77C634.42,731.42 634.17,731.03 633.93,730.64C633.69,730.25 633.48,729.84 633.25,729.46C633.03,729.08 632.82,728.7 632.58,728.35C632.34,728 632.1,727.68 631.82,727.38C631.55,727.08 631.25,726.81 630.92,726.56C630.59,726.3 630.23,726.08 629.87,725.85C629.5,725.61 629.1,725.4 628.72,725.15C628.34,724.91 627.94,724.67 627.59,724.39C627.23,724.11 626.88,723.81 626.59,723.48C626.29,723.15 626.03,722.78 625.83,722.4C625.63,722.01 625.48,721.59 625.37,721.16C625.27,720.74 625.22,720.28 625.2,719.83C625.18,719.38 625.22,718.91 625.25,718.46C625.29,718 625.37,717.54 625.43,717.1C625.49,716.66 625.57,716.22 625.63,715.8C625.69,715.37 625.74,714.96 625.79,714.55C625.83,714.14 625.85,713.74 625.88,713.35C625.9,712.95 625.92,712.56 625.94,712.17C625.96,711.78 625.98,711.39 626.01,711C626.05,710.61 626.09,710.23 626.16,709.84C626.22,709.46 626.3,709.08 626.39,708.71C626.47,708.33 626.58,707.96 626.68,707.59C626.77,707.22 626.88,706.86 626.96,706.49C627.04,706.11 627.12,705.75 627.16,705.36C627.21,704.98 627.23,704.59 627.21,704.18C627.2,703.77 627.16,703.35 627.09,702.9C627.03,702.45 626.94,701.98 626.85,701.5C626.77,701.01 626.66,700.5 626.59,699.99C626.51,699.48 626.44,698.94 626.43,698.43C626.42,697.92 626.43,697.4 626.51,696.92C626.6,696.44 626.73,695.97 626.93,695.54C627.12,695.12 627.39,694.73 627.69,694.39C628,694.05 628.37,693.75 628.76,693.49C629.14,693.23 629.59,693.02 630.02,692.82C630.45,692.62 630.92,692.46 631.36,692.29C631.8,692.13 632.24,691.98 632.66,691.81C633.08,691.64 633.48,691.47 633.86,691.26C634.24,691.06 634.6,690.84 634.95,690.6C635.3,690.35 635.63,690.08 635.96,689.8C636.3,689.52 636.62,689.22 636.96,688.93C637.3,688.65 637.64,688.35 638,688.09C638.36,687.84 638.74,687.59 639.14,687.39C639.53,687.19 639.94,687.02 640.37,686.89C640.79,686.77 641.23,686.69 641.67,686.64C642.11,686.59 642.57,686.59 643.01,686.6C643.46,686.61 643.91,686.65 644.35,686.7C644.79,686.74 645.23,686.81 645.66,686.86C646.09,686.91 646.52,686.96 646.94,687.01C647.37,687.05 647.78,687.09 648.2,687.13C648.62,687.16 649.03,687.19 649.45,687.23C649.86,687.27 650.27,687.31 650.68,687.38C651.09,687.45 651.5,687.53 651.9,687.65C652.3,687.76 652.69,687.9 653.08,688.06C653.46,688.22 653.83,688.42 654.2,688.62C654.56,688.82 654.91,689.06 655.26,689.27C655.61,689.49 655.95,689.72 656.29,689.92C656.64,690.12 656.98,690.31 657.34,690.46C657.71,690.62 658.07,690.75 658.47,690.84C658.87,690.94 659.29,690.99 659.73,691.03C660.17,691.08 660.64,691.08 661.12,691.1C661.6,691.12 662.12,691.12 662.62,691.15C663.12,691.19 663.65,691.23 664.13,691.32C664.62,691.42 665.11,691.54 665.55,691.73C665.99,691.92 666.4,692.16 666.75,692.45C667.1,692.74 667.41,693.09 667.66,693.48C667.91,693.87 668.09,694.31 668.24,694.77C668.39,695.23 668.48,695.73 668.55,696.22C668.62,696.7 668.64,697.22 668.67,697.7C668.7,698.19 668.71,698.68 668.74,699.14C668.76,699.61 668.79,700.05 668.84,700.48C668.9,700.91 668.97,701.31 669.06,701.71C669.15,702.11 669.27,702.49 669.39,702.86C669.52,703.24 669.66,703.61 669.79,703.98C669.93,704.36 670.07,704.73 670.18,705.11C670.3,705.49 670.41,705.87 670.48,706.26C670.56,706.65 670.62,707.05 670.65,707.44C670.69,707.84 670.7,708.24 670.7,708.64C670.7,709.03 670.68,709.43 670.66,709.82C670.65,710.22 670.63,710.61 670.62,711Z" fill="url(#dc)" stroke="#eaa09a" stroke-width="0.9"/>
<path d="M658.83,711C658.87,711.54 658.85,712.09 658.78,712.63C658.7,713.16 658.57,713.7 658.38,714.21C658.2,714.72 657.95,715.22 657.67,715.67C657.39,716.13 657.06,716.57 656.7,716.96C656.35,717.35 655.94,717.71 655.53,718.03C655.12,718.35 654.68,718.64 654.23,718.89C653.78,719.14 653.32,719.35 652.85,719.54C652.38,719.72 651.9,719.87 651.42,720C650.94,720.12 650.46,720.22 649.97,720.28C649.48,720.35 648.99,720.39 648.5,720.4C648.01,720.41 647.51,720.39 647.02,720.33C646.53,720.28 646.04,720.19 645.55,720.07C645.07,719.94 644.59,719.78 644.13,719.58C643.67,719.38 643.22,719.13 642.79,718.86C642.37,718.58 641.96,718.26 641.59,717.91C641.21,717.57 640.86,717.18 640.56,716.77C640.25,716.36 639.97,715.92 639.73,715.47C639.49,715.01 639.29,714.53 639.13,714.05C638.97,713.56 638.84,713.05 638.75,712.54C638.67,712.04 638.62,711.52 638.61,711C638.6,710.48 638.62,709.96 638.69,709.45C638.75,708.93 638.85,708.41 639,707.91C639.14,707.41 639.32,706.91 639.54,706.44C639.76,705.96 640.02,705.49 640.32,705.06C640.62,704.63 640.96,704.21 641.34,703.84C641.71,703.46 642.12,703.12 642.56,702.82C642.99,702.52 643.46,702.26 643.94,702.05C644.42,701.85 644.93,701.68 645.44,701.57C645.94,701.45 646.46,701.39 646.97,701.37C647.48,701.34 648,701.37 648.5,701.42C649,701.48 649.49,701.58 649.97,701.71C650.45,701.83 650.92,701.99 651.37,702.17C651.82,702.35 652.26,702.56 652.69,702.78C653.11,703.01 653.53,703.25 653.93,703.52C654.34,703.79 654.73,704.08 655.11,704.39C655.49,704.71 655.86,705.04 656.2,705.41C656.55,705.77 656.88,706.16 657.18,706.58C657.47,707 657.75,707.45 657.98,707.92C658.21,708.39 658.41,708.89 658.55,709.41C658.69,709.92 658.79,710.46 658.83,711Z" fill="url(#tn)"/>
<circle cx="718" cy="680" r="4.5" fill="#f3bdb7" stroke="#eaa09a" stroke-width="0.8"/>
<circle cx="713.57" cy="683.09" r="2.7" fill="#f3bdb7"/>
<circle cx="673" cy="683" r="3.5" fill="#f3bdb7" stroke="#eaa09a" stroke-width="0.8"/>
<circle cx="676.47" cy="685.36" r="2.1" fill="#f3bdb7"/>
<path d="M719.69,697C719.52,697.46 719.36,697.9 719.24,698.34C719.12,698.79 719.03,699.22 718.96,699.67C718.89,700.11 718.85,700.55 718.82,700.99C718.78,701.44 718.77,701.89 718.75,702.35C718.72,702.8 718.7,703.26 718.66,703.71C718.61,704.17 718.56,704.63 718.48,705.08C718.41,705.54 718.31,705.99 718.2,706.44C718.1,706.9 717.97,707.34 717.84,707.79C717.72,708.25 717.58,708.69 717.46,709.16C717.33,709.62 717.21,710.08 717.1,710.57C716.99,711.05 716.89,711.55 716.79,712.06C716.69,712.57 716.61,713.11 716.51,713.64C716.41,714.18 716.31,714.74 716.17,715.28C716.04,715.82 715.89,716.37 715.68,716.89C715.48,717.4 715.24,717.9 714.95,718.35C714.65,718.79 714.3,719.21 713.91,719.55C713.51,719.9 713.05,720.19 712.56,720.42C712.08,720.65 711.53,720.81 710.98,720.92C710.43,721.04 709.84,721.09 709.27,721.13C708.7,721.17 708.11,721.15 707.55,721.16C706.99,721.16 706.43,721.14 705.91,721.16C705.39,721.18 704.89,721.21 704.41,721.28C703.93,721.35 703.48,721.46 703.04,721.6C702.6,721.74 702.18,721.92 701.76,722.12C701.34,722.32 700.93,722.56 700.51,722.77C700.08,722.99 699.66,723.23 699.22,723.42C698.78,723.61 698.32,723.8 697.86,723.92C697.4,724.04 696.93,724.13 696.45,724.15C695.98,724.18 695.49,724.15 695.02,724.08C694.54,724 694.07,723.87 693.6,723.72C693.13,723.57 692.68,723.37 692.23,723.17C691.78,722.98 691.34,722.76 690.91,722.56C690.48,722.36 690.06,722.16 689.64,721.98C689.22,721.81 688.81,721.65 688.39,721.51C687.97,721.37 687.55,721.26 687.13,721.15C686.71,721.04 686.28,720.94 685.85,720.84C685.43,720.73 685,720.63 684.58,720.51C684.15,720.38 683.73,720.25 683.32,720.09C682.91,719.93 682.5,719.75 682.11,719.56C681.71,719.36 681.33,719.14 680.94,718.92C680.56,718.71 680.18,718.47 679.8,718.25C679.41,718.03 679.03,717.81 678.62,717.61C678.22,717.41 677.8,717.23 677.36,717.06C676.92,716.88 676.45,716.74 675.96,716.59C675.47,716.44 674.95,716.32 674.43,716.17C673.91,716.02 673.36,715.88 672.83,715.7C672.3,715.52 671.76,715.33 671.27,715.08C670.79,714.83 670.31,714.55 669.9,714.22C669.5,713.88 669.14,713.49 668.86,713.07C668.58,712.64 668.36,712.16 668.22,711.66C668.07,711.15 668.01,710.6 667.99,710.05C667.96,709.5 668.02,708.92 668.09,708.36C668.15,707.8 668.27,707.23 668.37,706.68C668.47,706.14 668.59,705.61 668.67,705.1C668.74,704.59 668.81,704.11 668.82,703.64C668.84,703.17 668.82,702.72 668.75,702.28C668.69,701.84 668.58,701.41 668.45,700.98C668.33,700.55 668.16,700.13 668,699.69C667.84,699.26 667.66,698.82 667.51,698.37C667.36,697.92 667.21,697.46 667.11,697C667.01,696.54 666.93,696.07 666.9,695.6C666.86,695.13 666.87,694.66 666.9,694.19C666.93,693.73 667,693.26 667.08,692.8C667.16,692.34 667.27,691.88 667.37,691.42C667.47,690.97 667.58,690.51 667.68,690.06C667.78,689.6 667.88,689.14 667.97,688.67C668.06,688.2 668.13,687.73 668.22,687.26C668.3,686.78 668.38,686.29 668.48,685.81C668.58,685.34 668.68,684.85 668.83,684.38C668.97,683.91 669.13,683.44 669.34,682.99C669.54,682.55 669.79,682.12 670.06,681.71C670.33,681.31 670.65,680.93 670.98,680.57C671.31,680.21 671.68,679.88 672.05,679.55C672.41,679.22 672.8,678.92 673.17,678.6C673.53,678.29 673.91,677.98 674.25,677.65C674.59,677.32 674.92,676.98 675.24,676.6C675.55,676.23 675.83,675.83 676.12,675.41C676.4,674.99 676.67,674.54 676.95,674.08C677.23,673.63 677.5,673.14 677.81,672.69C678.12,672.24 678.44,671.77 678.8,671.37C679.17,670.97 679.56,670.58 679.99,670.28C680.42,669.99 680.89,669.74 681.39,669.57C681.89,669.41 682.43,669.32 682.97,669.31C683.52,669.3 684.09,669.37 684.66,669.49C685.23,669.6 685.81,669.8 686.37,670C686.92,670.2 687.48,670.46 688.01,670.7C688.54,670.93 689.05,671.19 689.55,671.4C690.04,671.61 690.51,671.81 690.97,671.97C691.43,672.12 691.87,672.23 692.31,672.31C692.74,672.39 693.17,672.43 693.6,672.45C694.03,672.47 694.46,672.45 694.89,672.44C695.32,672.42 695.75,672.39 696.19,672.38C696.62,672.37 697.06,672.36 697.5,672.38C697.94,672.39 698.38,672.43 698.81,672.48C699.25,672.54 699.68,672.61 700.11,672.7C700.54,672.78 700.97,672.89 701.4,672.99C701.84,673.08 702.26,673.19 702.71,673.28C703.15,673.37 703.59,673.46 704.05,673.54C704.5,673.61 704.97,673.68 705.45,673.75C705.93,673.81 706.42,673.87 706.91,673.95C707.4,674.03 707.9,674.11 708.38,674.24C708.87,674.36 709.36,674.5 709.81,674.69C710.26,674.89 710.7,675.12 711.1,675.39C711.49,675.67 711.86,676 712.18,676.36C712.5,676.73 712.78,677.14 713.03,677.57C713.29,677.99 713.49,678.46 713.69,678.91C713.89,679.36 714.05,679.84 714.24,680.29C714.42,680.74 714.59,681.18 714.79,681.6C715,682.02 715.22,682.42 715.47,682.79C715.73,683.17 716.03,683.52 716.35,683.87C716.67,684.21 717.04,684.53 717.41,684.87C717.78,685.2 718.2,685.53 718.58,685.88C718.96,686.23 719.37,686.59 719.72,686.98C720.06,687.36 720.4,687.77 720.65,688.21C720.91,688.65 721.12,689.11 721.26,689.59C721.4,690.07 721.46,690.57 721.47,691.08C721.47,691.58 721.4,692.1 721.3,692.61C721.19,693.12 721.02,693.64 720.85,694.14C720.67,694.63 720.45,695.13 720.26,695.6C720.07,696.08 719.86,696.54 719.69,697Z" fill="url(#dc)" stroke="#eaa09a" stroke-width="0.9"/>
<path d="M704.49,697C704.47,697.57 704.38,698.15 704.25,698.7C704.12,699.26 703.93,699.8 703.7,700.31C703.46,700.82 703.17,701.31 702.86,701.77C702.55,702.22 702.19,702.65 701.81,703.04C701.44,703.43 701.03,703.79 700.62,704.12C700.2,704.45 699.77,704.74 699.32,705.02C698.88,705.29 698.43,705.54 697.96,705.76C697.5,705.99 697.03,706.19 696.55,706.37C696.06,706.55 695.57,706.71 695.06,706.84C694.55,706.97 694.03,707.09 693.5,707.15C692.97,707.22 692.42,707.27 691.88,707.26C691.33,707.25 690.77,707.21 690.22,707.11C689.67,707.01 689.11,706.86 688.58,706.66C688.05,706.46 687.52,706.2 687.04,705.89C686.55,705.59 686.09,705.22 685.67,704.83C685.26,704.43 684.88,703.97 684.55,703.5C684.23,703.03 683.95,702.51 683.72,701.98C683.49,701.46 683.32,700.9 683.19,700.35C683.06,699.8 682.99,699.23 682.95,698.67C682.92,698.11 682.93,697.55 682.98,697C683.03,696.45 683.12,695.91 683.24,695.38C683.36,694.85 683.52,694.32 683.71,693.82C683.9,693.31 684.12,692.82 684.37,692.35C684.62,691.87 684.9,691.41 685.21,690.98C685.53,690.55 685.87,690.13 686.24,689.74C686.61,689.36 687.02,688.99 687.45,688.67C687.88,688.35 688.34,688.05 688.81,687.8C689.29,687.55 689.79,687.33 690.3,687.16C690.82,686.99 691.35,686.87 691.88,686.78C692.41,686.7 692.96,686.66 693.5,686.66C694.04,686.66 694.58,686.7 695.12,686.79C695.65,686.87 696.18,686.99 696.7,687.15C697.22,687.3 697.73,687.5 698.22,687.73C698.72,687.95 699.2,688.22 699.67,688.51C700.13,688.81 700.58,689.14 701,689.5C701.42,689.86 701.82,690.26 702.19,690.69C702.55,691.12 702.89,691.58 703.18,692.07C703.47,692.55 703.73,693.08 703.93,693.61C704.13,694.15 704.28,694.71 704.37,695.28C704.47,695.84 704.51,696.43 704.49,697Z" fill="url(#tn)"/>
<circle cx="626.7" cy="638" r="7" fill="#f3bdb7" stroke="#eaa09a" stroke-width="0.8"/>
<circle cx="630.69" cy="645.39" r="4.2" fill="#f3bdb7"/>
<circle cx="614.7" cy="678" r="4.5" fill="#f3bdb7" stroke="#eaa09a" stroke-width="0.8"/>
<circle cx="619.91" cy="676.58" r="2.7" fill="#f3bdb7"/>
<circle cx="617" cy="656" r="5" fill="#f3bdb7" stroke="#eaa09a" stroke-width="0.8"/>
<circle cx="622.33" cy="658.76" r="3" fill="#f3bdb7"/>
<path d="M672.52,670C672.76,670.59 673.02,671.19 673.2,671.8C673.39,672.42 673.56,673.05 673.64,673.67C673.73,674.3 673.76,674.93 673.71,675.55C673.65,676.16 673.52,676.77 673.31,677.34C673.11,677.92 672.82,678.48 672.5,679C672.17,679.52 671.77,680.01 671.37,680.48C670.97,680.95 670.51,681.38 670.09,681.8C669.66,682.23 669.22,682.62 668.82,683.02C668.42,683.43 668.04,683.82 667.7,684.23C667.35,684.64 667.05,685.06 666.77,685.49C666.49,685.93 666.25,686.38 666.01,686.85C665.78,687.32 665.58,687.81 665.37,688.3C665.16,688.79 664.96,689.3 664.74,689.79C664.52,690.29 664.29,690.79 664.05,691.27C663.8,691.76 663.54,692.23 663.26,692.69C662.98,693.16 662.68,693.6 662.37,694.05C662.07,694.49 661.75,694.92 661.43,695.36C661.11,695.81 660.78,696.24 660.46,696.7C660.14,697.16 659.82,697.63 659.49,698.12C659.17,698.61 658.85,699.12 658.51,699.63C658.18,700.14 657.85,700.68 657.48,701.19C657.12,701.7 656.75,702.22 656.35,702.69C655.95,703.15 655.52,703.6 655.06,703.97C654.61,704.33 654.12,704.65 653.62,704.88C653.11,705.1 652.57,705.25 652.03,705.31C651.48,705.37 650.92,705.34 650.36,705.25C649.8,705.17 649.23,704.98 648.68,704.79C648.12,704.6 647.57,704.33 647.04,704.1C646.51,703.86 645.99,703.59 645.48,703.38C644.98,703.17 644.49,702.97 644,702.83C643.51,702.69 643.04,702.6 642.55,702.55C642.07,702.5 641.59,702.52 641.1,702.54C640.61,702.57 640.11,702.65 639.61,702.7C639.1,702.75 638.59,702.84 638.08,702.85C637.56,702.87 637.04,702.88 636.54,702.8C636.04,702.73 635.54,702.61 635.07,702.41C634.59,702.2 634.13,701.93 633.71,701.6C633.28,701.27 632.88,700.86 632.51,700.42C632.13,699.99 631.79,699.48 631.47,698.99C631.14,698.5 630.84,697.96 630.55,697.46C630.25,696.96 629.97,696.45 629.68,695.98C629.39,695.51 629.11,695.07 628.81,694.65C628.51,694.23 628.2,693.84 627.87,693.47C627.55,693.1 627.21,692.76 626.87,692.42C626.53,692.07 626.18,691.75 625.84,691.41C625.49,691.06 625.15,690.72 624.81,690.36C624.48,690 624.16,689.62 623.85,689.23C623.54,688.84 623.24,688.44 622.95,688.02C622.66,687.61 622.39,687.18 622.11,686.76C621.82,686.33 621.55,685.9 621.25,685.48C620.94,685.06 620.64,684.65 620.3,684.23C619.96,683.82 619.59,683.42 619.21,683.01C618.83,682.6 618.41,682.19 617.99,681.77C617.57,681.34 617.12,680.91 616.7,680.45C616.29,679.99 615.85,679.51 615.49,679C615.12,678.49 614.77,677.95 614.51,677.39C614.25,676.82 614.04,676.22 613.92,675.62C613.8,675.01 613.76,674.37 613.8,673.74C613.84,673.11 613.98,672.47 614.16,671.84C614.34,671.22 614.61,670.6 614.88,670C615.16,669.4 615.5,668.82 615.81,668.26C616.12,667.7 616.46,667.16 616.75,666.62C617.03,666.09 617.31,665.58 617.53,665.06C617.74,664.54 617.91,664.03 618.05,663.5C618.18,662.97 618.25,662.44 618.31,661.89C618.37,661.34 618.38,660.77 618.4,660.2C618.43,659.62 618.42,659.03 618.46,658.44C618.49,657.86 618.53,657.26 618.62,656.68C618.7,656.1 618.82,655.52 618.98,654.98C619.14,654.43 619.35,653.9 619.59,653.39C619.83,652.89 620.12,652.41 620.42,651.95C620.72,651.49 621.06,651.06 621.39,650.64C621.72,650.21 622.07,649.81 622.41,649.39C622.74,648.98 623.08,648.57 623.41,648.15C623.74,647.73 624.05,647.3 624.37,646.86C624.68,646.42 624.98,645.97 625.3,645.52C625.61,645.07 625.92,644.61 626.25,644.17C626.59,643.73 626.93,643.29 627.29,642.89C627.66,642.49 628.04,642.11 628.44,641.77C628.85,641.43 629.28,641.12 629.72,640.84C630.15,640.56 630.62,640.33 631.08,640.1C631.53,639.88 632.01,639.69 632.47,639.48C632.94,639.28 633.4,639.09 633.86,638.86C634.32,638.64 634.77,638.4 635.21,638.13C635.66,637.85 636.1,637.54 636.54,637.2C636.99,636.86 637.43,636.48 637.89,636.1C638.34,635.72 638.81,635.3 639.29,634.93C639.77,634.56 640.27,634.18 640.78,633.88C641.29,633.59 641.83,633.32 642.36,633.16C642.9,633.01 643.46,632.92 644,632.95C644.54,632.98 645.1,633.11 645.63,633.34C646.16,633.57 646.69,633.91 647.18,634.31C647.68,634.7 648.16,635.21 648.61,635.72C649.06,636.22 649.48,636.81 649.89,637.35C650.3,637.89 650.67,638.47 651.05,638.98C651.43,639.49 651.79,639.98 652.16,640.41C652.52,640.84 652.89,641.22 653.26,641.56C653.64,641.89 654.03,642.16 654.42,642.4C654.82,642.65 655.24,642.84 655.65,643.04C656.07,643.25 656.5,643.41 656.93,643.61C657.35,643.81 657.78,644 658.2,644.23C658.62,644.46 659.03,644.7 659.42,644.98C659.82,645.26 660.2,645.57 660.57,645.89C660.93,646.21 661.28,646.57 661.63,646.92C661.98,647.27 662.31,647.65 662.66,648.01C663,648.37 663.34,648.74 663.7,649.1C664.05,649.45 664.42,649.81 664.79,650.16C665.17,650.51 665.56,650.85 665.94,651.21C666.33,651.57 666.74,651.92 667.11,652.31C667.49,652.69 667.88,653.09 668.22,653.52C668.56,653.95 668.88,654.41 669.15,654.9C669.42,655.38 669.66,655.9 669.84,656.44C670.03,656.98 670.16,657.55 670.26,658.12C670.35,658.69 670.4,659.29 670.43,659.88C670.47,660.46 670.47,661.06 670.48,661.64C670.5,662.21 670.5,662.79 670.55,663.35C670.59,663.91 670.65,664.46 670.75,665.01C670.85,665.55 670.99,666.09 671.17,666.63C671.34,667.18 671.57,667.72 671.79,668.28C672.02,668.84 672.29,669.41 672.52,670Z" fill="url(#dc)" stroke="#eaa09a" stroke-width="0.9"/>
<path d="M633,662C633.67,660.42 636.5,660 638,660.5C639.5,661 640.33,664.08 642,665C643.67,665.92 646.5,665.17 648,666C649.5,666.83 651.17,668.83 651,670C650.83,671.17 647.83,671.67 647,673C646.17,674.33 645.5,677 646,678C646.5,679 648.5,679.33 650,679C651.5,678.67 653.33,676.17 655,676C656.67,675.83 659.08,676.67 660,678C660.92,679.33 661.5,682 660.5,684C659.5,686 656.75,688.83 654,690C651.25,691.17 647,691.33 644,691C641,690.67 637.17,689.5 636,688C634.83,686.5 636,683.5 637,682C638,680.5 641.5,680.33 642,679C642.5,677.67 641.33,675.5 640,674C638.67,672.5 635.17,672 634,670C632.83,668 632.33,663.58 633,662Z" fill="#eb9892"/>
<circle cx="613" cy="766" r="5.5" fill="#f3bdb7" stroke="#eaa09a" stroke-width="0.8"/>
<circle cx="618.68" cy="762.64" r="3.3" fill="#f3bdb7"/>
<circle cx="624" cy="771" r="4.5" fill="#f3bdb7" stroke="#eaa09a" stroke-width="0.8"/>
<circle cx="626.82" cy="766.39" r="2.7" fill="#f3bdb7"/>
<circle cx="657" cy="731" r="4" fill="#f3bdb7" stroke="#eaa09a" stroke-width="0.8"/>
<circle cx="653.61" cy="734.39" r="2.4" fill="#f3bdb7"/>
<path d="M660.68,753C660.64,753.39 660.52,753.78 660.35,754.16C660.19,754.53 659.95,754.9 659.68,755.26C659.42,755.61 659.09,755.95 658.77,756.27C658.45,756.6 658.09,756.91 657.77,757.21C657.45,757.51 657.11,757.8 656.83,758.09C656.54,758.38 656.28,758.66 656.06,758.95C655.84,759.24 655.66,759.54 655.51,759.85C655.36,760.16 655.26,760.47 655.15,760.8C655.05,761.13 654.98,761.47 654.88,761.81C654.79,762.15 654.71,762.5 654.59,762.83C654.47,763.17 654.34,763.51 654.16,763.82C653.98,764.13 653.77,764.43 653.53,764.7C653.28,764.98 652.99,765.23 652.68,765.45C652.37,765.67 652.02,765.87 651.67,766.05C651.31,766.23 650.93,766.38 650.57,766.54C650.2,766.69 649.82,766.82 649.46,766.96C649.1,767.11 648.75,767.25 648.41,767.4C648.08,767.56 647.75,767.72 647.44,767.89C647.13,768.07 646.84,768.26 646.54,768.45C646.24,768.64 645.95,768.85 645.66,769.05C645.36,769.25 645.07,769.46 644.76,769.66C644.45,769.85 644.14,770.04 643.81,770.21C643.49,770.38 643.15,770.54 642.81,770.69C642.46,770.83 642.11,770.96 641.76,771.08C641.4,771.21 641.04,771.32 640.68,771.44C640.32,771.56 639.96,771.68 639.6,771.82C639.24,771.95 638.88,772.1 638.51,772.27C638.14,772.43 637.77,772.62 637.39,772.81C637.02,773.01 636.63,773.22 636.23,773.43C635.83,773.63 635.42,773.85 635,774.03C634.58,774.22 634.14,774.4 633.7,774.52C633.26,774.64 632.81,774.74 632.37,774.77C631.93,774.8 631.48,774.78 631.05,774.69C630.62,774.61 630.2,774.46 629.8,774.27C629.41,774.07 629.03,773.81 628.67,773.54C628.32,773.26 627.99,772.92 627.68,772.6C627.36,772.28 627.08,771.92 626.79,771.6C626.5,771.27 626.24,770.94 625.96,770.66C625.68,770.37 625.41,770.1 625.11,769.87C624.82,769.64 624.52,769.45 624.19,769.28C623.87,769.1 623.53,768.97 623.17,768.84C622.81,768.71 622.43,768.61 622.05,768.5C621.67,768.38 621.28,768.28 620.9,768.15C620.51,768.02 620.13,767.88 619.77,767.71C619.4,767.55 619.05,767.36 618.73,767.15C618.4,766.94 618.1,766.7 617.81,766.46C617.53,766.21 617.27,765.93 617.02,765.66C616.77,765.39 616.54,765.09 616.31,764.81C616.08,764.52 615.86,764.23 615.63,763.94C615.39,763.65 615.16,763.37 614.92,763.08C614.68,762.79 614.43,762.51 614.19,762.22C613.94,761.93 613.68,761.65 613.44,761.35C613.2,761.05 612.96,760.74 612.75,760.43C612.54,760.11 612.35,759.78 612.19,759.44C612.03,759.11 611.9,758.76 611.81,758.4C611.72,758.05 611.66,757.68 611.63,757.32C611.59,756.96 611.6,756.59 611.61,756.22C611.61,755.86 611.64,755.49 611.66,755.13C611.67,754.77 611.7,754.42 611.69,754.06C611.68,753.71 611.66,753.36 611.61,753C611.57,752.64 611.49,752.29 611.4,751.92C611.31,751.56 611.19,751.19 611.09,750.81C610.98,750.44 610.85,750.05 610.77,749.66C610.68,749.27 610.6,748.88 610.58,748.49C610.57,748.1 610.58,747.7 610.66,747.33C610.75,746.96 610.89,746.59 611.1,746.25C611.31,745.91 611.59,745.59 611.92,745.29C612.24,745 612.64,744.74 613.05,744.5C613.45,744.26 613.92,744.05 614.37,743.86C614.82,743.67 615.3,743.5 615.74,743.33C616.18,743.16 616.63,743.01 617.02,742.85C617.42,742.68 617.79,742.52 618.13,742.34C618.46,742.16 618.76,741.96 619.03,741.75C619.3,741.54 619.53,741.31 619.75,741.06C619.98,740.82 620.18,740.56 620.39,740.29C620.59,740.03 620.79,739.75 621,739.48C621.22,739.22 621.44,738.94 621.67,738.69C621.91,738.43 622.16,738.19 622.43,737.95C622.69,737.72 622.97,737.49 623.26,737.28C623.55,737.06 623.85,736.86 624.15,736.66C624.45,736.45 624.76,736.25 625.06,736.04C625.37,735.83 625.68,735.62 625.99,735.4C626.3,735.18 626.61,734.95 626.93,734.72C627.25,734.49 627.57,734.24 627.91,734.02C628.24,733.79 628.59,733.56 628.95,733.36C629.31,733.16 629.68,732.96 630.07,732.82C630.45,732.67 630.86,732.55 631.26,732.48C631.67,732.41 632.09,732.38 632.51,732.38C632.93,732.39 633.35,732.45 633.77,732.52C634.18,732.6 634.6,732.72 635,732.83C635.4,732.94 635.8,733.09 636.19,733.21C636.58,733.33 636.97,733.45 637.35,733.54C637.74,733.63 638.12,733.7 638.51,733.75C638.9,733.79 639.29,733.79 639.7,733.79C640.1,733.78 640.52,733.74 640.95,733.7C641.37,733.66 641.82,733.6 642.26,733.57C642.7,733.54 643.16,733.5 643.6,733.51C644.04,733.53 644.49,733.56 644.91,733.65C645.33,733.73 645.74,733.86 646.11,734.04C646.48,734.22 646.83,734.44 647.15,734.7C647.46,734.96 647.74,735.27 648,735.59C648.26,735.91 648.48,736.27 648.69,736.62C648.9,736.96 649.08,737.33 649.27,737.67C649.47,738.01 649.64,738.36 649.84,738.67C650.03,738.99 650.23,739.28 650.45,739.56C650.67,739.84 650.91,740.1 651.16,740.34C651.42,740.59 651.69,740.82 651.97,741.05C652.25,741.28 652.55,741.5 652.85,741.73C653.14,741.96 653.44,742.18 653.72,742.43C654.01,742.67 654.29,742.92 654.55,743.19C654.81,743.45 655.06,743.72 655.3,744.01C655.54,744.29 655.76,744.58 655.99,744.87C656.21,745.17 656.42,745.47 656.65,745.77C656.87,746.08 657.1,746.38 657.33,746.69C657.57,747 657.82,747.31 658.07,747.62C658.32,747.94 658.59,748.26 658.85,748.59C659.11,748.92 659.38,749.26 659.61,749.61C659.84,749.96 660.07,750.32 660.24,750.69C660.41,751.06 660.56,751.45 660.63,751.83C660.71,752.22 660.73,752.61 660.68,753Z" fill="url(#dc)" stroke="#eaa09a" stroke-width="0.9"/>
<path d="M634,735C635.67,734.5 639,735.17 641,736C643,736.83 645.33,738.5 646,740C646.67,741.5 646,744 645,745C644,746 641.17,745.17 640,746C638.83,746.83 637.5,749 638,750C638.5,751 641.5,751 643,752C644.5,753 647,754.83 647,756C647,757.17 645.33,758.5 643,759C640.67,759.5 635.83,759.67 633,759C630.17,758.33 627.33,756.67 626,755C624.67,753.33 624.5,750.67 625,749C625.5,747.33 627.67,745.17 629,745C630.33,744.83 632.17,748.33 633,748C633.83,747.67 634.33,744.5 634,743C633.67,741.5 631,740.33 631,739C631,737.67 632.33,735.5 634,735Z" fill="#eb9892"/>
<circle cx="734.7" cy="733.3" r="5" fill="#f3bdb7" stroke="#eaa09a" stroke-width="0.8"/>
<circle cx="731.96" cy="738.64" r="3" fill="#f3bdb7"/>
<circle cx="758.7" cy="758.7" r="7" fill="#f3bdb7" stroke="#eaa09a" stroke-width="0.8"/>
<circle cx="750.33" cy="759.41" r="4.2" fill="#f3bdb7"/>
<circle cx="729.3" cy="790" r="7" fill="#f3bdb7" stroke="#eaa09a" stroke-width="0.8"/>
<circle cx="726.65" cy="782.03" r="4.2" fill="#f3bdb7"/>
<circle cx="691" cy="782.7" r="4.5" fill="#f3bdb7" stroke="#eaa09a" stroke-width="0.8"/>
<circle cx="695.4" cy="779.56" r="2.7" fill="#f3bdb7"/>
<path d="M749.56,762C749.69,762.46 749.83,762.93 749.92,763.41C750,763.88 750.07,764.36 750.07,764.83C750.07,765.31 750.02,765.79 749.92,766.25C749.81,766.71 749.64,767.17 749.44,767.61C749.23,768.05 748.95,768.48 748.67,768.89C748.39,769.3 748.05,769.69 747.73,770.08C747.41,770.47 747.07,770.83 746.75,771.2C746.42,771.57 746.1,771.93 745.8,772.3C745.51,772.67 745.23,773.03 744.96,773.4C744.68,773.77 744.44,774.14 744.18,774.52C743.93,774.89 743.69,775.27 743.43,775.64C743.17,776.01 742.91,776.38 742.62,776.73C742.33,777.09 742.03,777.43 741.71,777.76C741.39,778.09 741.04,778.4 740.68,778.7C740.33,779 739.95,779.27 739.58,779.56C739.21,779.84 738.83,780.1 738.46,780.38C738.1,780.67 737.74,780.95 737.4,781.26C737.05,781.57 736.73,781.9 736.41,782.25C736.1,782.61 735.8,783 735.5,783.4C735.2,783.81 734.92,784.25 734.61,784.69C734.3,785.13 734,785.6 733.66,786.03C733.31,786.46 732.95,786.9 732.55,787.27C732.15,787.64 731.71,788 731.25,788.26C730.78,788.53 730.27,788.75 729.74,788.87C729.21,789 728.65,789.05 728.08,789.03C727.51,789.02 726.92,788.91 726.35,788.77C725.77,788.63 725.19,788.4 724.63,788.18C724.06,787.96 723.51,787.69 722.98,787.45C722.45,787.2 721.94,786.94 721.45,786.73C720.95,786.52 720.47,786.33 720,786.19C719.53,786.04 719.07,785.94 718.6,785.87C718.14,785.8 717.68,785.78 717.21,785.77C716.75,785.76 716.27,785.79 715.8,785.8C715.32,785.82 714.83,785.85 714.35,785.85C713.86,785.85 713.37,785.85 712.89,785.8C712.4,785.76 711.92,785.69 711.45,785.59C710.98,785.49 710.52,785.36 710.06,785.21C709.61,785.06 709.17,784.87 708.73,784.69C708.29,784.51 707.86,784.31 707.43,784.12C706.99,783.93 706.56,783.74 706.12,783.56C705.67,783.38 705.22,783.2 704.77,783.03C704.31,782.86 703.83,782.71 703.36,782.54C702.88,782.37 702.4,782.2 701.92,782.01C701.45,781.82 700.97,781.63 700.52,781.4C700.07,781.17 699.62,780.92 699.22,780.63C698.82,780.34 698.44,780.03 698.09,779.69C697.75,779.35 697.44,778.97 697.15,778.59C696.87,778.21 696.62,777.79 696.37,777.39C696.12,776.99 695.9,776.58 695.65,776.18C695.4,775.78 695.16,775.38 694.88,775C694.59,774.62 694.29,774.26 693.95,773.9C693.61,773.54 693.23,773.2 692.82,772.85C692.42,772.5 691.97,772.16 691.52,771.8C691.08,771.44 690.6,771.08 690.17,770.69C689.75,770.3 689.31,769.89 688.95,769.46C688.59,769.03 688.26,768.57 688.03,768.09C687.81,767.62 687.64,767.11 687.58,766.6C687.52,766.1 687.55,765.57 687.65,765.05C687.75,764.53 687.96,764 688.2,763.49C688.45,762.99 688.78,762.48 689.11,762C689.45,761.52 689.84,761.05 690.19,760.6C690.55,760.15 690.93,759.72 691.26,759.29C691.59,758.87 691.9,758.46 692.17,758.05C692.44,757.64 692.67,757.24 692.87,756.83C693.07,756.42 693.23,756.02 693.38,755.6C693.53,755.19 693.64,754.78 693.77,754.36C693.9,753.94 694.02,753.52 694.16,753.11C694.31,752.69 694.46,752.28 694.63,751.87C694.81,751.47 695.01,751.07 695.22,750.68C695.43,750.29 695.67,749.91 695.9,749.53C696.14,749.15 696.4,748.78 696.64,748.4C696.88,748.02 697.13,747.64 697.36,747.25C697.6,746.86 697.82,746.47 698.04,746.06C698.26,745.65 698.47,745.22 698.68,744.79C698.9,744.36 699.11,743.92 699.35,743.48C699.58,743.05 699.82,742.6 700.11,742.19C700.39,741.78 700.7,741.37 701.05,741.02C701.4,740.66 701.79,740.33 702.21,740.05C702.64,739.78 703.11,739.55 703.61,739.37C704.1,739.18 704.63,739.06 705.16,738.96C705.7,738.86 706.26,738.82 706.8,738.78C707.35,738.73 707.9,738.73 708.43,738.7C708.96,738.66 709.47,738.64 709.97,738.58C710.47,738.51 710.95,738.43 711.41,738.3C711.88,738.17 712.32,738.01 712.77,737.81C713.22,737.62 713.65,737.37 714.1,737.13C714.55,736.89 715,736.61 715.47,736.36C715.94,736.12 716.42,735.86 716.91,735.66C717.41,735.46 717.92,735.28 718.43,735.18C718.95,735.08 719.48,735.03 720,735.04C720.52,735.06 721.05,735.15 721.56,735.29C722.07,735.43 722.58,735.65 723.06,735.88C723.55,736.12 724.02,736.42 724.47,736.7C724.92,736.99 725.35,737.32 725.78,737.61C726.21,737.91 726.62,738.21 727.03,738.48C727.44,738.74 727.85,738.99 728.26,739.21C728.67,739.43 729.09,739.62 729.51,739.79C729.93,739.97 730.36,740.11 730.8,740.26C731.23,740.4 731.68,740.53 732.12,740.68C732.56,740.82 733.01,740.96 733.44,741.12C733.88,741.28 734.32,741.46 734.75,741.64C735.17,741.83 735.59,742.03 736.01,742.24C736.44,742.44 736.85,742.67 737.27,742.88C737.7,743.09 738.12,743.31 738.56,743.51C739.01,743.72 739.47,743.92 739.95,744.11C740.44,744.3 740.95,744.48 741.48,744.66C742.01,744.85 742.57,745.02 743.13,745.21C743.69,745.4 744.27,745.59 744.83,745.82C745.39,746.05 745.96,746.3 746.47,746.59C746.98,746.88 747.47,747.2 747.89,747.57C748.3,747.93 748.66,748.34 748.94,748.78C749.22,749.22 749.43,749.7 749.56,750.2C749.7,750.7 749.74,751.23 749.75,751.76C749.76,752.29 749.68,752.84 749.6,753.38C749.52,753.91 749.38,754.45 749.27,754.97C749.17,755.49 749.03,755.99 748.96,756.48C748.88,756.97 748.81,757.44 748.8,757.91C748.78,758.38 748.81,758.83 748.87,759.28C748.94,759.73 749.05,760.18 749.16,760.63C749.28,761.08 749.44,761.54 749.56,762Z" fill="url(#dc)" stroke="#eaa09a" stroke-width="0.9"/>
<path d="M704,752C705.67,750.83 709,749.67 711,750C713,750.33 715.83,752.5 716,754C716.17,755.5 712.83,757.17 712,759C711.17,760.83 710.33,763.5 711,765C711.67,766.5 714.5,768.17 716,768C717.5,767.83 718.67,765.5 720,764C721.33,762.5 722.17,760.17 724,759C725.83,757.83 729.5,756.5 731,757C732.5,757.5 733.83,760.5 733,762C732.17,763.5 727.83,764.33 726,766C724.17,767.67 724,770.67 722,772C720,773.33 716.67,774 714,774C711.33,774 708.17,773.5 706,772C703.83,770.5 701.83,767.5 701,765C700.17,762.5 700.5,759.17 701,757C701.5,754.83 702.33,753.17 704,752Z" fill="#eb9892"/>
<ellipse cx="593.2" cy="635.6" rx="15.97" ry="16.3" fill="url(#c_red)"/>
<circle cx="592" cy="635.3" r="8.8" fill="url(#n_red)"/>
<ellipse cx="507.5" cy="656.1" rx="15.97" ry="16.3" fill="url(#c_red)"/>
<circle cx="506.3" cy="655.8" r="8.8" fill="url(#n_red)"/>
<ellipse cx="465.7" cy="695.2" rx="15.97" ry="16.3" fill="url(#c_red)"/>
<circle cx="464.5" cy="694.9" r="8.8" fill="url(#n_red)"/>
<ellipse cx="562.6" cy="684.7" rx="15.97" ry="16.3" fill="url(#c_red)"/>
<circle cx="561.4" cy="684.4" r="8.8" fill="url(#n_red)"/>
<ellipse cx="542.6" cy="711.5" rx="15.97" ry="16.3" fill="url(#c_red)"/>
<circle cx="541.4" cy="711.2" r="8.8" fill="url(#n_red)"/>
<ellipse cx="576" cy="755.3" rx="15.97" ry="16.3" fill="url(#c_red)"/>
<circle cx="574.8" cy="755" r="8.8" fill="url(#n_red)"/>
<ellipse cx="496.1" cy="764.3" rx="15.97" ry="16.3" fill="url(#c_red)"/>
<circle cx="494.9" cy="764" r="8.8" fill="url(#n_red)"/>
<ellipse cx="541.7" cy="788.1" rx="15.97" ry="16.3" fill="url(#c_red)"/>
<circle cx="540.5" cy="787.8" r="8.8" fill="url(#n_red)"/>
<ellipse cx="589.4" cy="811.9" rx="15.97" ry="16.3" fill="url(#c_red)"/>
<circle cx="588.2" cy="811.6" r="8.8" fill="url(#n_red)"/>
<ellipse cx="643" cy="788.1" rx="15.97" ry="16.3" fill="url(#c_red)"/>
<circle cx="641.8" cy="787.8" r="8.8" fill="url(#n_red)"/>
<ellipse cx="725.1" cy="631.7" rx="15.97" ry="16.3" fill="url(#c_red)"/>
<circle cx="723.9" cy="631.4" r="8.8" fill="url(#n_red)"/>
<ellipse cx="793.1" cy="658.3" rx="15.97" ry="16.3" fill="url(#c_red)"/>
<circle cx="791.9" cy="658" r="8.8" fill="url(#n_red)"/>
<ellipse cx="756.2" cy="723.1" rx="15.97" ry="16.3" fill="url(#c_red)"/>
<circle cx="755" cy="722.8" r="8.8" fill="url(#n_red)"/>
<ellipse cx="791.5" cy="754.3" rx="15.97" ry="16.3" fill="url(#c_red)"/>
<circle cx="790.3" cy="754" r="8.8" fill="url(#n_red)"/>
<ellipse cx="789.3" cy="801.1" rx="15.97" ry="16.3" fill="url(#c_red)"/>
<circle cx="788.1" cy="800.8" r="8.8" fill="url(#n_red)"/>
<ellipse cx="743.4" cy="823.6" rx="15.97" ry="16.3" fill="url(#c_red)"/>
<circle cx="742.2" cy="823.3" r="8.8" fill="url(#n_red)"/>
<g transform="translate(686.5,645.4) rotate(2)">
<rect x="-0.75" y="-12" width="1.5" height="12" fill="#8a8a8a"/>
<rect x="-2.7" y="-26" width="4.3" height="15" rx="0.7" fill="#737373"/>
<rect x="3.1" y="-25.5" width="4.1" height="8.3" rx="0.7" fill="#737373"/>
<rect x="3.1" y="-15.7" width="4.1" height="4.7" rx="0.7" fill="#737373"/>
<circle cx="2.3" cy="-26.8" r="2.7" fill="#d12a2a"/>
</g>
<g transform="translate(609.1,683.2) rotate(-47)">
<rect x="-0.75" y="-12" width="1.5" height="12" fill="#8a8a8a"/>
<rect x="-2.7" y="-26" width="4.3" height="15" rx="0.7" fill="#737373"/>
<rect x="3.1" y="-25.5" width="4.1" height="8.3" rx="0.7" fill="#737373"/>
<rect x="3.1" y="-15.7" width="4.1" height="4.7" rx="0.7" fill="#737373"/>
<circle cx="2.3" cy="-26.8" r="2.7" fill="#d12a2a"/>
</g>
<g transform="translate(710.7,678.6) rotate(45)">
<rect x="-0.75" y="-12" width="1.5" height="12" fill="#8a8a8a"/>
<rect x="-2.7" y="-26" width="4.3" height="15" rx="0.7" fill="#737373"/>
<rect x="3.1" y="-25.5" width="4.1" height="8.3" rx="0.7" fill="#737373"/>
<rect x="3.1" y="-15.7" width="4.1" height="4.7" rx="0.7" fill="#737373"/>
<circle cx="2.3" cy="-26.8" r="2.7" fill="#d12a2a"/>
</g>
<g transform="translate(620.5,767.6) rotate(226)">
<rect x="-0.75" y="-12" width="1.5" height="12" fill="#8a8a8a"/>
<rect x="-2.7" y="-26" width="4.3" height="15" rx="0.7" fill="#737373"/>
<rect x="3.1" y="-25.5" width="4.1" height="8.3" rx="0.7" fill="#737373"/>
<rect x="3.1" y="-15.7" width="4.1" height="4.7" rx="0.7" fill="#737373"/>
<circle cx="2.3" cy="-26.8" r="2.7" fill="#d12a2a"/>
</g>
<g transform="translate(744.5,779.5) rotate(153)">
<rect x="-0.75" y="-12" width="1.5" height="12" fill="#8a8a8a"/>
<rect x="-2.7" y="-26" width="4.3" height="15" rx="0.7" fill="#737373"/>
<rect x="3.1" y="-25.5" width="4.1" height="8.3" rx="0.7" fill="#737373"/>
<rect x="3.1" y="-15.7" width="4.1" height="4.7" rx="0.7" fill="#737373"/>
<circle cx="2.3" cy="-26.8" r="2.7" fill="#d12a2a"/>
</g>
<text x="616.5" y="835.5" font-size="18.5" text-anchor="start" font-weight="normal" fill="#111" stroke="#111" stroke-width="0">Dying tumor</text>
</svg></body></html>
